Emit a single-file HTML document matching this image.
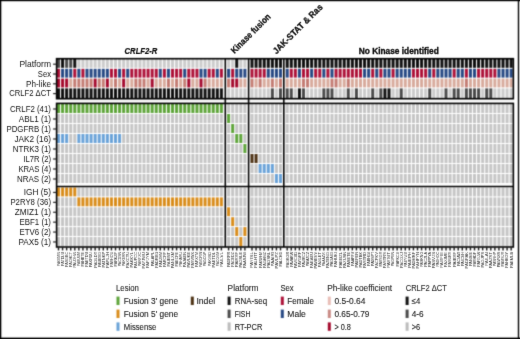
<!DOCTYPE html>
<html><head><meta charset="utf-8"><title>Oncoprint</title>
<style>html,body{margin:0;padding:0;background:#fff;} body{width:520px;height:339px;overflow:hidden;font-family:"Liberation Sans",sans-serif;} svg{display:block;}</style>
</head><body>
<svg width="520" height="339" viewBox="0 0 520 339"><defs><filter id="bl" x="0" y="0" width="1" height="1" color-interpolation-filters="sRGB"><feConvolveMatrix order="3" kernelMatrix="0.02768 0.11101 0.02768 0.11101 0.44521 0.11101 0.02768 0.11101 0.02768" edgeMode="duplicate"/></filter><filter id="bt" x="-0.02" y="-0.02" width="1.04" height="1.04" color-interpolation-filters="sRGB"><feConvolveMatrix order="3" kernelMatrix="0.00524 0.06192 0.00524 0.06192 0.73137 0.06192 0.00524 0.06192 0.00524" edgeMode="none"/></filter></defs><rect width="520" height="339" fill="#fff"/><g filter="url(#bl)"><rect width="520" height="339" fill="#fff"/><rect x="57.00" y="59.00" width="3.00" height="8.80" fill="#4a4a4a"/>
<rect x="57.00" y="68.80" width="3.00" height="8.80" fill="#ad1239"/>
<rect x="57.00" y="78.60" width="3.00" height="8.80" fill="#a50b2e"/>
<rect x="57.00" y="88.40" width="3.00" height="9.60" fill="#111111"/>
<rect x="61.07" y="59.00" width="3.00" height="8.80" fill="#111111"/>
<rect x="61.07" y="68.80" width="3.00" height="8.80" fill="#274984"/>
<rect x="61.07" y="78.60" width="3.00" height="8.80" fill="#a50b2e"/>
<rect x="61.07" y="88.40" width="3.00" height="9.60" fill="#111111"/>
<rect x="65.14" y="59.00" width="3.00" height="8.80" fill="#4a4a4a"/>
<rect x="65.14" y="68.80" width="3.00" height="8.80" fill="#274984"/>
<rect x="65.14" y="78.60" width="3.00" height="8.80" fill="#a50b2e"/>
<rect x="65.14" y="88.40" width="3.00" height="9.60" fill="#111111"/>
<rect x="69.22" y="59.00" width="3.00" height="8.80" fill="#4a4a4a"/>
<rect x="69.22" y="68.80" width="3.00" height="8.80" fill="#274984"/>
<rect x="69.22" y="78.60" width="3.00" height="8.80" fill="#d8ab9d"/>
<rect x="69.22" y="88.40" width="3.00" height="9.60" fill="#111111"/>
<rect x="73.29" y="59.00" width="3.00" height="8.80" fill="#111111"/>
<rect x="73.29" y="68.80" width="3.00" height="8.80" fill="#ad1239"/>
<rect x="73.29" y="78.60" width="3.00" height="8.80" fill="#c47d74"/>
<rect x="73.29" y="88.40" width="3.00" height="9.60" fill="#111111"/>
<rect x="77.36" y="59.00" width="3.00" height="8.80" fill="#cccccc"/>
<rect x="77.36" y="68.80" width="3.00" height="8.80" fill="#274984"/>
<rect x="77.36" y="78.60" width="3.00" height="8.80" fill="#c47d74"/>
<rect x="77.36" y="88.40" width="3.00" height="9.60" fill="#111111"/>
<rect x="81.43" y="59.00" width="3.00" height="8.80" fill="#cccccc"/>
<rect x="81.43" y="68.80" width="3.00" height="8.80" fill="#ad1239"/>
<rect x="81.43" y="78.60" width="3.00" height="8.80" fill="#c47d74"/>
<rect x="81.43" y="88.40" width="3.00" height="9.60" fill="#111111"/>
<rect x="85.50" y="59.00" width="3.00" height="8.80" fill="#cccccc"/>
<rect x="85.50" y="68.80" width="3.00" height="8.80" fill="#274984"/>
<rect x="85.50" y="78.60" width="3.00" height="8.80" fill="#c47d74"/>
<rect x="85.50" y="88.40" width="3.00" height="9.60" fill="#111111"/>
<rect x="89.58" y="59.00" width="3.00" height="8.80" fill="#cccccc"/>
<rect x="89.58" y="68.80" width="3.00" height="8.80" fill="#274984"/>
<rect x="89.58" y="78.60" width="3.00" height="8.80" fill="#c47d74"/>
<rect x="89.58" y="88.40" width="3.00" height="9.60" fill="#111111"/>
<rect x="93.65" y="59.00" width="3.00" height="8.80" fill="#cccccc"/>
<rect x="93.65" y="68.80" width="3.00" height="8.80" fill="#274984"/>
<rect x="93.65" y="78.60" width="3.00" height="8.80" fill="#a50b2e"/>
<rect x="93.65" y="88.40" width="3.00" height="9.60" fill="#111111"/>
<rect x="97.72" y="59.00" width="3.00" height="8.80" fill="#cccccc"/>
<rect x="97.72" y="68.80" width="3.00" height="8.80" fill="#274984"/>
<rect x="97.72" y="78.60" width="3.00" height="8.80" fill="#c47d74"/>
<rect x="97.72" y="88.40" width="3.00" height="9.60" fill="#111111"/>
<rect x="101.79" y="59.00" width="3.00" height="8.80" fill="#cccccc"/>
<rect x="101.79" y="68.80" width="3.00" height="8.80" fill="#274984"/>
<rect x="101.79" y="78.60" width="3.00" height="8.80" fill="#c47d74"/>
<rect x="101.79" y="88.40" width="3.00" height="9.60" fill="#111111"/>
<rect x="105.86" y="59.00" width="3.00" height="8.80" fill="#cccccc"/>
<rect x="105.86" y="68.80" width="3.00" height="8.80" fill="#274984"/>
<rect x="105.86" y="78.60" width="3.00" height="8.80" fill="#a50b2e"/>
<rect x="105.86" y="88.40" width="3.00" height="9.60" fill="#111111"/>
<rect x="109.94" y="59.00" width="3.00" height="8.80" fill="#cccccc"/>
<rect x="109.94" y="68.80" width="3.00" height="8.80" fill="#ad1239"/>
<rect x="109.94" y="78.60" width="3.00" height="8.80" fill="#d8ab9d"/>
<rect x="109.94" y="88.40" width="3.00" height="9.60" fill="#111111"/>
<rect x="114.01" y="59.00" width="3.00" height="8.80" fill="#cccccc"/>
<rect x="114.01" y="68.80" width="3.00" height="8.80" fill="#ad1239"/>
<rect x="114.01" y="78.60" width="3.00" height="8.80" fill="#c47d74"/>
<rect x="114.01" y="88.40" width="3.00" height="9.60" fill="#111111"/>
<rect x="118.08" y="59.00" width="3.00" height="8.80" fill="#cccccc"/>
<rect x="118.08" y="68.80" width="3.00" height="8.80" fill="#274984"/>
<rect x="118.08" y="78.60" width="3.00" height="8.80" fill="#d8ab9d"/>
<rect x="118.08" y="88.40" width="3.00" height="9.60" fill="#111111"/>
<rect x="122.15" y="59.00" width="3.00" height="8.80" fill="#cccccc"/>
<rect x="122.15" y="68.80" width="3.00" height="8.80" fill="#ad1239"/>
<rect x="122.15" y="78.60" width="3.00" height="8.80" fill="#a50b2e"/>
<rect x="122.15" y="88.40" width="3.00" height="9.60" fill="#111111"/>
<rect x="126.22" y="59.00" width="3.00" height="8.80" fill="#cccccc"/>
<rect x="126.22" y="68.80" width="3.00" height="8.80" fill="#274984"/>
<rect x="126.22" y="78.60" width="3.00" height="8.80" fill="#d8ab9d"/>
<rect x="126.22" y="88.40" width="3.00" height="9.60" fill="#111111"/>
<rect x="130.30" y="59.00" width="3.00" height="8.80" fill="#cccccc"/>
<rect x="130.30" y="68.80" width="3.00" height="8.80" fill="#ad1239"/>
<rect x="130.30" y="78.60" width="3.00" height="8.80" fill="#d8ab9d"/>
<rect x="130.30" y="88.40" width="3.00" height="9.60" fill="#111111"/>
<rect x="134.37" y="59.00" width="3.00" height="8.80" fill="#cccccc"/>
<rect x="134.37" y="68.80" width="3.00" height="8.80" fill="#ad1239"/>
<rect x="134.37" y="78.60" width="3.00" height="8.80" fill="#c47d74"/>
<rect x="134.37" y="88.40" width="3.00" height="9.60" fill="#111111"/>
<rect x="138.44" y="59.00" width="3.00" height="8.80" fill="#cccccc"/>
<rect x="138.44" y="68.80" width="3.00" height="8.80" fill="#ad1239"/>
<rect x="138.44" y="78.60" width="3.00" height="8.80" fill="#c47d74"/>
<rect x="138.44" y="88.40" width="3.00" height="9.60" fill="#111111"/>
<rect x="142.51" y="59.00" width="3.00" height="8.80" fill="#cccccc"/>
<rect x="142.51" y="68.80" width="3.00" height="8.80" fill="#ad1239"/>
<rect x="142.51" y="78.60" width="3.00" height="8.80" fill="#c47d74"/>
<rect x="142.51" y="88.40" width="3.00" height="9.60" fill="#111111"/>
<rect x="146.58" y="59.00" width="3.00" height="8.80" fill="#cccccc"/>
<rect x="146.58" y="68.80" width="3.00" height="8.80" fill="#ad1239"/>
<rect x="146.58" y="78.60" width="3.00" height="8.80" fill="#d8ab9d"/>
<rect x="146.58" y="88.40" width="3.00" height="9.60" fill="#111111"/>
<rect x="150.66" y="59.00" width="3.00" height="8.80" fill="#cccccc"/>
<rect x="150.66" y="68.80" width="3.00" height="8.80" fill="#ad1239"/>
<rect x="150.66" y="78.60" width="3.00" height="8.80" fill="#a50b2e"/>
<rect x="150.66" y="88.40" width="3.00" height="9.60" fill="#111111"/>
<rect x="154.73" y="59.00" width="3.00" height="8.80" fill="#cccccc"/>
<rect x="154.73" y="68.80" width="3.00" height="8.80" fill="#ad1239"/>
<rect x="154.73" y="78.60" width="3.00" height="8.80" fill="#d8ab9d"/>
<rect x="154.73" y="88.40" width="3.00" height="9.60" fill="#111111"/>
<rect x="158.80" y="59.00" width="3.00" height="8.80" fill="#cccccc"/>
<rect x="158.80" y="68.80" width="3.00" height="8.80" fill="#274984"/>
<rect x="158.80" y="78.60" width="3.00" height="8.80" fill="#d8ab9d"/>
<rect x="158.80" y="88.40" width="3.00" height="9.60" fill="#111111"/>
<rect x="162.87" y="59.00" width="3.00" height="8.80" fill="#cccccc"/>
<rect x="162.87" y="68.80" width="3.00" height="8.80" fill="#ad1239"/>
<rect x="162.87" y="78.60" width="3.00" height="8.80" fill="#d8ab9d"/>
<rect x="162.87" y="88.40" width="3.00" height="9.60" fill="#111111"/>
<rect x="166.94" y="59.00" width="3.00" height="8.80" fill="#cccccc"/>
<rect x="166.94" y="68.80" width="3.00" height="8.80" fill="#274984"/>
<rect x="166.94" y="78.60" width="3.00" height="8.80" fill="#c47d74"/>
<rect x="166.94" y="88.40" width="3.00" height="9.60" fill="#111111"/>
<rect x="171.02" y="59.00" width="3.00" height="8.80" fill="#cccccc"/>
<rect x="171.02" y="68.80" width="3.00" height="8.80" fill="#ad1239"/>
<rect x="171.02" y="78.60" width="3.00" height="8.80" fill="#d8ab9d"/>
<rect x="171.02" y="88.40" width="3.00" height="9.60" fill="#111111"/>
<rect x="175.09" y="59.00" width="3.00" height="8.80" fill="#cccccc"/>
<rect x="175.09" y="68.80" width="3.00" height="8.80" fill="#ad1239"/>
<rect x="175.09" y="78.60" width="3.00" height="8.80" fill="#c47d74"/>
<rect x="175.09" y="88.40" width="3.00" height="9.60" fill="#111111"/>
<rect x="179.16" y="59.00" width="3.00" height="8.80" fill="#cccccc"/>
<rect x="179.16" y="68.80" width="3.00" height="8.80" fill="#ad1239"/>
<rect x="179.16" y="78.60" width="3.00" height="8.80" fill="#d8ab9d"/>
<rect x="179.16" y="88.40" width="3.00" height="9.60" fill="#111111"/>
<rect x="183.23" y="59.00" width="3.00" height="8.80" fill="#cccccc"/>
<rect x="183.23" y="68.80" width="3.00" height="8.80" fill="#274984"/>
<rect x="183.23" y="78.60" width="3.00" height="8.80" fill="#c47d74"/>
<rect x="183.23" y="88.40" width="3.00" height="9.60" fill="#111111"/>
<rect x="187.30" y="59.00" width="3.00" height="8.80" fill="#cccccc"/>
<rect x="187.30" y="68.80" width="3.00" height="8.80" fill="#ad1239"/>
<rect x="187.30" y="78.60" width="3.00" height="8.80" fill="#a50b2e"/>
<rect x="187.30" y="88.40" width="3.00" height="9.60" fill="#111111"/>
<rect x="191.38" y="59.00" width="3.00" height="8.80" fill="#cccccc"/>
<rect x="191.38" y="68.80" width="3.00" height="8.80" fill="#ad1239"/>
<rect x="191.38" y="78.60" width="3.00" height="8.80" fill="#d8ab9d"/>
<rect x="191.38" y="88.40" width="3.00" height="9.60" fill="#111111"/>
<rect x="195.45" y="59.00" width="3.00" height="8.80" fill="#cccccc"/>
<rect x="195.45" y="68.80" width="3.00" height="8.80" fill="#ad1239"/>
<rect x="195.45" y="78.60" width="3.00" height="8.80" fill="#d8ab9d"/>
<rect x="195.45" y="88.40" width="3.00" height="9.60" fill="#111111"/>
<rect x="199.52" y="59.00" width="3.00" height="8.80" fill="#cccccc"/>
<rect x="199.52" y="68.80" width="3.00" height="8.80" fill="#274984"/>
<rect x="199.52" y="78.60" width="3.00" height="8.80" fill="#a50b2e"/>
<rect x="199.52" y="88.40" width="3.00" height="9.60" fill="#111111"/>
<rect x="203.59" y="59.00" width="3.00" height="8.80" fill="#cccccc"/>
<rect x="203.59" y="68.80" width="3.00" height="8.80" fill="#274984"/>
<rect x="203.59" y="78.60" width="3.00" height="8.80" fill="#c47d74"/>
<rect x="203.59" y="88.40" width="3.00" height="9.60" fill="#111111"/>
<rect x="207.66" y="59.00" width="3.00" height="8.80" fill="#cccccc"/>
<rect x="207.66" y="68.80" width="3.00" height="8.80" fill="#ad1239"/>
<rect x="207.66" y="78.60" width="3.00" height="8.80" fill="#d8ab9d"/>
<rect x="207.66" y="88.40" width="3.00" height="9.60" fill="#111111"/>
<rect x="211.74" y="59.00" width="3.00" height="8.80" fill="#cccccc"/>
<rect x="211.74" y="68.80" width="3.00" height="8.80" fill="#ad1239"/>
<rect x="211.74" y="78.60" width="3.00" height="8.80" fill="#d8ab9d"/>
<rect x="211.74" y="88.40" width="3.00" height="9.60" fill="#111111"/>
<rect x="215.81" y="59.00" width="3.00" height="8.80" fill="#cccccc"/>
<rect x="215.81" y="68.80" width="3.00" height="8.80" fill="#274984"/>
<rect x="215.81" y="78.60" width="3.00" height="8.80" fill="#d8ab9d"/>
<rect x="215.81" y="88.40" width="3.00" height="9.60" fill="#111111"/>
<rect x="219.88" y="59.00" width="3.00" height="8.80" fill="#cccccc"/>
<rect x="219.88" y="68.80" width="3.00" height="8.80" fill="#ad1239"/>
<rect x="219.88" y="78.60" width="3.00" height="8.80" fill="#d8ab9d"/>
<rect x="219.88" y="88.40" width="3.00" height="9.60" fill="#111111"/>
<rect x="227.10" y="59.00" width="3.00" height="8.80" fill="#cccccc"/>
<rect x="227.10" y="68.80" width="3.00" height="8.80" fill="#274984"/>
<rect x="227.10" y="78.60" width="3.00" height="8.80" fill="#c47d74"/>
<rect x="227.10" y="88.40" width="3.00" height="9.60" fill="#cccccc"/>
<rect x="231.17" y="59.00" width="3.00" height="8.80" fill="#cccccc"/>
<rect x="231.17" y="68.80" width="3.00" height="8.80" fill="#ad1239"/>
<rect x="231.17" y="78.60" width="3.00" height="8.80" fill="#a50b2e"/>
<rect x="231.17" y="88.40" width="3.00" height="9.60" fill="#cccccc"/>
<rect x="235.24" y="59.00" width="3.00" height="8.80" fill="#111111"/>
<rect x="235.24" y="68.80" width="3.00" height="8.80" fill="#274984"/>
<rect x="235.24" y="78.60" width="3.00" height="8.80" fill="#a50b2e"/>
<rect x="235.24" y="88.40" width="3.00" height="9.60" fill="#cccccc"/>
<rect x="239.32" y="59.00" width="3.00" height="8.80" fill="#cccccc"/>
<rect x="239.32" y="68.80" width="3.00" height="8.80" fill="#274984"/>
<rect x="239.32" y="78.60" width="3.00" height="8.80" fill="#d8ab9d"/>
<rect x="239.32" y="88.40" width="3.00" height="9.60" fill="#cccccc"/>
<rect x="243.39" y="59.00" width="3.00" height="8.80" fill="#cccccc"/>
<rect x="243.39" y="68.80" width="3.00" height="8.80" fill="#274984"/>
<rect x="243.39" y="78.60" width="3.00" height="8.80" fill="#d8ab9d"/>
<rect x="243.39" y="88.40" width="3.00" height="9.60" fill="#cccccc"/>
<rect x="250.50" y="59.00" width="3.00" height="8.80" fill="#111111"/>
<rect x="250.50" y="68.80" width="3.00" height="8.80" fill="#ad1239"/>
<rect x="250.50" y="78.60" width="3.00" height="8.80" fill="#c47d74"/>
<rect x="250.50" y="88.40" width="3.00" height="9.60" fill="#cccccc"/>
<rect x="254.57" y="59.00" width="3.00" height="8.80" fill="#111111"/>
<rect x="254.57" y="68.80" width="3.00" height="8.80" fill="#ad1239"/>
<rect x="254.57" y="78.60" width="3.00" height="8.80" fill="#d8ab9d"/>
<rect x="254.57" y="88.40" width="3.00" height="9.60" fill="#cccccc"/>
<rect x="258.64" y="59.00" width="3.00" height="8.80" fill="#111111"/>
<rect x="258.64" y="68.80" width="3.00" height="8.80" fill="#ad1239"/>
<rect x="258.64" y="78.60" width="3.00" height="8.80" fill="#c47d74"/>
<rect x="258.64" y="88.40" width="3.00" height="9.60" fill="#cccccc"/>
<rect x="262.72" y="59.00" width="3.00" height="8.80" fill="#111111"/>
<rect x="262.72" y="68.80" width="3.00" height="8.80" fill="#ad1239"/>
<rect x="262.72" y="78.60" width="3.00" height="8.80" fill="#d8ab9d"/>
<rect x="262.72" y="88.40" width="3.00" height="9.60" fill="#cccccc"/>
<rect x="266.79" y="59.00" width="3.00" height="8.80" fill="#111111"/>
<rect x="266.79" y="68.80" width="3.00" height="8.80" fill="#274984"/>
<rect x="266.79" y="78.60" width="3.00" height="8.80" fill="#d8ab9d"/>
<rect x="266.79" y="88.40" width="3.00" height="9.60" fill="#cccccc"/>
<rect x="270.86" y="59.00" width="3.00" height="8.80" fill="#111111"/>
<rect x="270.86" y="68.80" width="3.00" height="8.80" fill="#274984"/>
<rect x="270.86" y="78.60" width="3.00" height="8.80" fill="#c47d74"/>
<rect x="270.86" y="88.40" width="3.00" height="9.60" fill="#4a4a4a"/>
<rect x="274.93" y="59.00" width="3.00" height="8.80" fill="#111111"/>
<rect x="274.93" y="68.80" width="3.00" height="8.80" fill="#274984"/>
<rect x="274.93" y="78.60" width="3.00" height="8.80" fill="#d8ab9d"/>
<rect x="274.93" y="88.40" width="3.00" height="9.60" fill="#cccccc"/>
<rect x="279.00" y="59.00" width="3.00" height="8.80" fill="#111111"/>
<rect x="279.00" y="68.80" width="3.00" height="8.80" fill="#274984"/>
<rect x="279.00" y="78.60" width="3.00" height="8.80" fill="#c47d74"/>
<rect x="279.00" y="88.40" width="3.00" height="9.60" fill="#4a4a4a"/>
<rect x="285.70" y="59.00" width="3.00" height="8.80" fill="#111111"/>
<rect x="285.70" y="68.80" width="3.00" height="8.80" fill="#274984"/>
<rect x="285.70" y="78.60" width="3.00" height="8.80" fill="#d8ab9d"/>
<rect x="285.70" y="88.40" width="3.00" height="9.60" fill="#4a4a4a"/>
<rect x="289.77" y="59.00" width="3.00" height="8.80" fill="#111111"/>
<rect x="289.77" y="68.80" width="3.00" height="8.80" fill="#ad1239"/>
<rect x="289.77" y="78.60" width="3.00" height="8.80" fill="#d8ab9d"/>
<rect x="289.77" y="88.40" width="3.00" height="9.60" fill="#4a4a4a"/>
<rect x="293.84" y="59.00" width="3.00" height="8.80" fill="#111111"/>
<rect x="293.84" y="68.80" width="3.00" height="8.80" fill="#ad1239"/>
<rect x="293.84" y="78.60" width="3.00" height="8.80" fill="#d8ab9d"/>
<rect x="293.84" y="88.40" width="3.00" height="9.60" fill="#cccccc"/>
<rect x="297.92" y="59.00" width="3.00" height="8.80" fill="#111111"/>
<rect x="297.92" y="68.80" width="3.00" height="8.80" fill="#274984"/>
<rect x="297.92" y="78.60" width="3.00" height="8.80" fill="#d8ab9d"/>
<rect x="297.92" y="88.40" width="3.00" height="9.60" fill="#111111"/>
<rect x="301.99" y="59.00" width="3.00" height="8.80" fill="#111111"/>
<rect x="301.99" y="68.80" width="3.00" height="8.80" fill="#ad1239"/>
<rect x="301.99" y="78.60" width="3.00" height="8.80" fill="#c47d74"/>
<rect x="301.99" y="88.40" width="3.00" height="9.60" fill="#4a4a4a"/>
<rect x="306.06" y="59.00" width="3.00" height="8.80" fill="#111111"/>
<rect x="306.06" y="68.80" width="3.00" height="8.80" fill="#ad1239"/>
<rect x="306.06" y="78.60" width="3.00" height="8.80" fill="#c47d74"/>
<rect x="306.06" y="88.40" width="3.00" height="9.60" fill="#cccccc"/>
<rect x="310.13" y="59.00" width="3.00" height="8.80" fill="#111111"/>
<rect x="310.13" y="68.80" width="3.00" height="8.80" fill="#274984"/>
<rect x="310.13" y="78.60" width="3.00" height="8.80" fill="#d8ab9d"/>
<rect x="310.13" y="88.40" width="3.00" height="9.60" fill="#cccccc"/>
<rect x="314.20" y="59.00" width="3.00" height="8.80" fill="#111111"/>
<rect x="314.20" y="68.80" width="3.00" height="8.80" fill="#ad1239"/>
<rect x="314.20" y="78.60" width="3.00" height="8.80" fill="#d8ab9d"/>
<rect x="314.20" y="88.40" width="3.00" height="9.60" fill="#cccccc"/>
<rect x="318.28" y="59.00" width="3.00" height="8.80" fill="#111111"/>
<rect x="318.28" y="68.80" width="3.00" height="8.80" fill="#ad1239"/>
<rect x="318.28" y="78.60" width="3.00" height="8.80" fill="#d8ab9d"/>
<rect x="318.28" y="88.40" width="3.00" height="9.60" fill="#cccccc"/>
<rect x="322.35" y="59.00" width="3.00" height="8.80" fill="#111111"/>
<rect x="322.35" y="68.80" width="3.00" height="8.80" fill="#274984"/>
<rect x="322.35" y="78.60" width="3.00" height="8.80" fill="#d8ab9d"/>
<rect x="322.35" y="88.40" width="3.00" height="9.60" fill="#4a4a4a"/>
<rect x="326.42" y="59.00" width="3.00" height="8.80" fill="#111111"/>
<rect x="326.42" y="68.80" width="3.00" height="8.80" fill="#ad1239"/>
<rect x="326.42" y="78.60" width="3.00" height="8.80" fill="#d8ab9d"/>
<rect x="326.42" y="88.40" width="3.00" height="9.60" fill="#4a4a4a"/>
<rect x="330.49" y="59.00" width="3.00" height="8.80" fill="#111111"/>
<rect x="330.49" y="68.80" width="3.00" height="8.80" fill="#274984"/>
<rect x="330.49" y="78.60" width="3.00" height="8.80" fill="#c47d74"/>
<rect x="330.49" y="88.40" width="3.00" height="9.60" fill="#4a4a4a"/>
<rect x="334.56" y="59.00" width="3.00" height="8.80" fill="#111111"/>
<rect x="334.56" y="68.80" width="3.00" height="8.80" fill="#ad1239"/>
<rect x="334.56" y="78.60" width="3.00" height="8.80" fill="#c47d74"/>
<rect x="334.56" y="88.40" width="3.00" height="9.60" fill="#cccccc"/>
<rect x="338.64" y="59.00" width="3.00" height="8.80" fill="#111111"/>
<rect x="338.64" y="68.80" width="3.00" height="8.80" fill="#ad1239"/>
<rect x="338.64" y="78.60" width="3.00" height="8.80" fill="#d8ab9d"/>
<rect x="338.64" y="88.40" width="3.00" height="9.60" fill="#cccccc"/>
<rect x="342.71" y="59.00" width="3.00" height="8.80" fill="#111111"/>
<rect x="342.71" y="68.80" width="3.00" height="8.80" fill="#ad1239"/>
<rect x="342.71" y="78.60" width="3.00" height="8.80" fill="#d8ab9d"/>
<rect x="342.71" y="88.40" width="3.00" height="9.60" fill="#cccccc"/>
<rect x="346.78" y="59.00" width="3.00" height="8.80" fill="#111111"/>
<rect x="346.78" y="68.80" width="3.00" height="8.80" fill="#ad1239"/>
<rect x="346.78" y="78.60" width="3.00" height="8.80" fill="#c47d74"/>
<rect x="346.78" y="88.40" width="3.00" height="9.60" fill="#4a4a4a"/>
<rect x="350.85" y="59.00" width="3.00" height="8.80" fill="#111111"/>
<rect x="350.85" y="68.80" width="3.00" height="8.80" fill="#ad1239"/>
<rect x="350.85" y="78.60" width="3.00" height="8.80" fill="#d8ab9d"/>
<rect x="350.85" y="88.40" width="3.00" height="9.60" fill="#cccccc"/>
<rect x="354.92" y="59.00" width="3.00" height="8.80" fill="#111111"/>
<rect x="354.92" y="68.80" width="3.00" height="8.80" fill="#ad1239"/>
<rect x="354.92" y="78.60" width="3.00" height="8.80" fill="#d8ab9d"/>
<rect x="354.92" y="88.40" width="3.00" height="9.60" fill="#4a4a4a"/>
<rect x="359.00" y="59.00" width="3.00" height="8.80" fill="#111111"/>
<rect x="359.00" y="68.80" width="3.00" height="8.80" fill="#ad1239"/>
<rect x="359.00" y="78.60" width="3.00" height="8.80" fill="#d8ab9d"/>
<rect x="359.00" y="88.40" width="3.00" height="9.60" fill="#cccccc"/>
<rect x="363.07" y="59.00" width="3.00" height="8.80" fill="#111111"/>
<rect x="363.07" y="68.80" width="3.00" height="8.80" fill="#274984"/>
<rect x="363.07" y="78.60" width="3.00" height="8.80" fill="#d8ab9d"/>
<rect x="363.07" y="88.40" width="3.00" height="9.60" fill="#cccccc"/>
<rect x="367.14" y="59.00" width="3.00" height="8.80" fill="#111111"/>
<rect x="367.14" y="68.80" width="3.00" height="8.80" fill="#274984"/>
<rect x="367.14" y="78.60" width="3.00" height="8.80" fill="#d8ab9d"/>
<rect x="367.14" y="88.40" width="3.00" height="9.60" fill="#cccccc"/>
<rect x="371.21" y="59.00" width="3.00" height="8.80" fill="#111111"/>
<rect x="371.21" y="68.80" width="3.00" height="8.80" fill="#ad1239"/>
<rect x="371.21" y="78.60" width="3.00" height="8.80" fill="#d8ab9d"/>
<rect x="371.21" y="88.40" width="3.00" height="9.60" fill="#4a4a4a"/>
<rect x="375.28" y="59.00" width="3.00" height="8.80" fill="#111111"/>
<rect x="375.28" y="68.80" width="3.00" height="8.80" fill="#274984"/>
<rect x="375.28" y="78.60" width="3.00" height="8.80" fill="#d8ab9d"/>
<rect x="375.28" y="88.40" width="3.00" height="9.60" fill="#cccccc"/>
<rect x="379.36" y="59.00" width="3.00" height="8.80" fill="#111111"/>
<rect x="379.36" y="68.80" width="3.00" height="8.80" fill="#ad1239"/>
<rect x="379.36" y="78.60" width="3.00" height="8.80" fill="#d8ab9d"/>
<rect x="379.36" y="88.40" width="3.00" height="9.60" fill="#4a4a4a"/>
<rect x="383.43" y="59.00" width="3.00" height="8.80" fill="#111111"/>
<rect x="383.43" y="68.80" width="3.00" height="8.80" fill="#274984"/>
<rect x="383.43" y="78.60" width="3.00" height="8.80" fill="#d8ab9d"/>
<rect x="383.43" y="88.40" width="3.00" height="9.60" fill="#111111"/>
<rect x="387.50" y="59.00" width="3.00" height="8.80" fill="#111111"/>
<rect x="387.50" y="68.80" width="3.00" height="8.80" fill="#274984"/>
<rect x="387.50" y="78.60" width="3.00" height="8.80" fill="#d8ab9d"/>
<rect x="387.50" y="88.40" width="3.00" height="9.60" fill="#111111"/>
<rect x="391.57" y="59.00" width="3.00" height="8.80" fill="#111111"/>
<rect x="391.57" y="68.80" width="3.00" height="8.80" fill="#ad1239"/>
<rect x="391.57" y="78.60" width="3.00" height="8.80" fill="#d8ab9d"/>
<rect x="391.57" y="88.40" width="3.00" height="9.60" fill="#cccccc"/>
<rect x="395.64" y="59.00" width="3.00" height="8.80" fill="#111111"/>
<rect x="395.64" y="68.80" width="3.00" height="8.80" fill="#274984"/>
<rect x="395.64" y="78.60" width="3.00" height="8.80" fill="#d8ab9d"/>
<rect x="395.64" y="88.40" width="3.00" height="9.60" fill="#cccccc"/>
<rect x="399.72" y="59.00" width="3.00" height="8.80" fill="#111111"/>
<rect x="399.72" y="68.80" width="3.00" height="8.80" fill="#274984"/>
<rect x="399.72" y="78.60" width="3.00" height="8.80" fill="#d8ab9d"/>
<rect x="399.72" y="88.40" width="3.00" height="9.60" fill="#4a4a4a"/>
<rect x="403.79" y="59.00" width="3.00" height="8.80" fill="#111111"/>
<rect x="403.79" y="68.80" width="3.00" height="8.80" fill="#274984"/>
<rect x="403.79" y="78.60" width="3.00" height="8.80" fill="#d8ab9d"/>
<rect x="403.79" y="88.40" width="3.00" height="9.60" fill="#cccccc"/>
<rect x="407.86" y="59.00" width="3.00" height="8.80" fill="#111111"/>
<rect x="407.86" y="68.80" width="3.00" height="8.80" fill="#274984"/>
<rect x="407.86" y="78.60" width="3.00" height="8.80" fill="#d8ab9d"/>
<rect x="407.86" y="88.40" width="3.00" height="9.60" fill="#cccccc"/>
<rect x="411.93" y="59.00" width="3.00" height="8.80" fill="#111111"/>
<rect x="411.93" y="68.80" width="3.00" height="8.80" fill="#ad1239"/>
<rect x="411.93" y="78.60" width="3.00" height="8.80" fill="#d8ab9d"/>
<rect x="411.93" y="88.40" width="3.00" height="9.60" fill="#cccccc"/>
<rect x="416.00" y="59.00" width="3.00" height="8.80" fill="#111111"/>
<rect x="416.00" y="68.80" width="3.00" height="8.80" fill="#ad1239"/>
<rect x="416.00" y="78.60" width="3.00" height="8.80" fill="#d8ab9d"/>
<rect x="416.00" y="88.40" width="3.00" height="9.60" fill="#cccccc"/>
<rect x="420.08" y="59.00" width="3.00" height="8.80" fill="#111111"/>
<rect x="420.08" y="68.80" width="3.00" height="8.80" fill="#ad1239"/>
<rect x="420.08" y="78.60" width="3.00" height="8.80" fill="#d8ab9d"/>
<rect x="420.08" y="88.40" width="3.00" height="9.60" fill="#cccccc"/>
<rect x="424.15" y="59.00" width="3.00" height="8.80" fill="#111111"/>
<rect x="424.15" y="68.80" width="3.00" height="8.80" fill="#ad1239"/>
<rect x="424.15" y="78.60" width="3.00" height="8.80" fill="#d8ab9d"/>
<rect x="424.15" y="88.40" width="3.00" height="9.60" fill="#cccccc"/>
<rect x="428.22" y="59.00" width="3.00" height="8.80" fill="#111111"/>
<rect x="428.22" y="68.80" width="3.00" height="8.80" fill="#274984"/>
<rect x="428.22" y="78.60" width="3.00" height="8.80" fill="#d8ab9d"/>
<rect x="428.22" y="88.40" width="3.00" height="9.60" fill="#4a4a4a"/>
<rect x="432.29" y="59.00" width="3.00" height="8.80" fill="#111111"/>
<rect x="432.29" y="68.80" width="3.00" height="8.80" fill="#ad1239"/>
<rect x="432.29" y="78.60" width="3.00" height="8.80" fill="#d8ab9d"/>
<rect x="432.29" y="88.40" width="3.00" height="9.60" fill="#cccccc"/>
<rect x="436.36" y="59.00" width="3.00" height="8.80" fill="#111111"/>
<rect x="436.36" y="68.80" width="3.00" height="8.80" fill="#274984"/>
<rect x="436.36" y="78.60" width="3.00" height="8.80" fill="#d8ab9d"/>
<rect x="436.36" y="88.40" width="3.00" height="9.60" fill="#cccccc"/>
<rect x="440.44" y="59.00" width="3.00" height="8.80" fill="#111111"/>
<rect x="440.44" y="68.80" width="3.00" height="8.80" fill="#274984"/>
<rect x="440.44" y="78.60" width="3.00" height="8.80" fill="#d8ab9d"/>
<rect x="440.44" y="88.40" width="3.00" height="9.60" fill="#cccccc"/>
<rect x="444.51" y="59.00" width="3.00" height="8.80" fill="#111111"/>
<rect x="444.51" y="68.80" width="3.00" height="8.80" fill="#274984"/>
<rect x="444.51" y="78.60" width="3.00" height="8.80" fill="#d8ab9d"/>
<rect x="444.51" y="88.40" width="3.00" height="9.60" fill="#4a4a4a"/>
<rect x="448.58" y="59.00" width="3.00" height="8.80" fill="#111111"/>
<rect x="448.58" y="68.80" width="3.00" height="8.80" fill="#274984"/>
<rect x="448.58" y="78.60" width="3.00" height="8.80" fill="#d8ab9d"/>
<rect x="448.58" y="88.40" width="3.00" height="9.60" fill="#cccccc"/>
<rect x="452.65" y="59.00" width="3.00" height="8.80" fill="#111111"/>
<rect x="452.65" y="68.80" width="3.00" height="8.80" fill="#ad1239"/>
<rect x="452.65" y="78.60" width="3.00" height="8.80" fill="#d8ab9d"/>
<rect x="452.65" y="88.40" width="3.00" height="9.60" fill="#4a4a4a"/>
<rect x="456.72" y="59.00" width="3.00" height="8.80" fill="#111111"/>
<rect x="456.72" y="68.80" width="3.00" height="8.80" fill="#274984"/>
<rect x="456.72" y="78.60" width="3.00" height="8.80" fill="#d8ab9d"/>
<rect x="456.72" y="88.40" width="3.00" height="9.60" fill="#4a4a4a"/>
<rect x="460.80" y="59.00" width="3.00" height="8.80" fill="#111111"/>
<rect x="460.80" y="68.80" width="3.00" height="8.80" fill="#274984"/>
<rect x="460.80" y="78.60" width="3.00" height="8.80" fill="#d8ab9d"/>
<rect x="460.80" y="88.40" width="3.00" height="9.60" fill="#cccccc"/>
<rect x="464.87" y="59.00" width="3.00" height="8.80" fill="#111111"/>
<rect x="464.87" y="68.80" width="3.00" height="8.80" fill="#ad1239"/>
<rect x="464.87" y="78.60" width="3.00" height="8.80" fill="#c47d74"/>
<rect x="464.87" y="88.40" width="3.00" height="9.60" fill="#4a4a4a"/>
<rect x="468.94" y="59.00" width="3.00" height="8.80" fill="#111111"/>
<rect x="468.94" y="68.80" width="3.00" height="8.80" fill="#274984"/>
<rect x="468.94" y="78.60" width="3.00" height="8.80" fill="#d8ab9d"/>
<rect x="468.94" y="88.40" width="3.00" height="9.60" fill="#4a4a4a"/>
<rect x="473.01" y="59.00" width="3.00" height="8.80" fill="#111111"/>
<rect x="473.01" y="68.80" width="3.00" height="8.80" fill="#274984"/>
<rect x="473.01" y="78.60" width="3.00" height="8.80" fill="#d8ab9d"/>
<rect x="473.01" y="88.40" width="3.00" height="9.60" fill="#4a4a4a"/>
<rect x="477.08" y="59.00" width="3.00" height="8.80" fill="#111111"/>
<rect x="477.08" y="68.80" width="3.00" height="8.80" fill="#ad1239"/>
<rect x="477.08" y="78.60" width="3.00" height="8.80" fill="#d8ab9d"/>
<rect x="477.08" y="88.40" width="3.00" height="9.60" fill="#4a4a4a"/>
<rect x="481.16" y="59.00" width="3.00" height="8.80" fill="#111111"/>
<rect x="481.16" y="68.80" width="3.00" height="8.80" fill="#ad1239"/>
<rect x="481.16" y="78.60" width="3.00" height="8.80" fill="#d8ab9d"/>
<rect x="481.16" y="88.40" width="3.00" height="9.60" fill="#cccccc"/>
<rect x="485.23" y="59.00" width="3.00" height="8.80" fill="#111111"/>
<rect x="485.23" y="68.80" width="3.00" height="8.80" fill="#ad1239"/>
<rect x="485.23" y="78.60" width="3.00" height="8.80" fill="#d8ab9d"/>
<rect x="485.23" y="88.40" width="3.00" height="9.60" fill="#4a4a4a"/>
<rect x="489.30" y="59.00" width="3.00" height="8.80" fill="#111111"/>
<rect x="489.30" y="68.80" width="3.00" height="8.80" fill="#ad1239"/>
<rect x="489.30" y="78.60" width="3.00" height="8.80" fill="#d8ab9d"/>
<rect x="489.30" y="88.40" width="3.00" height="9.60" fill="#4a4a4a"/>
<rect x="493.37" y="59.00" width="3.00" height="8.80" fill="#111111"/>
<rect x="493.37" y="68.80" width="3.00" height="8.80" fill="#ad1239"/>
<rect x="493.37" y="78.60" width="3.00" height="8.80" fill="#d8ab9d"/>
<rect x="493.37" y="88.40" width="3.00" height="9.60" fill="#cccccc"/>
<rect x="497.44" y="59.00" width="3.00" height="8.80" fill="#111111"/>
<rect x="497.44" y="68.80" width="3.00" height="8.80" fill="#274984"/>
<rect x="497.44" y="78.60" width="3.00" height="8.80" fill="#d8ab9d"/>
<rect x="497.44" y="88.40" width="3.00" height="9.60" fill="#cccccc"/>
<rect x="501.52" y="59.00" width="3.00" height="8.80" fill="#111111"/>
<rect x="501.52" y="68.80" width="3.00" height="8.80" fill="#274984"/>
<rect x="501.52" y="78.60" width="3.00" height="8.80" fill="#d8ab9d"/>
<rect x="501.52" y="88.40" width="3.00" height="9.60" fill="#cccccc"/>
<rect x="505.59" y="59.00" width="3.00" height="8.80" fill="#111111"/>
<rect x="505.59" y="68.80" width="3.00" height="8.80" fill="#274984"/>
<rect x="505.59" y="78.60" width="3.00" height="8.80" fill="#d8ab9d"/>
<rect x="505.59" y="88.40" width="3.00" height="9.60" fill="#cccccc"/>
<rect x="509.66" y="59.00" width="3.00" height="8.80" fill="#111111"/>
<rect x="509.66" y="68.80" width="3.00" height="8.80" fill="#274984"/>
<rect x="509.66" y="78.60" width="3.00" height="8.80" fill="#d8ab9d"/>
<rect x="509.66" y="88.40" width="3.00" height="9.60" fill="#cccccc"/>
<rect x="57.00" y="104.00" width="3.00" height="9.00" fill="#5fa53b"/>
<rect x="61.07" y="104.00" width="3.00" height="9.00" fill="#5fa53b"/>
<rect x="65.14" y="104.00" width="3.00" height="9.00" fill="#5fa53b"/>
<rect x="69.22" y="104.00" width="3.00" height="9.00" fill="#5fa53b"/>
<rect x="73.29" y="104.00" width="3.00" height="9.00" fill="#5fa53b"/>
<rect x="77.36" y="104.00" width="3.00" height="9.00" fill="#5fa53b"/>
<rect x="81.43" y="104.00" width="3.00" height="9.00" fill="#5fa53b"/>
<rect x="85.50" y="104.00" width="3.00" height="9.00" fill="#5fa53b"/>
<rect x="89.58" y="104.00" width="3.00" height="9.00" fill="#5fa53b"/>
<rect x="93.65" y="104.00" width="3.00" height="9.00" fill="#5fa53b"/>
<rect x="97.72" y="104.00" width="3.00" height="9.00" fill="#5fa53b"/>
<rect x="101.79" y="104.00" width="3.00" height="9.00" fill="#5fa53b"/>
<rect x="105.86" y="104.00" width="3.00" height="9.00" fill="#5fa53b"/>
<rect x="109.94" y="104.00" width="3.00" height="9.00" fill="#5fa53b"/>
<rect x="114.01" y="104.00" width="3.00" height="9.00" fill="#5fa53b"/>
<rect x="118.08" y="104.00" width="3.00" height="9.00" fill="#5fa53b"/>
<rect x="122.15" y="104.00" width="3.00" height="9.00" fill="#5fa53b"/>
<rect x="126.22" y="104.00" width="3.00" height="9.00" fill="#5fa53b"/>
<rect x="130.30" y="104.00" width="3.00" height="9.00" fill="#5fa53b"/>
<rect x="134.37" y="104.00" width="3.00" height="9.00" fill="#5fa53b"/>
<rect x="138.44" y="104.00" width="3.00" height="9.00" fill="#5fa53b"/>
<rect x="142.51" y="104.00" width="3.00" height="9.00" fill="#5fa53b"/>
<rect x="146.58" y="104.00" width="3.00" height="9.00" fill="#5fa53b"/>
<rect x="150.66" y="104.00" width="3.00" height="9.00" fill="#5fa53b"/>
<rect x="154.73" y="104.00" width="3.00" height="9.00" fill="#5fa53b"/>
<rect x="158.80" y="104.00" width="3.00" height="9.00" fill="#5fa53b"/>
<rect x="162.87" y="104.00" width="3.00" height="9.00" fill="#5fa53b"/>
<rect x="166.94" y="104.00" width="3.00" height="9.00" fill="#5fa53b"/>
<rect x="171.02" y="104.00" width="3.00" height="9.00" fill="#5fa53b"/>
<rect x="175.09" y="104.00" width="3.00" height="9.00" fill="#5fa53b"/>
<rect x="179.16" y="104.00" width="3.00" height="9.00" fill="#5fa53b"/>
<rect x="183.23" y="104.00" width="3.00" height="9.00" fill="#5fa53b"/>
<rect x="187.30" y="104.00" width="3.00" height="9.00" fill="#5fa53b"/>
<rect x="191.38" y="104.00" width="3.00" height="9.00" fill="#5fa53b"/>
<rect x="195.45" y="104.00" width="3.00" height="9.00" fill="#5fa53b"/>
<rect x="199.52" y="104.00" width="3.00" height="9.00" fill="#5fa53b"/>
<rect x="203.59" y="104.00" width="3.00" height="9.00" fill="#5fa53b"/>
<rect x="207.66" y="104.00" width="3.00" height="9.00" fill="#5fa53b"/>
<rect x="211.74" y="104.00" width="3.00" height="9.00" fill="#5fa53b"/>
<rect x="215.81" y="104.00" width="3.00" height="9.00" fill="#5fa53b"/>
<rect x="219.88" y="104.00" width="3.00" height="9.00" fill="#5fa53b"/>
<rect x="227.10" y="104.00" width="3.00" height="9.00" fill="#c6c6c6"/>
<rect x="231.17" y="104.00" width="3.00" height="9.00" fill="#c6c6c6"/>
<rect x="235.24" y="104.00" width="3.00" height="9.00" fill="#c6c6c6"/>
<rect x="239.32" y="104.00" width="3.00" height="9.00" fill="#c6c6c6"/>
<rect x="243.39" y="104.00" width="3.00" height="9.00" fill="#c6c6c6"/>
<rect x="250.50" y="104.00" width="3.00" height="9.00" fill="#c6c6c6"/>
<rect x="254.57" y="104.00" width="3.00" height="9.00" fill="#c6c6c6"/>
<rect x="258.64" y="104.00" width="3.00" height="9.00" fill="#c6c6c6"/>
<rect x="262.72" y="104.00" width="3.00" height="9.00" fill="#c6c6c6"/>
<rect x="266.79" y="104.00" width="3.00" height="9.00" fill="#c6c6c6"/>
<rect x="270.86" y="104.00" width="3.00" height="9.00" fill="#c6c6c6"/>
<rect x="274.93" y="104.00" width="3.00" height="9.00" fill="#c6c6c6"/>
<rect x="279.00" y="104.00" width="3.00" height="9.00" fill="#c6c6c6"/>
<rect x="285.70" y="104.00" width="3.00" height="9.00" fill="#c6c6c6"/>
<rect x="289.77" y="104.00" width="3.00" height="9.00" fill="#c6c6c6"/>
<rect x="293.84" y="104.00" width="3.00" height="9.00" fill="#c6c6c6"/>
<rect x="297.92" y="104.00" width="3.00" height="9.00" fill="#c6c6c6"/>
<rect x="301.99" y="104.00" width="3.00" height="9.00" fill="#c6c6c6"/>
<rect x="306.06" y="104.00" width="3.00" height="9.00" fill="#c6c6c6"/>
<rect x="310.13" y="104.00" width="3.00" height="9.00" fill="#c6c6c6"/>
<rect x="314.20" y="104.00" width="3.00" height="9.00" fill="#c6c6c6"/>
<rect x="318.28" y="104.00" width="3.00" height="9.00" fill="#c6c6c6"/>
<rect x="322.35" y="104.00" width="3.00" height="9.00" fill="#c6c6c6"/>
<rect x="326.42" y="104.00" width="3.00" height="9.00" fill="#c6c6c6"/>
<rect x="330.49" y="104.00" width="3.00" height="9.00" fill="#c6c6c6"/>
<rect x="334.56" y="104.00" width="3.00" height="9.00" fill="#c6c6c6"/>
<rect x="338.64" y="104.00" width="3.00" height="9.00" fill="#c6c6c6"/>
<rect x="342.71" y="104.00" width="3.00" height="9.00" fill="#c6c6c6"/>
<rect x="346.78" y="104.00" width="3.00" height="9.00" fill="#c6c6c6"/>
<rect x="350.85" y="104.00" width="3.00" height="9.00" fill="#c6c6c6"/>
<rect x="354.92" y="104.00" width="3.00" height="9.00" fill="#c6c6c6"/>
<rect x="359.00" y="104.00" width="3.00" height="9.00" fill="#c6c6c6"/>
<rect x="363.07" y="104.00" width="3.00" height="9.00" fill="#c6c6c6"/>
<rect x="367.14" y="104.00" width="3.00" height="9.00" fill="#c6c6c6"/>
<rect x="371.21" y="104.00" width="3.00" height="9.00" fill="#c6c6c6"/>
<rect x="375.28" y="104.00" width="3.00" height="9.00" fill="#c6c6c6"/>
<rect x="379.36" y="104.00" width="3.00" height="9.00" fill="#c6c6c6"/>
<rect x="383.43" y="104.00" width="3.00" height="9.00" fill="#c6c6c6"/>
<rect x="387.50" y="104.00" width="3.00" height="9.00" fill="#c6c6c6"/>
<rect x="391.57" y="104.00" width="3.00" height="9.00" fill="#c6c6c6"/>
<rect x="395.64" y="104.00" width="3.00" height="9.00" fill="#c6c6c6"/>
<rect x="399.72" y="104.00" width="3.00" height="9.00" fill="#c6c6c6"/>
<rect x="403.79" y="104.00" width="3.00" height="9.00" fill="#c6c6c6"/>
<rect x="407.86" y="104.00" width="3.00" height="9.00" fill="#c6c6c6"/>
<rect x="411.93" y="104.00" width="3.00" height="9.00" fill="#c6c6c6"/>
<rect x="416.00" y="104.00" width="3.00" height="9.00" fill="#c6c6c6"/>
<rect x="420.08" y="104.00" width="3.00" height="9.00" fill="#c6c6c6"/>
<rect x="424.15" y="104.00" width="3.00" height="9.00" fill="#c6c6c6"/>
<rect x="428.22" y="104.00" width="3.00" height="9.00" fill="#c6c6c6"/>
<rect x="432.29" y="104.00" width="3.00" height="9.00" fill="#c6c6c6"/>
<rect x="436.36" y="104.00" width="3.00" height="9.00" fill="#c6c6c6"/>
<rect x="440.44" y="104.00" width="3.00" height="9.00" fill="#c6c6c6"/>
<rect x="444.51" y="104.00" width="3.00" height="9.00" fill="#c6c6c6"/>
<rect x="448.58" y="104.00" width="3.00" height="9.00" fill="#c6c6c6"/>
<rect x="452.65" y="104.00" width="3.00" height="9.00" fill="#c6c6c6"/>
<rect x="456.72" y="104.00" width="3.00" height="9.00" fill="#c6c6c6"/>
<rect x="460.80" y="104.00" width="3.00" height="9.00" fill="#c6c6c6"/>
<rect x="464.87" y="104.00" width="3.00" height="9.00" fill="#c6c6c6"/>
<rect x="468.94" y="104.00" width="3.00" height="9.00" fill="#c6c6c6"/>
<rect x="473.01" y="104.00" width="3.00" height="9.00" fill="#c6c6c6"/>
<rect x="477.08" y="104.00" width="3.00" height="9.00" fill="#c6c6c6"/>
<rect x="481.16" y="104.00" width="3.00" height="9.00" fill="#c6c6c6"/>
<rect x="485.23" y="104.00" width="3.00" height="9.00" fill="#c6c6c6"/>
<rect x="489.30" y="104.00" width="3.00" height="9.00" fill="#c6c6c6"/>
<rect x="493.37" y="104.00" width="3.00" height="9.00" fill="#c6c6c6"/>
<rect x="497.44" y="104.00" width="3.00" height="9.00" fill="#c6c6c6"/>
<rect x="501.52" y="104.00" width="3.00" height="9.00" fill="#c6c6c6"/>
<rect x="505.59" y="104.00" width="3.00" height="9.00" fill="#c6c6c6"/>
<rect x="509.66" y="104.00" width="3.00" height="9.00" fill="#c6c6c6"/>
<rect x="57.00" y="114.00" width="3.00" height="9.00" fill="#c6c6c6"/>
<rect x="61.07" y="114.00" width="3.00" height="9.00" fill="#c6c6c6"/>
<rect x="65.14" y="114.00" width="3.00" height="9.00" fill="#c6c6c6"/>
<rect x="69.22" y="114.00" width="3.00" height="9.00" fill="#c6c6c6"/>
<rect x="73.29" y="114.00" width="3.00" height="9.00" fill="#c6c6c6"/>
<rect x="77.36" y="114.00" width="3.00" height="9.00" fill="#c6c6c6"/>
<rect x="81.43" y="114.00" width="3.00" height="9.00" fill="#c6c6c6"/>
<rect x="85.50" y="114.00" width="3.00" height="9.00" fill="#c6c6c6"/>
<rect x="89.58" y="114.00" width="3.00" height="9.00" fill="#c6c6c6"/>
<rect x="93.65" y="114.00" width="3.00" height="9.00" fill="#c6c6c6"/>
<rect x="97.72" y="114.00" width="3.00" height="9.00" fill="#c6c6c6"/>
<rect x="101.79" y="114.00" width="3.00" height="9.00" fill="#c6c6c6"/>
<rect x="105.86" y="114.00" width="3.00" height="9.00" fill="#c6c6c6"/>
<rect x="109.94" y="114.00" width="3.00" height="9.00" fill="#c6c6c6"/>
<rect x="114.01" y="114.00" width="3.00" height="9.00" fill="#c6c6c6"/>
<rect x="118.08" y="114.00" width="3.00" height="9.00" fill="#c6c6c6"/>
<rect x="122.15" y="114.00" width="3.00" height="9.00" fill="#c6c6c6"/>
<rect x="126.22" y="114.00" width="3.00" height="9.00" fill="#c6c6c6"/>
<rect x="130.30" y="114.00" width="3.00" height="9.00" fill="#c6c6c6"/>
<rect x="134.37" y="114.00" width="3.00" height="9.00" fill="#c6c6c6"/>
<rect x="138.44" y="114.00" width="3.00" height="9.00" fill="#c6c6c6"/>
<rect x="142.51" y="114.00" width="3.00" height="9.00" fill="#c6c6c6"/>
<rect x="146.58" y="114.00" width="3.00" height="9.00" fill="#c6c6c6"/>
<rect x="150.66" y="114.00" width="3.00" height="9.00" fill="#c6c6c6"/>
<rect x="154.73" y="114.00" width="3.00" height="9.00" fill="#c6c6c6"/>
<rect x="158.80" y="114.00" width="3.00" height="9.00" fill="#c6c6c6"/>
<rect x="162.87" y="114.00" width="3.00" height="9.00" fill="#c6c6c6"/>
<rect x="166.94" y="114.00" width="3.00" height="9.00" fill="#c6c6c6"/>
<rect x="171.02" y="114.00" width="3.00" height="9.00" fill="#c6c6c6"/>
<rect x="175.09" y="114.00" width="3.00" height="9.00" fill="#c6c6c6"/>
<rect x="179.16" y="114.00" width="3.00" height="9.00" fill="#c6c6c6"/>
<rect x="183.23" y="114.00" width="3.00" height="9.00" fill="#c6c6c6"/>
<rect x="187.30" y="114.00" width="3.00" height="9.00" fill="#c6c6c6"/>
<rect x="191.38" y="114.00" width="3.00" height="9.00" fill="#c6c6c6"/>
<rect x="195.45" y="114.00" width="3.00" height="9.00" fill="#c6c6c6"/>
<rect x="199.52" y="114.00" width="3.00" height="9.00" fill="#c6c6c6"/>
<rect x="203.59" y="114.00" width="3.00" height="9.00" fill="#c6c6c6"/>
<rect x="207.66" y="114.00" width="3.00" height="9.00" fill="#c6c6c6"/>
<rect x="211.74" y="114.00" width="3.00" height="9.00" fill="#c6c6c6"/>
<rect x="215.81" y="114.00" width="3.00" height="9.00" fill="#c6c6c6"/>
<rect x="219.88" y="114.00" width="3.00" height="9.00" fill="#c6c6c6"/>
<rect x="227.10" y="114.00" width="3.00" height="9.00" fill="#5fa53b"/>
<rect x="231.17" y="114.00" width="3.00" height="9.00" fill="#c6c6c6"/>
<rect x="235.24" y="114.00" width="3.00" height="9.00" fill="#c6c6c6"/>
<rect x="239.32" y="114.00" width="3.00" height="9.00" fill="#c6c6c6"/>
<rect x="243.39" y="114.00" width="3.00" height="9.00" fill="#c6c6c6"/>
<rect x="250.50" y="114.00" width="3.00" height="9.00" fill="#c6c6c6"/>
<rect x="254.57" y="114.00" width="3.00" height="9.00" fill="#c6c6c6"/>
<rect x="258.64" y="114.00" width="3.00" height="9.00" fill="#c6c6c6"/>
<rect x="262.72" y="114.00" width="3.00" height="9.00" fill="#c6c6c6"/>
<rect x="266.79" y="114.00" width="3.00" height="9.00" fill="#c6c6c6"/>
<rect x="270.86" y="114.00" width="3.00" height="9.00" fill="#c6c6c6"/>
<rect x="274.93" y="114.00" width="3.00" height="9.00" fill="#c6c6c6"/>
<rect x="279.00" y="114.00" width="3.00" height="9.00" fill="#c6c6c6"/>
<rect x="285.70" y="114.00" width="3.00" height="9.00" fill="#c6c6c6"/>
<rect x="289.77" y="114.00" width="3.00" height="9.00" fill="#c6c6c6"/>
<rect x="293.84" y="114.00" width="3.00" height="9.00" fill="#c6c6c6"/>
<rect x="297.92" y="114.00" width="3.00" height="9.00" fill="#c6c6c6"/>
<rect x="301.99" y="114.00" width="3.00" height="9.00" fill="#c6c6c6"/>
<rect x="306.06" y="114.00" width="3.00" height="9.00" fill="#c6c6c6"/>
<rect x="310.13" y="114.00" width="3.00" height="9.00" fill="#c6c6c6"/>
<rect x="314.20" y="114.00" width="3.00" height="9.00" fill="#c6c6c6"/>
<rect x="318.28" y="114.00" width="3.00" height="9.00" fill="#c6c6c6"/>
<rect x="322.35" y="114.00" width="3.00" height="9.00" fill="#c6c6c6"/>
<rect x="326.42" y="114.00" width="3.00" height="9.00" fill="#c6c6c6"/>
<rect x="330.49" y="114.00" width="3.00" height="9.00" fill="#c6c6c6"/>
<rect x="334.56" y="114.00" width="3.00" height="9.00" fill="#c6c6c6"/>
<rect x="338.64" y="114.00" width="3.00" height="9.00" fill="#c6c6c6"/>
<rect x="342.71" y="114.00" width="3.00" height="9.00" fill="#c6c6c6"/>
<rect x="346.78" y="114.00" width="3.00" height="9.00" fill="#c6c6c6"/>
<rect x="350.85" y="114.00" width="3.00" height="9.00" fill="#c6c6c6"/>
<rect x="354.92" y="114.00" width="3.00" height="9.00" fill="#c6c6c6"/>
<rect x="359.00" y="114.00" width="3.00" height="9.00" fill="#c6c6c6"/>
<rect x="363.07" y="114.00" width="3.00" height="9.00" fill="#c6c6c6"/>
<rect x="367.14" y="114.00" width="3.00" height="9.00" fill="#c6c6c6"/>
<rect x="371.21" y="114.00" width="3.00" height="9.00" fill="#c6c6c6"/>
<rect x="375.28" y="114.00" width="3.00" height="9.00" fill="#c6c6c6"/>
<rect x="379.36" y="114.00" width="3.00" height="9.00" fill="#c6c6c6"/>
<rect x="383.43" y="114.00" width="3.00" height="9.00" fill="#c6c6c6"/>
<rect x="387.50" y="114.00" width="3.00" height="9.00" fill="#c6c6c6"/>
<rect x="391.57" y="114.00" width="3.00" height="9.00" fill="#c6c6c6"/>
<rect x="395.64" y="114.00" width="3.00" height="9.00" fill="#c6c6c6"/>
<rect x="399.72" y="114.00" width="3.00" height="9.00" fill="#c6c6c6"/>
<rect x="403.79" y="114.00" width="3.00" height="9.00" fill="#c6c6c6"/>
<rect x="407.86" y="114.00" width="3.00" height="9.00" fill="#c6c6c6"/>
<rect x="411.93" y="114.00" width="3.00" height="9.00" fill="#c6c6c6"/>
<rect x="416.00" y="114.00" width="3.00" height="9.00" fill="#c6c6c6"/>
<rect x="420.08" y="114.00" width="3.00" height="9.00" fill="#c6c6c6"/>
<rect x="424.15" y="114.00" width="3.00" height="9.00" fill="#c6c6c6"/>
<rect x="428.22" y="114.00" width="3.00" height="9.00" fill="#c6c6c6"/>
<rect x="432.29" y="114.00" width="3.00" height="9.00" fill="#c6c6c6"/>
<rect x="436.36" y="114.00" width="3.00" height="9.00" fill="#c6c6c6"/>
<rect x="440.44" y="114.00" width="3.00" height="9.00" fill="#c6c6c6"/>
<rect x="444.51" y="114.00" width="3.00" height="9.00" fill="#c6c6c6"/>
<rect x="448.58" y="114.00" width="3.00" height="9.00" fill="#c6c6c6"/>
<rect x="452.65" y="114.00" width="3.00" height="9.00" fill="#c6c6c6"/>
<rect x="456.72" y="114.00" width="3.00" height="9.00" fill="#c6c6c6"/>
<rect x="460.80" y="114.00" width="3.00" height="9.00" fill="#c6c6c6"/>
<rect x="464.87" y="114.00" width="3.00" height="9.00" fill="#c6c6c6"/>
<rect x="468.94" y="114.00" width="3.00" height="9.00" fill="#c6c6c6"/>
<rect x="473.01" y="114.00" width="3.00" height="9.00" fill="#c6c6c6"/>
<rect x="477.08" y="114.00" width="3.00" height="9.00" fill="#c6c6c6"/>
<rect x="481.16" y="114.00" width="3.00" height="9.00" fill="#c6c6c6"/>
<rect x="485.23" y="114.00" width="3.00" height="9.00" fill="#c6c6c6"/>
<rect x="489.30" y="114.00" width="3.00" height="9.00" fill="#c6c6c6"/>
<rect x="493.37" y="114.00" width="3.00" height="9.00" fill="#c6c6c6"/>
<rect x="497.44" y="114.00" width="3.00" height="9.00" fill="#c6c6c6"/>
<rect x="501.52" y="114.00" width="3.00" height="9.00" fill="#c6c6c6"/>
<rect x="505.59" y="114.00" width="3.00" height="9.00" fill="#c6c6c6"/>
<rect x="509.66" y="114.00" width="3.00" height="9.00" fill="#c6c6c6"/>
<rect x="57.00" y="124.00" width="3.00" height="9.00" fill="#c6c6c6"/>
<rect x="61.07" y="124.00" width="3.00" height="9.00" fill="#c6c6c6"/>
<rect x="65.14" y="124.00" width="3.00" height="9.00" fill="#c6c6c6"/>
<rect x="69.22" y="124.00" width="3.00" height="9.00" fill="#c6c6c6"/>
<rect x="73.29" y="124.00" width="3.00" height="9.00" fill="#c6c6c6"/>
<rect x="77.36" y="124.00" width="3.00" height="9.00" fill="#c6c6c6"/>
<rect x="81.43" y="124.00" width="3.00" height="9.00" fill="#c6c6c6"/>
<rect x="85.50" y="124.00" width="3.00" height="9.00" fill="#c6c6c6"/>
<rect x="89.58" y="124.00" width="3.00" height="9.00" fill="#c6c6c6"/>
<rect x="93.65" y="124.00" width="3.00" height="9.00" fill="#c6c6c6"/>
<rect x="97.72" y="124.00" width="3.00" height="9.00" fill="#c6c6c6"/>
<rect x="101.79" y="124.00" width="3.00" height="9.00" fill="#c6c6c6"/>
<rect x="105.86" y="124.00" width="3.00" height="9.00" fill="#c6c6c6"/>
<rect x="109.94" y="124.00" width="3.00" height="9.00" fill="#c6c6c6"/>
<rect x="114.01" y="124.00" width="3.00" height="9.00" fill="#c6c6c6"/>
<rect x="118.08" y="124.00" width="3.00" height="9.00" fill="#c6c6c6"/>
<rect x="122.15" y="124.00" width="3.00" height="9.00" fill="#c6c6c6"/>
<rect x="126.22" y="124.00" width="3.00" height="9.00" fill="#c6c6c6"/>
<rect x="130.30" y="124.00" width="3.00" height="9.00" fill="#c6c6c6"/>
<rect x="134.37" y="124.00" width="3.00" height="9.00" fill="#c6c6c6"/>
<rect x="138.44" y="124.00" width="3.00" height="9.00" fill="#c6c6c6"/>
<rect x="142.51" y="124.00" width="3.00" height="9.00" fill="#c6c6c6"/>
<rect x="146.58" y="124.00" width="3.00" height="9.00" fill="#c6c6c6"/>
<rect x="150.66" y="124.00" width="3.00" height="9.00" fill="#c6c6c6"/>
<rect x="154.73" y="124.00" width="3.00" height="9.00" fill="#c6c6c6"/>
<rect x="158.80" y="124.00" width="3.00" height="9.00" fill="#c6c6c6"/>
<rect x="162.87" y="124.00" width="3.00" height="9.00" fill="#c6c6c6"/>
<rect x="166.94" y="124.00" width="3.00" height="9.00" fill="#c6c6c6"/>
<rect x="171.02" y="124.00" width="3.00" height="9.00" fill="#c6c6c6"/>
<rect x="175.09" y="124.00" width="3.00" height="9.00" fill="#c6c6c6"/>
<rect x="179.16" y="124.00" width="3.00" height="9.00" fill="#c6c6c6"/>
<rect x="183.23" y="124.00" width="3.00" height="9.00" fill="#c6c6c6"/>
<rect x="187.30" y="124.00" width="3.00" height="9.00" fill="#c6c6c6"/>
<rect x="191.38" y="124.00" width="3.00" height="9.00" fill="#c6c6c6"/>
<rect x="195.45" y="124.00" width="3.00" height="9.00" fill="#c6c6c6"/>
<rect x="199.52" y="124.00" width="3.00" height="9.00" fill="#c6c6c6"/>
<rect x="203.59" y="124.00" width="3.00" height="9.00" fill="#c6c6c6"/>
<rect x="207.66" y="124.00" width="3.00" height="9.00" fill="#c6c6c6"/>
<rect x="211.74" y="124.00" width="3.00" height="9.00" fill="#c6c6c6"/>
<rect x="215.81" y="124.00" width="3.00" height="9.00" fill="#c6c6c6"/>
<rect x="219.88" y="124.00" width="3.00" height="9.00" fill="#c6c6c6"/>
<rect x="227.10" y="124.00" width="3.00" height="9.00" fill="#c6c6c6"/>
<rect x="231.17" y="124.00" width="3.00" height="9.00" fill="#5fa53b"/>
<rect x="235.24" y="124.00" width="3.00" height="9.00" fill="#c6c6c6"/>
<rect x="239.32" y="124.00" width="3.00" height="9.00" fill="#c6c6c6"/>
<rect x="243.39" y="124.00" width="3.00" height="9.00" fill="#c6c6c6"/>
<rect x="250.50" y="124.00" width="3.00" height="9.00" fill="#c6c6c6"/>
<rect x="254.57" y="124.00" width="3.00" height="9.00" fill="#c6c6c6"/>
<rect x="258.64" y="124.00" width="3.00" height="9.00" fill="#c6c6c6"/>
<rect x="262.72" y="124.00" width="3.00" height="9.00" fill="#c6c6c6"/>
<rect x="266.79" y="124.00" width="3.00" height="9.00" fill="#c6c6c6"/>
<rect x="270.86" y="124.00" width="3.00" height="9.00" fill="#c6c6c6"/>
<rect x="274.93" y="124.00" width="3.00" height="9.00" fill="#c6c6c6"/>
<rect x="279.00" y="124.00" width="3.00" height="9.00" fill="#c6c6c6"/>
<rect x="285.70" y="124.00" width="3.00" height="9.00" fill="#c6c6c6"/>
<rect x="289.77" y="124.00" width="3.00" height="9.00" fill="#c6c6c6"/>
<rect x="293.84" y="124.00" width="3.00" height="9.00" fill="#c6c6c6"/>
<rect x="297.92" y="124.00" width="3.00" height="9.00" fill="#c6c6c6"/>
<rect x="301.99" y="124.00" width="3.00" height="9.00" fill="#c6c6c6"/>
<rect x="306.06" y="124.00" width="3.00" height="9.00" fill="#c6c6c6"/>
<rect x="310.13" y="124.00" width="3.00" height="9.00" fill="#c6c6c6"/>
<rect x="314.20" y="124.00" width="3.00" height="9.00" fill="#c6c6c6"/>
<rect x="318.28" y="124.00" width="3.00" height="9.00" fill="#c6c6c6"/>
<rect x="322.35" y="124.00" width="3.00" height="9.00" fill="#c6c6c6"/>
<rect x="326.42" y="124.00" width="3.00" height="9.00" fill="#c6c6c6"/>
<rect x="330.49" y="124.00" width="3.00" height="9.00" fill="#c6c6c6"/>
<rect x="334.56" y="124.00" width="3.00" height="9.00" fill="#c6c6c6"/>
<rect x="338.64" y="124.00" width="3.00" height="9.00" fill="#c6c6c6"/>
<rect x="342.71" y="124.00" width="3.00" height="9.00" fill="#c6c6c6"/>
<rect x="346.78" y="124.00" width="3.00" height="9.00" fill="#c6c6c6"/>
<rect x="350.85" y="124.00" width="3.00" height="9.00" fill="#c6c6c6"/>
<rect x="354.92" y="124.00" width="3.00" height="9.00" fill="#c6c6c6"/>
<rect x="359.00" y="124.00" width="3.00" height="9.00" fill="#c6c6c6"/>
<rect x="363.07" y="124.00" width="3.00" height="9.00" fill="#c6c6c6"/>
<rect x="367.14" y="124.00" width="3.00" height="9.00" fill="#c6c6c6"/>
<rect x="371.21" y="124.00" width="3.00" height="9.00" fill="#c6c6c6"/>
<rect x="375.28" y="124.00" width="3.00" height="9.00" fill="#c6c6c6"/>
<rect x="379.36" y="124.00" width="3.00" height="9.00" fill="#c6c6c6"/>
<rect x="383.43" y="124.00" width="3.00" height="9.00" fill="#c6c6c6"/>
<rect x="387.50" y="124.00" width="3.00" height="9.00" fill="#c6c6c6"/>
<rect x="391.57" y="124.00" width="3.00" height="9.00" fill="#c6c6c6"/>
<rect x="395.64" y="124.00" width="3.00" height="9.00" fill="#c6c6c6"/>
<rect x="399.72" y="124.00" width="3.00" height="9.00" fill="#c6c6c6"/>
<rect x="403.79" y="124.00" width="3.00" height="9.00" fill="#c6c6c6"/>
<rect x="407.86" y="124.00" width="3.00" height="9.00" fill="#c6c6c6"/>
<rect x="411.93" y="124.00" width="3.00" height="9.00" fill="#c6c6c6"/>
<rect x="416.00" y="124.00" width="3.00" height="9.00" fill="#c6c6c6"/>
<rect x="420.08" y="124.00" width="3.00" height="9.00" fill="#c6c6c6"/>
<rect x="424.15" y="124.00" width="3.00" height="9.00" fill="#c6c6c6"/>
<rect x="428.22" y="124.00" width="3.00" height="9.00" fill="#c6c6c6"/>
<rect x="432.29" y="124.00" width="3.00" height="9.00" fill="#c6c6c6"/>
<rect x="436.36" y="124.00" width="3.00" height="9.00" fill="#c6c6c6"/>
<rect x="440.44" y="124.00" width="3.00" height="9.00" fill="#c6c6c6"/>
<rect x="444.51" y="124.00" width="3.00" height="9.00" fill="#c6c6c6"/>
<rect x="448.58" y="124.00" width="3.00" height="9.00" fill="#c6c6c6"/>
<rect x="452.65" y="124.00" width="3.00" height="9.00" fill="#c6c6c6"/>
<rect x="456.72" y="124.00" width="3.00" height="9.00" fill="#c6c6c6"/>
<rect x="460.80" y="124.00" width="3.00" height="9.00" fill="#c6c6c6"/>
<rect x="464.87" y="124.00" width="3.00" height="9.00" fill="#c6c6c6"/>
<rect x="468.94" y="124.00" width="3.00" height="9.00" fill="#c6c6c6"/>
<rect x="473.01" y="124.00" width="3.00" height="9.00" fill="#c6c6c6"/>
<rect x="477.08" y="124.00" width="3.00" height="9.00" fill="#c6c6c6"/>
<rect x="481.16" y="124.00" width="3.00" height="9.00" fill="#c6c6c6"/>
<rect x="485.23" y="124.00" width="3.00" height="9.00" fill="#c6c6c6"/>
<rect x="489.30" y="124.00" width="3.00" height="9.00" fill="#c6c6c6"/>
<rect x="493.37" y="124.00" width="3.00" height="9.00" fill="#c6c6c6"/>
<rect x="497.44" y="124.00" width="3.00" height="9.00" fill="#c6c6c6"/>
<rect x="501.52" y="124.00" width="3.00" height="9.00" fill="#c6c6c6"/>
<rect x="505.59" y="124.00" width="3.00" height="9.00" fill="#c6c6c6"/>
<rect x="509.66" y="124.00" width="3.00" height="9.00" fill="#c6c6c6"/>
<rect x="57.00" y="134.00" width="3.00" height="9.00" fill="#6ba3d8"/>
<rect x="61.07" y="134.00" width="3.00" height="9.00" fill="#6ba3d8"/>
<rect x="65.14" y="134.00" width="3.00" height="9.00" fill="#6ba3d8"/>
<rect x="69.22" y="134.00" width="3.00" height="9.00" fill="#c6c6c6"/>
<rect x="73.29" y="134.00" width="3.00" height="9.00" fill="#c6c6c6"/>
<rect x="77.36" y="134.00" width="3.00" height="9.00" fill="#6ba3d8"/>
<rect x="81.43" y="134.00" width="3.00" height="9.00" fill="#6ba3d8"/>
<rect x="85.50" y="134.00" width="3.00" height="9.00" fill="#6ba3d8"/>
<rect x="89.58" y="134.00" width="3.00" height="9.00" fill="#6ba3d8"/>
<rect x="93.65" y="134.00" width="3.00" height="9.00" fill="#6ba3d8"/>
<rect x="97.72" y="134.00" width="3.00" height="9.00" fill="#6ba3d8"/>
<rect x="101.79" y="134.00" width="3.00" height="9.00" fill="#6ba3d8"/>
<rect x="105.86" y="134.00" width="3.00" height="9.00" fill="#6ba3d8"/>
<rect x="109.94" y="134.00" width="3.00" height="9.00" fill="#6ba3d8"/>
<rect x="114.01" y="134.00" width="3.00" height="9.00" fill="#6ba3d8"/>
<rect x="118.08" y="134.00" width="3.00" height="9.00" fill="#6ba3d8"/>
<rect x="122.15" y="134.00" width="3.00" height="9.00" fill="#c6c6c6"/>
<rect x="126.22" y="134.00" width="3.00" height="9.00" fill="#c6c6c6"/>
<rect x="130.30" y="134.00" width="3.00" height="9.00" fill="#c6c6c6"/>
<rect x="134.37" y="134.00" width="3.00" height="9.00" fill="#c6c6c6"/>
<rect x="138.44" y="134.00" width="3.00" height="9.00" fill="#c6c6c6"/>
<rect x="142.51" y="134.00" width="3.00" height="9.00" fill="#c6c6c6"/>
<rect x="146.58" y="134.00" width="3.00" height="9.00" fill="#c6c6c6"/>
<rect x="150.66" y="134.00" width="3.00" height="9.00" fill="#c6c6c6"/>
<rect x="154.73" y="134.00" width="3.00" height="9.00" fill="#c6c6c6"/>
<rect x="158.80" y="134.00" width="3.00" height="9.00" fill="#c6c6c6"/>
<rect x="162.87" y="134.00" width="3.00" height="9.00" fill="#c6c6c6"/>
<rect x="166.94" y="134.00" width="3.00" height="9.00" fill="#c6c6c6"/>
<rect x="171.02" y="134.00" width="3.00" height="9.00" fill="#c6c6c6"/>
<rect x="175.09" y="134.00" width="3.00" height="9.00" fill="#c6c6c6"/>
<rect x="179.16" y="134.00" width="3.00" height="9.00" fill="#c6c6c6"/>
<rect x="183.23" y="134.00" width="3.00" height="9.00" fill="#c6c6c6"/>
<rect x="187.30" y="134.00" width="3.00" height="9.00" fill="#c6c6c6"/>
<rect x="191.38" y="134.00" width="3.00" height="9.00" fill="#c6c6c6"/>
<rect x="195.45" y="134.00" width="3.00" height="9.00" fill="#c6c6c6"/>
<rect x="199.52" y="134.00" width="3.00" height="9.00" fill="#c6c6c6"/>
<rect x="203.59" y="134.00" width="3.00" height="9.00" fill="#c6c6c6"/>
<rect x="207.66" y="134.00" width="3.00" height="9.00" fill="#c6c6c6"/>
<rect x="211.74" y="134.00" width="3.00" height="9.00" fill="#c6c6c6"/>
<rect x="215.81" y="134.00" width="3.00" height="9.00" fill="#c6c6c6"/>
<rect x="219.88" y="134.00" width="3.00" height="9.00" fill="#c6c6c6"/>
<rect x="227.10" y="134.00" width="3.00" height="9.00" fill="#c6c6c6"/>
<rect x="231.17" y="134.00" width="3.00" height="9.00" fill="#c6c6c6"/>
<rect x="235.24" y="134.00" width="3.00" height="9.00" fill="#5fa53b"/>
<rect x="239.32" y="134.00" width="3.00" height="9.00" fill="#5fa53b"/>
<rect x="243.39" y="134.00" width="3.00" height="9.00" fill="#c6c6c6"/>
<rect x="250.50" y="134.00" width="3.00" height="9.00" fill="#c6c6c6"/>
<rect x="254.57" y="134.00" width="3.00" height="9.00" fill="#c6c6c6"/>
<rect x="258.64" y="134.00" width="3.00" height="9.00" fill="#c6c6c6"/>
<rect x="262.72" y="134.00" width="3.00" height="9.00" fill="#c6c6c6"/>
<rect x="266.79" y="134.00" width="3.00" height="9.00" fill="#c6c6c6"/>
<rect x="270.86" y="134.00" width="3.00" height="9.00" fill="#c6c6c6"/>
<rect x="274.93" y="134.00" width="3.00" height="9.00" fill="#c6c6c6"/>
<rect x="279.00" y="134.00" width="3.00" height="9.00" fill="#c6c6c6"/>
<rect x="285.70" y="134.00" width="3.00" height="9.00" fill="#c6c6c6"/>
<rect x="289.77" y="134.00" width="3.00" height="9.00" fill="#c6c6c6"/>
<rect x="293.84" y="134.00" width="3.00" height="9.00" fill="#c6c6c6"/>
<rect x="297.92" y="134.00" width="3.00" height="9.00" fill="#c6c6c6"/>
<rect x="301.99" y="134.00" width="3.00" height="9.00" fill="#c6c6c6"/>
<rect x="306.06" y="134.00" width="3.00" height="9.00" fill="#c6c6c6"/>
<rect x="310.13" y="134.00" width="3.00" height="9.00" fill="#c6c6c6"/>
<rect x="314.20" y="134.00" width="3.00" height="9.00" fill="#c6c6c6"/>
<rect x="318.28" y="134.00" width="3.00" height="9.00" fill="#c6c6c6"/>
<rect x="322.35" y="134.00" width="3.00" height="9.00" fill="#c6c6c6"/>
<rect x="326.42" y="134.00" width="3.00" height="9.00" fill="#c6c6c6"/>
<rect x="330.49" y="134.00" width="3.00" height="9.00" fill="#c6c6c6"/>
<rect x="334.56" y="134.00" width="3.00" height="9.00" fill="#c6c6c6"/>
<rect x="338.64" y="134.00" width="3.00" height="9.00" fill="#c6c6c6"/>
<rect x="342.71" y="134.00" width="3.00" height="9.00" fill="#c6c6c6"/>
<rect x="346.78" y="134.00" width="3.00" height="9.00" fill="#c6c6c6"/>
<rect x="350.85" y="134.00" width="3.00" height="9.00" fill="#c6c6c6"/>
<rect x="354.92" y="134.00" width="3.00" height="9.00" fill="#c6c6c6"/>
<rect x="359.00" y="134.00" width="3.00" height="9.00" fill="#c6c6c6"/>
<rect x="363.07" y="134.00" width="3.00" height="9.00" fill="#c6c6c6"/>
<rect x="367.14" y="134.00" width="3.00" height="9.00" fill="#c6c6c6"/>
<rect x="371.21" y="134.00" width="3.00" height="9.00" fill="#c6c6c6"/>
<rect x="375.28" y="134.00" width="3.00" height="9.00" fill="#c6c6c6"/>
<rect x="379.36" y="134.00" width="3.00" height="9.00" fill="#c6c6c6"/>
<rect x="383.43" y="134.00" width="3.00" height="9.00" fill="#c6c6c6"/>
<rect x="387.50" y="134.00" width="3.00" height="9.00" fill="#c6c6c6"/>
<rect x="391.57" y="134.00" width="3.00" height="9.00" fill="#c6c6c6"/>
<rect x="395.64" y="134.00" width="3.00" height="9.00" fill="#c6c6c6"/>
<rect x="399.72" y="134.00" width="3.00" height="9.00" fill="#c6c6c6"/>
<rect x="403.79" y="134.00" width="3.00" height="9.00" fill="#c6c6c6"/>
<rect x="407.86" y="134.00" width="3.00" height="9.00" fill="#c6c6c6"/>
<rect x="411.93" y="134.00" width="3.00" height="9.00" fill="#c6c6c6"/>
<rect x="416.00" y="134.00" width="3.00" height="9.00" fill="#c6c6c6"/>
<rect x="420.08" y="134.00" width="3.00" height="9.00" fill="#c6c6c6"/>
<rect x="424.15" y="134.00" width="3.00" height="9.00" fill="#c6c6c6"/>
<rect x="428.22" y="134.00" width="3.00" height="9.00" fill="#c6c6c6"/>
<rect x="432.29" y="134.00" width="3.00" height="9.00" fill="#c6c6c6"/>
<rect x="436.36" y="134.00" width="3.00" height="9.00" fill="#c6c6c6"/>
<rect x="440.44" y="134.00" width="3.00" height="9.00" fill="#c6c6c6"/>
<rect x="444.51" y="134.00" width="3.00" height="9.00" fill="#c6c6c6"/>
<rect x="448.58" y="134.00" width="3.00" height="9.00" fill="#c6c6c6"/>
<rect x="452.65" y="134.00" width="3.00" height="9.00" fill="#c6c6c6"/>
<rect x="456.72" y="134.00" width="3.00" height="9.00" fill="#c6c6c6"/>
<rect x="460.80" y="134.00" width="3.00" height="9.00" fill="#c6c6c6"/>
<rect x="464.87" y="134.00" width="3.00" height="9.00" fill="#c6c6c6"/>
<rect x="468.94" y="134.00" width="3.00" height="9.00" fill="#c6c6c6"/>
<rect x="473.01" y="134.00" width="3.00" height="9.00" fill="#c6c6c6"/>
<rect x="477.08" y="134.00" width="3.00" height="9.00" fill="#c6c6c6"/>
<rect x="481.16" y="134.00" width="3.00" height="9.00" fill="#c6c6c6"/>
<rect x="485.23" y="134.00" width="3.00" height="9.00" fill="#c6c6c6"/>
<rect x="489.30" y="134.00" width="3.00" height="9.00" fill="#c6c6c6"/>
<rect x="493.37" y="134.00" width="3.00" height="9.00" fill="#c6c6c6"/>
<rect x="497.44" y="134.00" width="3.00" height="9.00" fill="#c6c6c6"/>
<rect x="501.52" y="134.00" width="3.00" height="9.00" fill="#c6c6c6"/>
<rect x="505.59" y="134.00" width="3.00" height="9.00" fill="#c6c6c6"/>
<rect x="509.66" y="134.00" width="3.00" height="9.00" fill="#c6c6c6"/>
<rect x="57.00" y="144.00" width="3.00" height="9.00" fill="#c6c6c6"/>
<rect x="61.07" y="144.00" width="3.00" height="9.00" fill="#c6c6c6"/>
<rect x="65.14" y="144.00" width="3.00" height="9.00" fill="#c6c6c6"/>
<rect x="69.22" y="144.00" width="3.00" height="9.00" fill="#c6c6c6"/>
<rect x="73.29" y="144.00" width="3.00" height="9.00" fill="#c6c6c6"/>
<rect x="77.36" y="144.00" width="3.00" height="9.00" fill="#c6c6c6"/>
<rect x="81.43" y="144.00" width="3.00" height="9.00" fill="#c6c6c6"/>
<rect x="85.50" y="144.00" width="3.00" height="9.00" fill="#c6c6c6"/>
<rect x="89.58" y="144.00" width="3.00" height="9.00" fill="#c6c6c6"/>
<rect x="93.65" y="144.00" width="3.00" height="9.00" fill="#c6c6c6"/>
<rect x="97.72" y="144.00" width="3.00" height="9.00" fill="#c6c6c6"/>
<rect x="101.79" y="144.00" width="3.00" height="9.00" fill="#c6c6c6"/>
<rect x="105.86" y="144.00" width="3.00" height="9.00" fill="#c6c6c6"/>
<rect x="109.94" y="144.00" width="3.00" height="9.00" fill="#c6c6c6"/>
<rect x="114.01" y="144.00" width="3.00" height="9.00" fill="#c6c6c6"/>
<rect x="118.08" y="144.00" width="3.00" height="9.00" fill="#c6c6c6"/>
<rect x="122.15" y="144.00" width="3.00" height="9.00" fill="#c6c6c6"/>
<rect x="126.22" y="144.00" width="3.00" height="9.00" fill="#c6c6c6"/>
<rect x="130.30" y="144.00" width="3.00" height="9.00" fill="#c6c6c6"/>
<rect x="134.37" y="144.00" width="3.00" height="9.00" fill="#c6c6c6"/>
<rect x="138.44" y="144.00" width="3.00" height="9.00" fill="#c6c6c6"/>
<rect x="142.51" y="144.00" width="3.00" height="9.00" fill="#c6c6c6"/>
<rect x="146.58" y="144.00" width="3.00" height="9.00" fill="#c6c6c6"/>
<rect x="150.66" y="144.00" width="3.00" height="9.00" fill="#c6c6c6"/>
<rect x="154.73" y="144.00" width="3.00" height="9.00" fill="#c6c6c6"/>
<rect x="158.80" y="144.00" width="3.00" height="9.00" fill="#c6c6c6"/>
<rect x="162.87" y="144.00" width="3.00" height="9.00" fill="#c6c6c6"/>
<rect x="166.94" y="144.00" width="3.00" height="9.00" fill="#c6c6c6"/>
<rect x="171.02" y="144.00" width="3.00" height="9.00" fill="#c6c6c6"/>
<rect x="175.09" y="144.00" width="3.00" height="9.00" fill="#c6c6c6"/>
<rect x="179.16" y="144.00" width="3.00" height="9.00" fill="#c6c6c6"/>
<rect x="183.23" y="144.00" width="3.00" height="9.00" fill="#c6c6c6"/>
<rect x="187.30" y="144.00" width="3.00" height="9.00" fill="#c6c6c6"/>
<rect x="191.38" y="144.00" width="3.00" height="9.00" fill="#c6c6c6"/>
<rect x="195.45" y="144.00" width="3.00" height="9.00" fill="#c6c6c6"/>
<rect x="199.52" y="144.00" width="3.00" height="9.00" fill="#c6c6c6"/>
<rect x="203.59" y="144.00" width="3.00" height="9.00" fill="#c6c6c6"/>
<rect x="207.66" y="144.00" width="3.00" height="9.00" fill="#c6c6c6"/>
<rect x="211.74" y="144.00" width="3.00" height="9.00" fill="#c6c6c6"/>
<rect x="215.81" y="144.00" width="3.00" height="9.00" fill="#c6c6c6"/>
<rect x="219.88" y="144.00" width="3.00" height="9.00" fill="#c6c6c6"/>
<rect x="227.10" y="144.00" width="3.00" height="9.00" fill="#c6c6c6"/>
<rect x="231.17" y="144.00" width="3.00" height="9.00" fill="#c6c6c6"/>
<rect x="235.24" y="144.00" width="3.00" height="9.00" fill="#c6c6c6"/>
<rect x="239.32" y="144.00" width="3.00" height="9.00" fill="#c6c6c6"/>
<rect x="243.39" y="144.00" width="3.00" height="9.00" fill="#5fa53b"/>
<rect x="250.50" y="144.00" width="3.00" height="9.00" fill="#c6c6c6"/>
<rect x="254.57" y="144.00" width="3.00" height="9.00" fill="#c6c6c6"/>
<rect x="258.64" y="144.00" width="3.00" height="9.00" fill="#c6c6c6"/>
<rect x="262.72" y="144.00" width="3.00" height="9.00" fill="#c6c6c6"/>
<rect x="266.79" y="144.00" width="3.00" height="9.00" fill="#c6c6c6"/>
<rect x="270.86" y="144.00" width="3.00" height="9.00" fill="#c6c6c6"/>
<rect x="274.93" y="144.00" width="3.00" height="9.00" fill="#c6c6c6"/>
<rect x="279.00" y="144.00" width="3.00" height="9.00" fill="#c6c6c6"/>
<rect x="285.70" y="144.00" width="3.00" height="9.00" fill="#c6c6c6"/>
<rect x="289.77" y="144.00" width="3.00" height="9.00" fill="#c6c6c6"/>
<rect x="293.84" y="144.00" width="3.00" height="9.00" fill="#c6c6c6"/>
<rect x="297.92" y="144.00" width="3.00" height="9.00" fill="#c6c6c6"/>
<rect x="301.99" y="144.00" width="3.00" height="9.00" fill="#c6c6c6"/>
<rect x="306.06" y="144.00" width="3.00" height="9.00" fill="#c6c6c6"/>
<rect x="310.13" y="144.00" width="3.00" height="9.00" fill="#c6c6c6"/>
<rect x="314.20" y="144.00" width="3.00" height="9.00" fill="#c6c6c6"/>
<rect x="318.28" y="144.00" width="3.00" height="9.00" fill="#c6c6c6"/>
<rect x="322.35" y="144.00" width="3.00" height="9.00" fill="#c6c6c6"/>
<rect x="326.42" y="144.00" width="3.00" height="9.00" fill="#c6c6c6"/>
<rect x="330.49" y="144.00" width="3.00" height="9.00" fill="#c6c6c6"/>
<rect x="334.56" y="144.00" width="3.00" height="9.00" fill="#c6c6c6"/>
<rect x="338.64" y="144.00" width="3.00" height="9.00" fill="#c6c6c6"/>
<rect x="342.71" y="144.00" width="3.00" height="9.00" fill="#c6c6c6"/>
<rect x="346.78" y="144.00" width="3.00" height="9.00" fill="#c6c6c6"/>
<rect x="350.85" y="144.00" width="3.00" height="9.00" fill="#c6c6c6"/>
<rect x="354.92" y="144.00" width="3.00" height="9.00" fill="#c6c6c6"/>
<rect x="359.00" y="144.00" width="3.00" height="9.00" fill="#c6c6c6"/>
<rect x="363.07" y="144.00" width="3.00" height="9.00" fill="#c6c6c6"/>
<rect x="367.14" y="144.00" width="3.00" height="9.00" fill="#c6c6c6"/>
<rect x="371.21" y="144.00" width="3.00" height="9.00" fill="#c6c6c6"/>
<rect x="375.28" y="144.00" width="3.00" height="9.00" fill="#c6c6c6"/>
<rect x="379.36" y="144.00" width="3.00" height="9.00" fill="#c6c6c6"/>
<rect x="383.43" y="144.00" width="3.00" height="9.00" fill="#c6c6c6"/>
<rect x="387.50" y="144.00" width="3.00" height="9.00" fill="#c6c6c6"/>
<rect x="391.57" y="144.00" width="3.00" height="9.00" fill="#c6c6c6"/>
<rect x="395.64" y="144.00" width="3.00" height="9.00" fill="#c6c6c6"/>
<rect x="399.72" y="144.00" width="3.00" height="9.00" fill="#c6c6c6"/>
<rect x="403.79" y="144.00" width="3.00" height="9.00" fill="#c6c6c6"/>
<rect x="407.86" y="144.00" width="3.00" height="9.00" fill="#c6c6c6"/>
<rect x="411.93" y="144.00" width="3.00" height="9.00" fill="#c6c6c6"/>
<rect x="416.00" y="144.00" width="3.00" height="9.00" fill="#c6c6c6"/>
<rect x="420.08" y="144.00" width="3.00" height="9.00" fill="#c6c6c6"/>
<rect x="424.15" y="144.00" width="3.00" height="9.00" fill="#c6c6c6"/>
<rect x="428.22" y="144.00" width="3.00" height="9.00" fill="#c6c6c6"/>
<rect x="432.29" y="144.00" width="3.00" height="9.00" fill="#c6c6c6"/>
<rect x="436.36" y="144.00" width="3.00" height="9.00" fill="#c6c6c6"/>
<rect x="440.44" y="144.00" width="3.00" height="9.00" fill="#c6c6c6"/>
<rect x="444.51" y="144.00" width="3.00" height="9.00" fill="#c6c6c6"/>
<rect x="448.58" y="144.00" width="3.00" height="9.00" fill="#c6c6c6"/>
<rect x="452.65" y="144.00" width="3.00" height="9.00" fill="#c6c6c6"/>
<rect x="456.72" y="144.00" width="3.00" height="9.00" fill="#c6c6c6"/>
<rect x="460.80" y="144.00" width="3.00" height="9.00" fill="#c6c6c6"/>
<rect x="464.87" y="144.00" width="3.00" height="9.00" fill="#c6c6c6"/>
<rect x="468.94" y="144.00" width="3.00" height="9.00" fill="#c6c6c6"/>
<rect x="473.01" y="144.00" width="3.00" height="9.00" fill="#c6c6c6"/>
<rect x="477.08" y="144.00" width="3.00" height="9.00" fill="#c6c6c6"/>
<rect x="481.16" y="144.00" width="3.00" height="9.00" fill="#c6c6c6"/>
<rect x="485.23" y="144.00" width="3.00" height="9.00" fill="#c6c6c6"/>
<rect x="489.30" y="144.00" width="3.00" height="9.00" fill="#c6c6c6"/>
<rect x="493.37" y="144.00" width="3.00" height="9.00" fill="#c6c6c6"/>
<rect x="497.44" y="144.00" width="3.00" height="9.00" fill="#c6c6c6"/>
<rect x="501.52" y="144.00" width="3.00" height="9.00" fill="#c6c6c6"/>
<rect x="505.59" y="144.00" width="3.00" height="9.00" fill="#c6c6c6"/>
<rect x="509.66" y="144.00" width="3.00" height="9.00" fill="#c6c6c6"/>
<rect x="57.00" y="154.00" width="3.00" height="9.00" fill="#c6c6c6"/>
<rect x="61.07" y="154.00" width="3.00" height="9.00" fill="#c6c6c6"/>
<rect x="65.14" y="154.00" width="3.00" height="9.00" fill="#c6c6c6"/>
<rect x="69.22" y="154.00" width="3.00" height="9.00" fill="#c6c6c6"/>
<rect x="73.29" y="154.00" width="3.00" height="9.00" fill="#c6c6c6"/>
<rect x="77.36" y="154.00" width="3.00" height="9.00" fill="#c6c6c6"/>
<rect x="81.43" y="154.00" width="3.00" height="9.00" fill="#c6c6c6"/>
<rect x="85.50" y="154.00" width="3.00" height="9.00" fill="#c6c6c6"/>
<rect x="89.58" y="154.00" width="3.00" height="9.00" fill="#c6c6c6"/>
<rect x="93.65" y="154.00" width="3.00" height="9.00" fill="#c6c6c6"/>
<rect x="97.72" y="154.00" width="3.00" height="9.00" fill="#c6c6c6"/>
<rect x="101.79" y="154.00" width="3.00" height="9.00" fill="#c6c6c6"/>
<rect x="105.86" y="154.00" width="3.00" height="9.00" fill="#c6c6c6"/>
<rect x="109.94" y="154.00" width="3.00" height="9.00" fill="#c6c6c6"/>
<rect x="114.01" y="154.00" width="3.00" height="9.00" fill="#c6c6c6"/>
<rect x="118.08" y="154.00" width="3.00" height="9.00" fill="#c6c6c6"/>
<rect x="122.15" y="154.00" width="3.00" height="9.00" fill="#c6c6c6"/>
<rect x="126.22" y="154.00" width="3.00" height="9.00" fill="#c6c6c6"/>
<rect x="130.30" y="154.00" width="3.00" height="9.00" fill="#c6c6c6"/>
<rect x="134.37" y="154.00" width="3.00" height="9.00" fill="#c6c6c6"/>
<rect x="138.44" y="154.00" width="3.00" height="9.00" fill="#c6c6c6"/>
<rect x="142.51" y="154.00" width="3.00" height="9.00" fill="#c6c6c6"/>
<rect x="146.58" y="154.00" width="3.00" height="9.00" fill="#c6c6c6"/>
<rect x="150.66" y="154.00" width="3.00" height="9.00" fill="#c6c6c6"/>
<rect x="154.73" y="154.00" width="3.00" height="9.00" fill="#c6c6c6"/>
<rect x="158.80" y="154.00" width="3.00" height="9.00" fill="#c6c6c6"/>
<rect x="162.87" y="154.00" width="3.00" height="9.00" fill="#c6c6c6"/>
<rect x="166.94" y="154.00" width="3.00" height="9.00" fill="#c6c6c6"/>
<rect x="171.02" y="154.00" width="3.00" height="9.00" fill="#c6c6c6"/>
<rect x="175.09" y="154.00" width="3.00" height="9.00" fill="#c6c6c6"/>
<rect x="179.16" y="154.00" width="3.00" height="9.00" fill="#c6c6c6"/>
<rect x="183.23" y="154.00" width="3.00" height="9.00" fill="#c6c6c6"/>
<rect x="187.30" y="154.00" width="3.00" height="9.00" fill="#c6c6c6"/>
<rect x="191.38" y="154.00" width="3.00" height="9.00" fill="#c6c6c6"/>
<rect x="195.45" y="154.00" width="3.00" height="9.00" fill="#c6c6c6"/>
<rect x="199.52" y="154.00" width="3.00" height="9.00" fill="#c6c6c6"/>
<rect x="203.59" y="154.00" width="3.00" height="9.00" fill="#c6c6c6"/>
<rect x="207.66" y="154.00" width="3.00" height="9.00" fill="#c6c6c6"/>
<rect x="211.74" y="154.00" width="3.00" height="9.00" fill="#c6c6c6"/>
<rect x="215.81" y="154.00" width="3.00" height="9.00" fill="#c6c6c6"/>
<rect x="219.88" y="154.00" width="3.00" height="9.00" fill="#c6c6c6"/>
<rect x="227.10" y="154.00" width="3.00" height="9.00" fill="#c6c6c6"/>
<rect x="231.17" y="154.00" width="3.00" height="9.00" fill="#c6c6c6"/>
<rect x="235.24" y="154.00" width="3.00" height="9.00" fill="#c6c6c6"/>
<rect x="239.32" y="154.00" width="3.00" height="9.00" fill="#c6c6c6"/>
<rect x="243.39" y="154.00" width="3.00" height="9.00" fill="#c6c6c6"/>
<rect x="250.50" y="154.00" width="3.00" height="9.00" fill="#4d3214"/>
<rect x="254.57" y="154.00" width="3.00" height="9.00" fill="#4d3214"/>
<rect x="258.64" y="154.00" width="3.00" height="9.00" fill="#c6c6c6"/>
<rect x="262.72" y="154.00" width="3.00" height="9.00" fill="#c6c6c6"/>
<rect x="266.79" y="154.00" width="3.00" height="9.00" fill="#c6c6c6"/>
<rect x="270.86" y="154.00" width="3.00" height="9.00" fill="#c6c6c6"/>
<rect x="274.93" y="154.00" width="3.00" height="9.00" fill="#c6c6c6"/>
<rect x="279.00" y="154.00" width="3.00" height="9.00" fill="#c6c6c6"/>
<rect x="285.70" y="154.00" width="3.00" height="9.00" fill="#c6c6c6"/>
<rect x="289.77" y="154.00" width="3.00" height="9.00" fill="#c6c6c6"/>
<rect x="293.84" y="154.00" width="3.00" height="9.00" fill="#c6c6c6"/>
<rect x="297.92" y="154.00" width="3.00" height="9.00" fill="#c6c6c6"/>
<rect x="301.99" y="154.00" width="3.00" height="9.00" fill="#c6c6c6"/>
<rect x="306.06" y="154.00" width="3.00" height="9.00" fill="#c6c6c6"/>
<rect x="310.13" y="154.00" width="3.00" height="9.00" fill="#c6c6c6"/>
<rect x="314.20" y="154.00" width="3.00" height="9.00" fill="#c6c6c6"/>
<rect x="318.28" y="154.00" width="3.00" height="9.00" fill="#c6c6c6"/>
<rect x="322.35" y="154.00" width="3.00" height="9.00" fill="#c6c6c6"/>
<rect x="326.42" y="154.00" width="3.00" height="9.00" fill="#c6c6c6"/>
<rect x="330.49" y="154.00" width="3.00" height="9.00" fill="#c6c6c6"/>
<rect x="334.56" y="154.00" width="3.00" height="9.00" fill="#c6c6c6"/>
<rect x="338.64" y="154.00" width="3.00" height="9.00" fill="#c6c6c6"/>
<rect x="342.71" y="154.00" width="3.00" height="9.00" fill="#c6c6c6"/>
<rect x="346.78" y="154.00" width="3.00" height="9.00" fill="#c6c6c6"/>
<rect x="350.85" y="154.00" width="3.00" height="9.00" fill="#c6c6c6"/>
<rect x="354.92" y="154.00" width="3.00" height="9.00" fill="#c6c6c6"/>
<rect x="359.00" y="154.00" width="3.00" height="9.00" fill="#c6c6c6"/>
<rect x="363.07" y="154.00" width="3.00" height="9.00" fill="#c6c6c6"/>
<rect x="367.14" y="154.00" width="3.00" height="9.00" fill="#c6c6c6"/>
<rect x="371.21" y="154.00" width="3.00" height="9.00" fill="#c6c6c6"/>
<rect x="375.28" y="154.00" width="3.00" height="9.00" fill="#c6c6c6"/>
<rect x="379.36" y="154.00" width="3.00" height="9.00" fill="#c6c6c6"/>
<rect x="383.43" y="154.00" width="3.00" height="9.00" fill="#c6c6c6"/>
<rect x="387.50" y="154.00" width="3.00" height="9.00" fill="#c6c6c6"/>
<rect x="391.57" y="154.00" width="3.00" height="9.00" fill="#c6c6c6"/>
<rect x="395.64" y="154.00" width="3.00" height="9.00" fill="#c6c6c6"/>
<rect x="399.72" y="154.00" width="3.00" height="9.00" fill="#c6c6c6"/>
<rect x="403.79" y="154.00" width="3.00" height="9.00" fill="#c6c6c6"/>
<rect x="407.86" y="154.00" width="3.00" height="9.00" fill="#c6c6c6"/>
<rect x="411.93" y="154.00" width="3.00" height="9.00" fill="#c6c6c6"/>
<rect x="416.00" y="154.00" width="3.00" height="9.00" fill="#c6c6c6"/>
<rect x="420.08" y="154.00" width="3.00" height="9.00" fill="#c6c6c6"/>
<rect x="424.15" y="154.00" width="3.00" height="9.00" fill="#c6c6c6"/>
<rect x="428.22" y="154.00" width="3.00" height="9.00" fill="#c6c6c6"/>
<rect x="432.29" y="154.00" width="3.00" height="9.00" fill="#c6c6c6"/>
<rect x="436.36" y="154.00" width="3.00" height="9.00" fill="#c6c6c6"/>
<rect x="440.44" y="154.00" width="3.00" height="9.00" fill="#c6c6c6"/>
<rect x="444.51" y="154.00" width="3.00" height="9.00" fill="#c6c6c6"/>
<rect x="448.58" y="154.00" width="3.00" height="9.00" fill="#c6c6c6"/>
<rect x="452.65" y="154.00" width="3.00" height="9.00" fill="#c6c6c6"/>
<rect x="456.72" y="154.00" width="3.00" height="9.00" fill="#c6c6c6"/>
<rect x="460.80" y="154.00" width="3.00" height="9.00" fill="#c6c6c6"/>
<rect x="464.87" y="154.00" width="3.00" height="9.00" fill="#c6c6c6"/>
<rect x="468.94" y="154.00" width="3.00" height="9.00" fill="#c6c6c6"/>
<rect x="473.01" y="154.00" width="3.00" height="9.00" fill="#c6c6c6"/>
<rect x="477.08" y="154.00" width="3.00" height="9.00" fill="#c6c6c6"/>
<rect x="481.16" y="154.00" width="3.00" height="9.00" fill="#c6c6c6"/>
<rect x="485.23" y="154.00" width="3.00" height="9.00" fill="#c6c6c6"/>
<rect x="489.30" y="154.00" width="3.00" height="9.00" fill="#c6c6c6"/>
<rect x="493.37" y="154.00" width="3.00" height="9.00" fill="#c6c6c6"/>
<rect x="497.44" y="154.00" width="3.00" height="9.00" fill="#c6c6c6"/>
<rect x="501.52" y="154.00" width="3.00" height="9.00" fill="#c6c6c6"/>
<rect x="505.59" y="154.00" width="3.00" height="9.00" fill="#c6c6c6"/>
<rect x="509.66" y="154.00" width="3.00" height="9.00" fill="#c6c6c6"/>
<rect x="57.00" y="164.00" width="3.00" height="9.00" fill="#c6c6c6"/>
<rect x="61.07" y="164.00" width="3.00" height="9.00" fill="#c6c6c6"/>
<rect x="65.14" y="164.00" width="3.00" height="9.00" fill="#c6c6c6"/>
<rect x="69.22" y="164.00" width="3.00" height="9.00" fill="#c6c6c6"/>
<rect x="73.29" y="164.00" width="3.00" height="9.00" fill="#c6c6c6"/>
<rect x="77.36" y="164.00" width="3.00" height="9.00" fill="#c6c6c6"/>
<rect x="81.43" y="164.00" width="3.00" height="9.00" fill="#c6c6c6"/>
<rect x="85.50" y="164.00" width="3.00" height="9.00" fill="#c6c6c6"/>
<rect x="89.58" y="164.00" width="3.00" height="9.00" fill="#c6c6c6"/>
<rect x="93.65" y="164.00" width="3.00" height="9.00" fill="#c6c6c6"/>
<rect x="97.72" y="164.00" width="3.00" height="9.00" fill="#c6c6c6"/>
<rect x="101.79" y="164.00" width="3.00" height="9.00" fill="#c6c6c6"/>
<rect x="105.86" y="164.00" width="3.00" height="9.00" fill="#c6c6c6"/>
<rect x="109.94" y="164.00" width="3.00" height="9.00" fill="#c6c6c6"/>
<rect x="114.01" y="164.00" width="3.00" height="9.00" fill="#c6c6c6"/>
<rect x="118.08" y="164.00" width="3.00" height="9.00" fill="#c6c6c6"/>
<rect x="122.15" y="164.00" width="3.00" height="9.00" fill="#c6c6c6"/>
<rect x="126.22" y="164.00" width="3.00" height="9.00" fill="#c6c6c6"/>
<rect x="130.30" y="164.00" width="3.00" height="9.00" fill="#c6c6c6"/>
<rect x="134.37" y="164.00" width="3.00" height="9.00" fill="#c6c6c6"/>
<rect x="138.44" y="164.00" width="3.00" height="9.00" fill="#c6c6c6"/>
<rect x="142.51" y="164.00" width="3.00" height="9.00" fill="#c6c6c6"/>
<rect x="146.58" y="164.00" width="3.00" height="9.00" fill="#c6c6c6"/>
<rect x="150.66" y="164.00" width="3.00" height="9.00" fill="#c6c6c6"/>
<rect x="154.73" y="164.00" width="3.00" height="9.00" fill="#c6c6c6"/>
<rect x="158.80" y="164.00" width="3.00" height="9.00" fill="#c6c6c6"/>
<rect x="162.87" y="164.00" width="3.00" height="9.00" fill="#c6c6c6"/>
<rect x="166.94" y="164.00" width="3.00" height="9.00" fill="#c6c6c6"/>
<rect x="171.02" y="164.00" width="3.00" height="9.00" fill="#c6c6c6"/>
<rect x="175.09" y="164.00" width="3.00" height="9.00" fill="#c6c6c6"/>
<rect x="179.16" y="164.00" width="3.00" height="9.00" fill="#c6c6c6"/>
<rect x="183.23" y="164.00" width="3.00" height="9.00" fill="#c6c6c6"/>
<rect x="187.30" y="164.00" width="3.00" height="9.00" fill="#c6c6c6"/>
<rect x="191.38" y="164.00" width="3.00" height="9.00" fill="#c6c6c6"/>
<rect x="195.45" y="164.00" width="3.00" height="9.00" fill="#c6c6c6"/>
<rect x="199.52" y="164.00" width="3.00" height="9.00" fill="#c6c6c6"/>
<rect x="203.59" y="164.00" width="3.00" height="9.00" fill="#c6c6c6"/>
<rect x="207.66" y="164.00" width="3.00" height="9.00" fill="#c6c6c6"/>
<rect x="211.74" y="164.00" width="3.00" height="9.00" fill="#c6c6c6"/>
<rect x="215.81" y="164.00" width="3.00" height="9.00" fill="#c6c6c6"/>
<rect x="219.88" y="164.00" width="3.00" height="9.00" fill="#c6c6c6"/>
<rect x="227.10" y="164.00" width="3.00" height="9.00" fill="#c6c6c6"/>
<rect x="231.17" y="164.00" width="3.00" height="9.00" fill="#c6c6c6"/>
<rect x="235.24" y="164.00" width="3.00" height="9.00" fill="#c6c6c6"/>
<rect x="239.32" y="164.00" width="3.00" height="9.00" fill="#c6c6c6"/>
<rect x="243.39" y="164.00" width="3.00" height="9.00" fill="#c6c6c6"/>
<rect x="250.50" y="164.00" width="3.00" height="9.00" fill="#c6c6c6"/>
<rect x="254.57" y="164.00" width="3.00" height="9.00" fill="#c6c6c6"/>
<rect x="258.64" y="164.00" width="3.00" height="9.00" fill="#6ba3d8"/>
<rect x="262.72" y="164.00" width="3.00" height="9.00" fill="#6ba3d8"/>
<rect x="266.79" y="164.00" width="3.00" height="9.00" fill="#6ba3d8"/>
<rect x="270.86" y="164.00" width="3.00" height="9.00" fill="#6ba3d8"/>
<rect x="274.93" y="164.00" width="3.00" height="9.00" fill="#c6c6c6"/>
<rect x="279.00" y="164.00" width="3.00" height="9.00" fill="#c6c6c6"/>
<rect x="285.70" y="164.00" width="3.00" height="9.00" fill="#c6c6c6"/>
<rect x="289.77" y="164.00" width="3.00" height="9.00" fill="#c6c6c6"/>
<rect x="293.84" y="164.00" width="3.00" height="9.00" fill="#c6c6c6"/>
<rect x="297.92" y="164.00" width="3.00" height="9.00" fill="#c6c6c6"/>
<rect x="301.99" y="164.00" width="3.00" height="9.00" fill="#c6c6c6"/>
<rect x="306.06" y="164.00" width="3.00" height="9.00" fill="#c6c6c6"/>
<rect x="310.13" y="164.00" width="3.00" height="9.00" fill="#c6c6c6"/>
<rect x="314.20" y="164.00" width="3.00" height="9.00" fill="#c6c6c6"/>
<rect x="318.28" y="164.00" width="3.00" height="9.00" fill="#c6c6c6"/>
<rect x="322.35" y="164.00" width="3.00" height="9.00" fill="#c6c6c6"/>
<rect x="326.42" y="164.00" width="3.00" height="9.00" fill="#c6c6c6"/>
<rect x="330.49" y="164.00" width="3.00" height="9.00" fill="#c6c6c6"/>
<rect x="334.56" y="164.00" width="3.00" height="9.00" fill="#c6c6c6"/>
<rect x="338.64" y="164.00" width="3.00" height="9.00" fill="#c6c6c6"/>
<rect x="342.71" y="164.00" width="3.00" height="9.00" fill="#c6c6c6"/>
<rect x="346.78" y="164.00" width="3.00" height="9.00" fill="#c6c6c6"/>
<rect x="350.85" y="164.00" width="3.00" height="9.00" fill="#c6c6c6"/>
<rect x="354.92" y="164.00" width="3.00" height="9.00" fill="#c6c6c6"/>
<rect x="359.00" y="164.00" width="3.00" height="9.00" fill="#c6c6c6"/>
<rect x="363.07" y="164.00" width="3.00" height="9.00" fill="#c6c6c6"/>
<rect x="367.14" y="164.00" width="3.00" height="9.00" fill="#c6c6c6"/>
<rect x="371.21" y="164.00" width="3.00" height="9.00" fill="#c6c6c6"/>
<rect x="375.28" y="164.00" width="3.00" height="9.00" fill="#c6c6c6"/>
<rect x="379.36" y="164.00" width="3.00" height="9.00" fill="#c6c6c6"/>
<rect x="383.43" y="164.00" width="3.00" height="9.00" fill="#c6c6c6"/>
<rect x="387.50" y="164.00" width="3.00" height="9.00" fill="#c6c6c6"/>
<rect x="391.57" y="164.00" width="3.00" height="9.00" fill="#c6c6c6"/>
<rect x="395.64" y="164.00" width="3.00" height="9.00" fill="#c6c6c6"/>
<rect x="399.72" y="164.00" width="3.00" height="9.00" fill="#c6c6c6"/>
<rect x="403.79" y="164.00" width="3.00" height="9.00" fill="#c6c6c6"/>
<rect x="407.86" y="164.00" width="3.00" height="9.00" fill="#c6c6c6"/>
<rect x="411.93" y="164.00" width="3.00" height="9.00" fill="#c6c6c6"/>
<rect x="416.00" y="164.00" width="3.00" height="9.00" fill="#c6c6c6"/>
<rect x="420.08" y="164.00" width="3.00" height="9.00" fill="#c6c6c6"/>
<rect x="424.15" y="164.00" width="3.00" height="9.00" fill="#c6c6c6"/>
<rect x="428.22" y="164.00" width="3.00" height="9.00" fill="#c6c6c6"/>
<rect x="432.29" y="164.00" width="3.00" height="9.00" fill="#c6c6c6"/>
<rect x="436.36" y="164.00" width="3.00" height="9.00" fill="#c6c6c6"/>
<rect x="440.44" y="164.00" width="3.00" height="9.00" fill="#c6c6c6"/>
<rect x="444.51" y="164.00" width="3.00" height="9.00" fill="#c6c6c6"/>
<rect x="448.58" y="164.00" width="3.00" height="9.00" fill="#c6c6c6"/>
<rect x="452.65" y="164.00" width="3.00" height="9.00" fill="#c6c6c6"/>
<rect x="456.72" y="164.00" width="3.00" height="9.00" fill="#c6c6c6"/>
<rect x="460.80" y="164.00" width="3.00" height="9.00" fill="#c6c6c6"/>
<rect x="464.87" y="164.00" width="3.00" height="9.00" fill="#c6c6c6"/>
<rect x="468.94" y="164.00" width="3.00" height="9.00" fill="#c6c6c6"/>
<rect x="473.01" y="164.00" width="3.00" height="9.00" fill="#c6c6c6"/>
<rect x="477.08" y="164.00" width="3.00" height="9.00" fill="#c6c6c6"/>
<rect x="481.16" y="164.00" width="3.00" height="9.00" fill="#c6c6c6"/>
<rect x="485.23" y="164.00" width="3.00" height="9.00" fill="#c6c6c6"/>
<rect x="489.30" y="164.00" width="3.00" height="9.00" fill="#c6c6c6"/>
<rect x="493.37" y="164.00" width="3.00" height="9.00" fill="#c6c6c6"/>
<rect x="497.44" y="164.00" width="3.00" height="9.00" fill="#c6c6c6"/>
<rect x="501.52" y="164.00" width="3.00" height="9.00" fill="#c6c6c6"/>
<rect x="505.59" y="164.00" width="3.00" height="9.00" fill="#c6c6c6"/>
<rect x="509.66" y="164.00" width="3.00" height="9.00" fill="#c6c6c6"/>
<rect x="57.00" y="174.00" width="3.00" height="9.00" fill="#c6c6c6"/>
<rect x="61.07" y="174.00" width="3.00" height="9.00" fill="#c6c6c6"/>
<rect x="65.14" y="174.00" width="3.00" height="9.00" fill="#c6c6c6"/>
<rect x="69.22" y="174.00" width="3.00" height="9.00" fill="#c6c6c6"/>
<rect x="73.29" y="174.00" width="3.00" height="9.00" fill="#c6c6c6"/>
<rect x="77.36" y="174.00" width="3.00" height="9.00" fill="#c6c6c6"/>
<rect x="81.43" y="174.00" width="3.00" height="9.00" fill="#c6c6c6"/>
<rect x="85.50" y="174.00" width="3.00" height="9.00" fill="#c6c6c6"/>
<rect x="89.58" y="174.00" width="3.00" height="9.00" fill="#c6c6c6"/>
<rect x="93.65" y="174.00" width="3.00" height="9.00" fill="#c6c6c6"/>
<rect x="97.72" y="174.00" width="3.00" height="9.00" fill="#c6c6c6"/>
<rect x="101.79" y="174.00" width="3.00" height="9.00" fill="#c6c6c6"/>
<rect x="105.86" y="174.00" width="3.00" height="9.00" fill="#c6c6c6"/>
<rect x="109.94" y="174.00" width="3.00" height="9.00" fill="#c6c6c6"/>
<rect x="114.01" y="174.00" width="3.00" height="9.00" fill="#c6c6c6"/>
<rect x="118.08" y="174.00" width="3.00" height="9.00" fill="#c6c6c6"/>
<rect x="122.15" y="174.00" width="3.00" height="9.00" fill="#c6c6c6"/>
<rect x="126.22" y="174.00" width="3.00" height="9.00" fill="#c6c6c6"/>
<rect x="130.30" y="174.00" width="3.00" height="9.00" fill="#c6c6c6"/>
<rect x="134.37" y="174.00" width="3.00" height="9.00" fill="#c6c6c6"/>
<rect x="138.44" y="174.00" width="3.00" height="9.00" fill="#c6c6c6"/>
<rect x="142.51" y="174.00" width="3.00" height="9.00" fill="#c6c6c6"/>
<rect x="146.58" y="174.00" width="3.00" height="9.00" fill="#c6c6c6"/>
<rect x="150.66" y="174.00" width="3.00" height="9.00" fill="#c6c6c6"/>
<rect x="154.73" y="174.00" width="3.00" height="9.00" fill="#c6c6c6"/>
<rect x="158.80" y="174.00" width="3.00" height="9.00" fill="#c6c6c6"/>
<rect x="162.87" y="174.00" width="3.00" height="9.00" fill="#c6c6c6"/>
<rect x="166.94" y="174.00" width="3.00" height="9.00" fill="#c6c6c6"/>
<rect x="171.02" y="174.00" width="3.00" height="9.00" fill="#c6c6c6"/>
<rect x="175.09" y="174.00" width="3.00" height="9.00" fill="#c6c6c6"/>
<rect x="179.16" y="174.00" width="3.00" height="9.00" fill="#c6c6c6"/>
<rect x="183.23" y="174.00" width="3.00" height="9.00" fill="#c6c6c6"/>
<rect x="187.30" y="174.00" width="3.00" height="9.00" fill="#c6c6c6"/>
<rect x="191.38" y="174.00" width="3.00" height="9.00" fill="#c6c6c6"/>
<rect x="195.45" y="174.00" width="3.00" height="9.00" fill="#c6c6c6"/>
<rect x="199.52" y="174.00" width="3.00" height="9.00" fill="#c6c6c6"/>
<rect x="203.59" y="174.00" width="3.00" height="9.00" fill="#c6c6c6"/>
<rect x="207.66" y="174.00" width="3.00" height="9.00" fill="#c6c6c6"/>
<rect x="211.74" y="174.00" width="3.00" height="9.00" fill="#c6c6c6"/>
<rect x="215.81" y="174.00" width="3.00" height="9.00" fill="#c6c6c6"/>
<rect x="219.88" y="174.00" width="3.00" height="9.00" fill="#c6c6c6"/>
<rect x="227.10" y="174.00" width="3.00" height="9.00" fill="#c6c6c6"/>
<rect x="231.17" y="174.00" width="3.00" height="9.00" fill="#c6c6c6"/>
<rect x="235.24" y="174.00" width="3.00" height="9.00" fill="#c6c6c6"/>
<rect x="239.32" y="174.00" width="3.00" height="9.00" fill="#c6c6c6"/>
<rect x="243.39" y="174.00" width="3.00" height="9.00" fill="#c6c6c6"/>
<rect x="250.50" y="174.00" width="3.00" height="9.00" fill="#c6c6c6"/>
<rect x="254.57" y="174.00" width="3.00" height="9.00" fill="#c6c6c6"/>
<rect x="258.64" y="174.00" width="3.00" height="9.00" fill="#c6c6c6"/>
<rect x="262.72" y="174.00" width="3.00" height="9.00" fill="#c6c6c6"/>
<rect x="266.79" y="174.00" width="3.00" height="9.00" fill="#c6c6c6"/>
<rect x="270.86" y="174.00" width="3.00" height="9.00" fill="#c6c6c6"/>
<rect x="274.93" y="174.00" width="3.00" height="9.00" fill="#6ba3d8"/>
<rect x="279.00" y="174.00" width="3.00" height="9.00" fill="#6ba3d8"/>
<rect x="285.70" y="174.00" width="3.00" height="9.00" fill="#c6c6c6"/>
<rect x="289.77" y="174.00" width="3.00" height="9.00" fill="#c6c6c6"/>
<rect x="293.84" y="174.00" width="3.00" height="9.00" fill="#c6c6c6"/>
<rect x="297.92" y="174.00" width="3.00" height="9.00" fill="#c6c6c6"/>
<rect x="301.99" y="174.00" width="3.00" height="9.00" fill="#c6c6c6"/>
<rect x="306.06" y="174.00" width="3.00" height="9.00" fill="#c6c6c6"/>
<rect x="310.13" y="174.00" width="3.00" height="9.00" fill="#c6c6c6"/>
<rect x="314.20" y="174.00" width="3.00" height="9.00" fill="#c6c6c6"/>
<rect x="318.28" y="174.00" width="3.00" height="9.00" fill="#c6c6c6"/>
<rect x="322.35" y="174.00" width="3.00" height="9.00" fill="#c6c6c6"/>
<rect x="326.42" y="174.00" width="3.00" height="9.00" fill="#c6c6c6"/>
<rect x="330.49" y="174.00" width="3.00" height="9.00" fill="#c6c6c6"/>
<rect x="334.56" y="174.00" width="3.00" height="9.00" fill="#c6c6c6"/>
<rect x="338.64" y="174.00" width="3.00" height="9.00" fill="#c6c6c6"/>
<rect x="342.71" y="174.00" width="3.00" height="9.00" fill="#c6c6c6"/>
<rect x="346.78" y="174.00" width="3.00" height="9.00" fill="#c6c6c6"/>
<rect x="350.85" y="174.00" width="3.00" height="9.00" fill="#c6c6c6"/>
<rect x="354.92" y="174.00" width="3.00" height="9.00" fill="#c6c6c6"/>
<rect x="359.00" y="174.00" width="3.00" height="9.00" fill="#c6c6c6"/>
<rect x="363.07" y="174.00" width="3.00" height="9.00" fill="#c6c6c6"/>
<rect x="367.14" y="174.00" width="3.00" height="9.00" fill="#c6c6c6"/>
<rect x="371.21" y="174.00" width="3.00" height="9.00" fill="#c6c6c6"/>
<rect x="375.28" y="174.00" width="3.00" height="9.00" fill="#c6c6c6"/>
<rect x="379.36" y="174.00" width="3.00" height="9.00" fill="#c6c6c6"/>
<rect x="383.43" y="174.00" width="3.00" height="9.00" fill="#c6c6c6"/>
<rect x="387.50" y="174.00" width="3.00" height="9.00" fill="#c6c6c6"/>
<rect x="391.57" y="174.00" width="3.00" height="9.00" fill="#c6c6c6"/>
<rect x="395.64" y="174.00" width="3.00" height="9.00" fill="#c6c6c6"/>
<rect x="399.72" y="174.00" width="3.00" height="9.00" fill="#c6c6c6"/>
<rect x="403.79" y="174.00" width="3.00" height="9.00" fill="#c6c6c6"/>
<rect x="407.86" y="174.00" width="3.00" height="9.00" fill="#c6c6c6"/>
<rect x="411.93" y="174.00" width="3.00" height="9.00" fill="#c6c6c6"/>
<rect x="416.00" y="174.00" width="3.00" height="9.00" fill="#c6c6c6"/>
<rect x="420.08" y="174.00" width="3.00" height="9.00" fill="#c6c6c6"/>
<rect x="424.15" y="174.00" width="3.00" height="9.00" fill="#c6c6c6"/>
<rect x="428.22" y="174.00" width="3.00" height="9.00" fill="#c6c6c6"/>
<rect x="432.29" y="174.00" width="3.00" height="9.00" fill="#c6c6c6"/>
<rect x="436.36" y="174.00" width="3.00" height="9.00" fill="#c6c6c6"/>
<rect x="440.44" y="174.00" width="3.00" height="9.00" fill="#c6c6c6"/>
<rect x="444.51" y="174.00" width="3.00" height="9.00" fill="#c6c6c6"/>
<rect x="448.58" y="174.00" width="3.00" height="9.00" fill="#c6c6c6"/>
<rect x="452.65" y="174.00" width="3.00" height="9.00" fill="#c6c6c6"/>
<rect x="456.72" y="174.00" width="3.00" height="9.00" fill="#c6c6c6"/>
<rect x="460.80" y="174.00" width="3.00" height="9.00" fill="#c6c6c6"/>
<rect x="464.87" y="174.00" width="3.00" height="9.00" fill="#c6c6c6"/>
<rect x="468.94" y="174.00" width="3.00" height="9.00" fill="#c6c6c6"/>
<rect x="473.01" y="174.00" width="3.00" height="9.00" fill="#c6c6c6"/>
<rect x="477.08" y="174.00" width="3.00" height="9.00" fill="#c6c6c6"/>
<rect x="481.16" y="174.00" width="3.00" height="9.00" fill="#c6c6c6"/>
<rect x="485.23" y="174.00" width="3.00" height="9.00" fill="#c6c6c6"/>
<rect x="489.30" y="174.00" width="3.00" height="9.00" fill="#c6c6c6"/>
<rect x="493.37" y="174.00" width="3.00" height="9.00" fill="#c6c6c6"/>
<rect x="497.44" y="174.00" width="3.00" height="9.00" fill="#c6c6c6"/>
<rect x="501.52" y="174.00" width="3.00" height="9.00" fill="#c6c6c6"/>
<rect x="505.59" y="174.00" width="3.00" height="9.00" fill="#c6c6c6"/>
<rect x="509.66" y="174.00" width="3.00" height="9.00" fill="#c6c6c6"/>
<rect x="57.00" y="187.50" width="3.00" height="8.90" fill="#d98d1c"/>
<rect x="61.07" y="187.50" width="3.00" height="8.90" fill="#d98d1c"/>
<rect x="65.14" y="187.50" width="3.00" height="8.90" fill="#d98d1c"/>
<rect x="69.22" y="187.50" width="3.00" height="8.90" fill="#d98d1c"/>
<rect x="73.29" y="187.50" width="3.00" height="8.90" fill="#d98d1c"/>
<rect x="77.36" y="187.50" width="3.00" height="8.90" fill="#c6c6c6"/>
<rect x="81.43" y="187.50" width="3.00" height="8.90" fill="#c6c6c6"/>
<rect x="85.50" y="187.50" width="3.00" height="8.90" fill="#c6c6c6"/>
<rect x="89.58" y="187.50" width="3.00" height="8.90" fill="#c6c6c6"/>
<rect x="93.65" y="187.50" width="3.00" height="8.90" fill="#c6c6c6"/>
<rect x="97.72" y="187.50" width="3.00" height="8.90" fill="#c6c6c6"/>
<rect x="101.79" y="187.50" width="3.00" height="8.90" fill="#c6c6c6"/>
<rect x="105.86" y="187.50" width="3.00" height="8.90" fill="#c6c6c6"/>
<rect x="109.94" y="187.50" width="3.00" height="8.90" fill="#c6c6c6"/>
<rect x="114.01" y="187.50" width="3.00" height="8.90" fill="#c6c6c6"/>
<rect x="118.08" y="187.50" width="3.00" height="8.90" fill="#c6c6c6"/>
<rect x="122.15" y="187.50" width="3.00" height="8.90" fill="#c6c6c6"/>
<rect x="126.22" y="187.50" width="3.00" height="8.90" fill="#c6c6c6"/>
<rect x="130.30" y="187.50" width="3.00" height="8.90" fill="#c6c6c6"/>
<rect x="134.37" y="187.50" width="3.00" height="8.90" fill="#c6c6c6"/>
<rect x="138.44" y="187.50" width="3.00" height="8.90" fill="#c6c6c6"/>
<rect x="142.51" y="187.50" width="3.00" height="8.90" fill="#c6c6c6"/>
<rect x="146.58" y="187.50" width="3.00" height="8.90" fill="#c6c6c6"/>
<rect x="150.66" y="187.50" width="3.00" height="8.90" fill="#c6c6c6"/>
<rect x="154.73" y="187.50" width="3.00" height="8.90" fill="#c6c6c6"/>
<rect x="158.80" y="187.50" width="3.00" height="8.90" fill="#c6c6c6"/>
<rect x="162.87" y="187.50" width="3.00" height="8.90" fill="#c6c6c6"/>
<rect x="166.94" y="187.50" width="3.00" height="8.90" fill="#c6c6c6"/>
<rect x="171.02" y="187.50" width="3.00" height="8.90" fill="#c6c6c6"/>
<rect x="175.09" y="187.50" width="3.00" height="8.90" fill="#c6c6c6"/>
<rect x="179.16" y="187.50" width="3.00" height="8.90" fill="#c6c6c6"/>
<rect x="183.23" y="187.50" width="3.00" height="8.90" fill="#c6c6c6"/>
<rect x="187.30" y="187.50" width="3.00" height="8.90" fill="#c6c6c6"/>
<rect x="191.38" y="187.50" width="3.00" height="8.90" fill="#c6c6c6"/>
<rect x="195.45" y="187.50" width="3.00" height="8.90" fill="#c6c6c6"/>
<rect x="199.52" y="187.50" width="3.00" height="8.90" fill="#c6c6c6"/>
<rect x="203.59" y="187.50" width="3.00" height="8.90" fill="#c6c6c6"/>
<rect x="207.66" y="187.50" width="3.00" height="8.90" fill="#c6c6c6"/>
<rect x="211.74" y="187.50" width="3.00" height="8.90" fill="#c6c6c6"/>
<rect x="215.81" y="187.50" width="3.00" height="8.90" fill="#c6c6c6"/>
<rect x="219.88" y="187.50" width="3.00" height="8.90" fill="#c6c6c6"/>
<rect x="227.10" y="187.50" width="3.00" height="8.90" fill="#c6c6c6"/>
<rect x="231.17" y="187.50" width="3.00" height="8.90" fill="#c6c6c6"/>
<rect x="235.24" y="187.50" width="3.00" height="8.90" fill="#c6c6c6"/>
<rect x="239.32" y="187.50" width="3.00" height="8.90" fill="#c6c6c6"/>
<rect x="243.39" y="187.50" width="3.00" height="8.90" fill="#c6c6c6"/>
<rect x="250.50" y="187.50" width="3.00" height="8.90" fill="#c6c6c6"/>
<rect x="254.57" y="187.50" width="3.00" height="8.90" fill="#c6c6c6"/>
<rect x="258.64" y="187.50" width="3.00" height="8.90" fill="#c6c6c6"/>
<rect x="262.72" y="187.50" width="3.00" height="8.90" fill="#c6c6c6"/>
<rect x="266.79" y="187.50" width="3.00" height="8.90" fill="#c6c6c6"/>
<rect x="270.86" y="187.50" width="3.00" height="8.90" fill="#c6c6c6"/>
<rect x="274.93" y="187.50" width="3.00" height="8.90" fill="#c6c6c6"/>
<rect x="279.00" y="187.50" width="3.00" height="8.90" fill="#c6c6c6"/>
<rect x="285.70" y="187.50" width="3.00" height="8.90" fill="#c6c6c6"/>
<rect x="289.77" y="187.50" width="3.00" height="8.90" fill="#c6c6c6"/>
<rect x="293.84" y="187.50" width="3.00" height="8.90" fill="#c6c6c6"/>
<rect x="297.92" y="187.50" width="3.00" height="8.90" fill="#c6c6c6"/>
<rect x="301.99" y="187.50" width="3.00" height="8.90" fill="#c6c6c6"/>
<rect x="306.06" y="187.50" width="3.00" height="8.90" fill="#c6c6c6"/>
<rect x="310.13" y="187.50" width="3.00" height="8.90" fill="#c6c6c6"/>
<rect x="314.20" y="187.50" width="3.00" height="8.90" fill="#c6c6c6"/>
<rect x="318.28" y="187.50" width="3.00" height="8.90" fill="#c6c6c6"/>
<rect x="322.35" y="187.50" width="3.00" height="8.90" fill="#c6c6c6"/>
<rect x="326.42" y="187.50" width="3.00" height="8.90" fill="#c6c6c6"/>
<rect x="330.49" y="187.50" width="3.00" height="8.90" fill="#c6c6c6"/>
<rect x="334.56" y="187.50" width="3.00" height="8.90" fill="#c6c6c6"/>
<rect x="338.64" y="187.50" width="3.00" height="8.90" fill="#c6c6c6"/>
<rect x="342.71" y="187.50" width="3.00" height="8.90" fill="#c6c6c6"/>
<rect x="346.78" y="187.50" width="3.00" height="8.90" fill="#c6c6c6"/>
<rect x="350.85" y="187.50" width="3.00" height="8.90" fill="#c6c6c6"/>
<rect x="354.92" y="187.50" width="3.00" height="8.90" fill="#c6c6c6"/>
<rect x="359.00" y="187.50" width="3.00" height="8.90" fill="#c6c6c6"/>
<rect x="363.07" y="187.50" width="3.00" height="8.90" fill="#c6c6c6"/>
<rect x="367.14" y="187.50" width="3.00" height="8.90" fill="#c6c6c6"/>
<rect x="371.21" y="187.50" width="3.00" height="8.90" fill="#c6c6c6"/>
<rect x="375.28" y="187.50" width="3.00" height="8.90" fill="#c6c6c6"/>
<rect x="379.36" y="187.50" width="3.00" height="8.90" fill="#c6c6c6"/>
<rect x="383.43" y="187.50" width="3.00" height="8.90" fill="#c6c6c6"/>
<rect x="387.50" y="187.50" width="3.00" height="8.90" fill="#c6c6c6"/>
<rect x="391.57" y="187.50" width="3.00" height="8.90" fill="#c6c6c6"/>
<rect x="395.64" y="187.50" width="3.00" height="8.90" fill="#c6c6c6"/>
<rect x="399.72" y="187.50" width="3.00" height="8.90" fill="#c6c6c6"/>
<rect x="403.79" y="187.50" width="3.00" height="8.90" fill="#c6c6c6"/>
<rect x="407.86" y="187.50" width="3.00" height="8.90" fill="#c6c6c6"/>
<rect x="411.93" y="187.50" width="3.00" height="8.90" fill="#c6c6c6"/>
<rect x="416.00" y="187.50" width="3.00" height="8.90" fill="#c6c6c6"/>
<rect x="420.08" y="187.50" width="3.00" height="8.90" fill="#c6c6c6"/>
<rect x="424.15" y="187.50" width="3.00" height="8.90" fill="#c6c6c6"/>
<rect x="428.22" y="187.50" width="3.00" height="8.90" fill="#c6c6c6"/>
<rect x="432.29" y="187.50" width="3.00" height="8.90" fill="#c6c6c6"/>
<rect x="436.36" y="187.50" width="3.00" height="8.90" fill="#c6c6c6"/>
<rect x="440.44" y="187.50" width="3.00" height="8.90" fill="#c6c6c6"/>
<rect x="444.51" y="187.50" width="3.00" height="8.90" fill="#c6c6c6"/>
<rect x="448.58" y="187.50" width="3.00" height="8.90" fill="#c6c6c6"/>
<rect x="452.65" y="187.50" width="3.00" height="8.90" fill="#c6c6c6"/>
<rect x="456.72" y="187.50" width="3.00" height="8.90" fill="#c6c6c6"/>
<rect x="460.80" y="187.50" width="3.00" height="8.90" fill="#c6c6c6"/>
<rect x="464.87" y="187.50" width="3.00" height="8.90" fill="#c6c6c6"/>
<rect x="468.94" y="187.50" width="3.00" height="8.90" fill="#c6c6c6"/>
<rect x="473.01" y="187.50" width="3.00" height="8.90" fill="#c6c6c6"/>
<rect x="477.08" y="187.50" width="3.00" height="8.90" fill="#c6c6c6"/>
<rect x="481.16" y="187.50" width="3.00" height="8.90" fill="#c6c6c6"/>
<rect x="485.23" y="187.50" width="3.00" height="8.90" fill="#c6c6c6"/>
<rect x="489.30" y="187.50" width="3.00" height="8.90" fill="#c6c6c6"/>
<rect x="493.37" y="187.50" width="3.00" height="8.90" fill="#c6c6c6"/>
<rect x="497.44" y="187.50" width="3.00" height="8.90" fill="#c6c6c6"/>
<rect x="501.52" y="187.50" width="3.00" height="8.90" fill="#c6c6c6"/>
<rect x="505.59" y="187.50" width="3.00" height="8.90" fill="#c6c6c6"/>
<rect x="509.66" y="187.50" width="3.00" height="8.90" fill="#c6c6c6"/>
<rect x="57.00" y="197.40" width="3.00" height="8.90" fill="#c6c6c6"/>
<rect x="61.07" y="197.40" width="3.00" height="8.90" fill="#c6c6c6"/>
<rect x="65.14" y="197.40" width="3.00" height="8.90" fill="#c6c6c6"/>
<rect x="69.22" y="197.40" width="3.00" height="8.90" fill="#c6c6c6"/>
<rect x="73.29" y="197.40" width="3.00" height="8.90" fill="#c6c6c6"/>
<rect x="77.36" y="197.40" width="3.00" height="8.90" fill="#d98d1c"/>
<rect x="81.43" y="197.40" width="3.00" height="8.90" fill="#d98d1c"/>
<rect x="85.50" y="197.40" width="3.00" height="8.90" fill="#d98d1c"/>
<rect x="89.58" y="197.40" width="3.00" height="8.90" fill="#d98d1c"/>
<rect x="93.65" y="197.40" width="3.00" height="8.90" fill="#d98d1c"/>
<rect x="97.72" y="197.40" width="3.00" height="8.90" fill="#d98d1c"/>
<rect x="101.79" y="197.40" width="3.00" height="8.90" fill="#d98d1c"/>
<rect x="105.86" y="197.40" width="3.00" height="8.90" fill="#d98d1c"/>
<rect x="109.94" y="197.40" width="3.00" height="8.90" fill="#d98d1c"/>
<rect x="114.01" y="197.40" width="3.00" height="8.90" fill="#d98d1c"/>
<rect x="118.08" y="197.40" width="3.00" height="8.90" fill="#d98d1c"/>
<rect x="122.15" y="197.40" width="3.00" height="8.90" fill="#d98d1c"/>
<rect x="126.22" y="197.40" width="3.00" height="8.90" fill="#d98d1c"/>
<rect x="130.30" y="197.40" width="3.00" height="8.90" fill="#d98d1c"/>
<rect x="134.37" y="197.40" width="3.00" height="8.90" fill="#d98d1c"/>
<rect x="138.44" y="197.40" width="3.00" height="8.90" fill="#d98d1c"/>
<rect x="142.51" y="197.40" width="3.00" height="8.90" fill="#d98d1c"/>
<rect x="146.58" y="197.40" width="3.00" height="8.90" fill="#d98d1c"/>
<rect x="150.66" y="197.40" width="3.00" height="8.90" fill="#d98d1c"/>
<rect x="154.73" y="197.40" width="3.00" height="8.90" fill="#d98d1c"/>
<rect x="158.80" y="197.40" width="3.00" height="8.90" fill="#d98d1c"/>
<rect x="162.87" y="197.40" width="3.00" height="8.90" fill="#d98d1c"/>
<rect x="166.94" y="197.40" width="3.00" height="8.90" fill="#d98d1c"/>
<rect x="171.02" y="197.40" width="3.00" height="8.90" fill="#d98d1c"/>
<rect x="175.09" y="197.40" width="3.00" height="8.90" fill="#d98d1c"/>
<rect x="179.16" y="197.40" width="3.00" height="8.90" fill="#d98d1c"/>
<rect x="183.23" y="197.40" width="3.00" height="8.90" fill="#d98d1c"/>
<rect x="187.30" y="197.40" width="3.00" height="8.90" fill="#d98d1c"/>
<rect x="191.38" y="197.40" width="3.00" height="8.90" fill="#d98d1c"/>
<rect x="195.45" y="197.40" width="3.00" height="8.90" fill="#d98d1c"/>
<rect x="199.52" y="197.40" width="3.00" height="8.90" fill="#d98d1c"/>
<rect x="203.59" y="197.40" width="3.00" height="8.90" fill="#d98d1c"/>
<rect x="207.66" y="197.40" width="3.00" height="8.90" fill="#d98d1c"/>
<rect x="211.74" y="197.40" width="3.00" height="8.90" fill="#d98d1c"/>
<rect x="215.81" y="197.40" width="3.00" height="8.90" fill="#d98d1c"/>
<rect x="219.88" y="197.40" width="3.00" height="8.90" fill="#d98d1c"/>
<rect x="227.10" y="197.40" width="3.00" height="8.90" fill="#c6c6c6"/>
<rect x="231.17" y="197.40" width="3.00" height="8.90" fill="#c6c6c6"/>
<rect x="235.24" y="197.40" width="3.00" height="8.90" fill="#c6c6c6"/>
<rect x="239.32" y="197.40" width="3.00" height="8.90" fill="#c6c6c6"/>
<rect x="243.39" y="197.40" width="3.00" height="8.90" fill="#c6c6c6"/>
<rect x="250.50" y="197.40" width="3.00" height="8.90" fill="#c6c6c6"/>
<rect x="254.57" y="197.40" width="3.00" height="8.90" fill="#c6c6c6"/>
<rect x="258.64" y="197.40" width="3.00" height="8.90" fill="#c6c6c6"/>
<rect x="262.72" y="197.40" width="3.00" height="8.90" fill="#c6c6c6"/>
<rect x="266.79" y="197.40" width="3.00" height="8.90" fill="#c6c6c6"/>
<rect x="270.86" y="197.40" width="3.00" height="8.90" fill="#c6c6c6"/>
<rect x="274.93" y="197.40" width="3.00" height="8.90" fill="#c6c6c6"/>
<rect x="279.00" y="197.40" width="3.00" height="8.90" fill="#c6c6c6"/>
<rect x="285.70" y="197.40" width="3.00" height="8.90" fill="#c6c6c6"/>
<rect x="289.77" y="197.40" width="3.00" height="8.90" fill="#c6c6c6"/>
<rect x="293.84" y="197.40" width="3.00" height="8.90" fill="#c6c6c6"/>
<rect x="297.92" y="197.40" width="3.00" height="8.90" fill="#c6c6c6"/>
<rect x="301.99" y="197.40" width="3.00" height="8.90" fill="#c6c6c6"/>
<rect x="306.06" y="197.40" width="3.00" height="8.90" fill="#c6c6c6"/>
<rect x="310.13" y="197.40" width="3.00" height="8.90" fill="#c6c6c6"/>
<rect x="314.20" y="197.40" width="3.00" height="8.90" fill="#c6c6c6"/>
<rect x="318.28" y="197.40" width="3.00" height="8.90" fill="#c6c6c6"/>
<rect x="322.35" y="197.40" width="3.00" height="8.90" fill="#c6c6c6"/>
<rect x="326.42" y="197.40" width="3.00" height="8.90" fill="#c6c6c6"/>
<rect x="330.49" y="197.40" width="3.00" height="8.90" fill="#c6c6c6"/>
<rect x="334.56" y="197.40" width="3.00" height="8.90" fill="#c6c6c6"/>
<rect x="338.64" y="197.40" width="3.00" height="8.90" fill="#c6c6c6"/>
<rect x="342.71" y="197.40" width="3.00" height="8.90" fill="#c6c6c6"/>
<rect x="346.78" y="197.40" width="3.00" height="8.90" fill="#c6c6c6"/>
<rect x="350.85" y="197.40" width="3.00" height="8.90" fill="#c6c6c6"/>
<rect x="354.92" y="197.40" width="3.00" height="8.90" fill="#c6c6c6"/>
<rect x="359.00" y="197.40" width="3.00" height="8.90" fill="#c6c6c6"/>
<rect x="363.07" y="197.40" width="3.00" height="8.90" fill="#c6c6c6"/>
<rect x="367.14" y="197.40" width="3.00" height="8.90" fill="#c6c6c6"/>
<rect x="371.21" y="197.40" width="3.00" height="8.90" fill="#c6c6c6"/>
<rect x="375.28" y="197.40" width="3.00" height="8.90" fill="#c6c6c6"/>
<rect x="379.36" y="197.40" width="3.00" height="8.90" fill="#c6c6c6"/>
<rect x="383.43" y="197.40" width="3.00" height="8.90" fill="#c6c6c6"/>
<rect x="387.50" y="197.40" width="3.00" height="8.90" fill="#c6c6c6"/>
<rect x="391.57" y="197.40" width="3.00" height="8.90" fill="#c6c6c6"/>
<rect x="395.64" y="197.40" width="3.00" height="8.90" fill="#c6c6c6"/>
<rect x="399.72" y="197.40" width="3.00" height="8.90" fill="#c6c6c6"/>
<rect x="403.79" y="197.40" width="3.00" height="8.90" fill="#c6c6c6"/>
<rect x="407.86" y="197.40" width="3.00" height="8.90" fill="#c6c6c6"/>
<rect x="411.93" y="197.40" width="3.00" height="8.90" fill="#c6c6c6"/>
<rect x="416.00" y="197.40" width="3.00" height="8.90" fill="#c6c6c6"/>
<rect x="420.08" y="197.40" width="3.00" height="8.90" fill="#c6c6c6"/>
<rect x="424.15" y="197.40" width="3.00" height="8.90" fill="#c6c6c6"/>
<rect x="428.22" y="197.40" width="3.00" height="8.90" fill="#c6c6c6"/>
<rect x="432.29" y="197.40" width="3.00" height="8.90" fill="#c6c6c6"/>
<rect x="436.36" y="197.40" width="3.00" height="8.90" fill="#c6c6c6"/>
<rect x="440.44" y="197.40" width="3.00" height="8.90" fill="#c6c6c6"/>
<rect x="444.51" y="197.40" width="3.00" height="8.90" fill="#c6c6c6"/>
<rect x="448.58" y="197.40" width="3.00" height="8.90" fill="#c6c6c6"/>
<rect x="452.65" y="197.40" width="3.00" height="8.90" fill="#c6c6c6"/>
<rect x="456.72" y="197.40" width="3.00" height="8.90" fill="#c6c6c6"/>
<rect x="460.80" y="197.40" width="3.00" height="8.90" fill="#c6c6c6"/>
<rect x="464.87" y="197.40" width="3.00" height="8.90" fill="#c6c6c6"/>
<rect x="468.94" y="197.40" width="3.00" height="8.90" fill="#c6c6c6"/>
<rect x="473.01" y="197.40" width="3.00" height="8.90" fill="#c6c6c6"/>
<rect x="477.08" y="197.40" width="3.00" height="8.90" fill="#c6c6c6"/>
<rect x="481.16" y="197.40" width="3.00" height="8.90" fill="#c6c6c6"/>
<rect x="485.23" y="197.40" width="3.00" height="8.90" fill="#c6c6c6"/>
<rect x="489.30" y="197.40" width="3.00" height="8.90" fill="#c6c6c6"/>
<rect x="493.37" y="197.40" width="3.00" height="8.90" fill="#c6c6c6"/>
<rect x="497.44" y="197.40" width="3.00" height="8.90" fill="#c6c6c6"/>
<rect x="501.52" y="197.40" width="3.00" height="8.90" fill="#c6c6c6"/>
<rect x="505.59" y="197.40" width="3.00" height="8.90" fill="#c6c6c6"/>
<rect x="509.66" y="197.40" width="3.00" height="8.90" fill="#c6c6c6"/>
<rect x="57.00" y="207.30" width="3.00" height="8.90" fill="#c6c6c6"/>
<rect x="61.07" y="207.30" width="3.00" height="8.90" fill="#c6c6c6"/>
<rect x="65.14" y="207.30" width="3.00" height="8.90" fill="#c6c6c6"/>
<rect x="69.22" y="207.30" width="3.00" height="8.90" fill="#c6c6c6"/>
<rect x="73.29" y="207.30" width="3.00" height="8.90" fill="#c6c6c6"/>
<rect x="77.36" y="207.30" width="3.00" height="8.90" fill="#c6c6c6"/>
<rect x="81.43" y="207.30" width="3.00" height="8.90" fill="#c6c6c6"/>
<rect x="85.50" y="207.30" width="3.00" height="8.90" fill="#c6c6c6"/>
<rect x="89.58" y="207.30" width="3.00" height="8.90" fill="#c6c6c6"/>
<rect x="93.65" y="207.30" width="3.00" height="8.90" fill="#c6c6c6"/>
<rect x="97.72" y="207.30" width="3.00" height="8.90" fill="#c6c6c6"/>
<rect x="101.79" y="207.30" width="3.00" height="8.90" fill="#c6c6c6"/>
<rect x="105.86" y="207.30" width="3.00" height="8.90" fill="#c6c6c6"/>
<rect x="109.94" y="207.30" width="3.00" height="8.90" fill="#c6c6c6"/>
<rect x="114.01" y="207.30" width="3.00" height="8.90" fill="#c6c6c6"/>
<rect x="118.08" y="207.30" width="3.00" height="8.90" fill="#c6c6c6"/>
<rect x="122.15" y="207.30" width="3.00" height="8.90" fill="#c6c6c6"/>
<rect x="126.22" y="207.30" width="3.00" height="8.90" fill="#c6c6c6"/>
<rect x="130.30" y="207.30" width="3.00" height="8.90" fill="#c6c6c6"/>
<rect x="134.37" y="207.30" width="3.00" height="8.90" fill="#c6c6c6"/>
<rect x="138.44" y="207.30" width="3.00" height="8.90" fill="#c6c6c6"/>
<rect x="142.51" y="207.30" width="3.00" height="8.90" fill="#c6c6c6"/>
<rect x="146.58" y="207.30" width="3.00" height="8.90" fill="#c6c6c6"/>
<rect x="150.66" y="207.30" width="3.00" height="8.90" fill="#c6c6c6"/>
<rect x="154.73" y="207.30" width="3.00" height="8.90" fill="#c6c6c6"/>
<rect x="158.80" y="207.30" width="3.00" height="8.90" fill="#c6c6c6"/>
<rect x="162.87" y="207.30" width="3.00" height="8.90" fill="#c6c6c6"/>
<rect x="166.94" y="207.30" width="3.00" height="8.90" fill="#c6c6c6"/>
<rect x="171.02" y="207.30" width="3.00" height="8.90" fill="#c6c6c6"/>
<rect x="175.09" y="207.30" width="3.00" height="8.90" fill="#c6c6c6"/>
<rect x="179.16" y="207.30" width="3.00" height="8.90" fill="#c6c6c6"/>
<rect x="183.23" y="207.30" width="3.00" height="8.90" fill="#c6c6c6"/>
<rect x="187.30" y="207.30" width="3.00" height="8.90" fill="#c6c6c6"/>
<rect x="191.38" y="207.30" width="3.00" height="8.90" fill="#c6c6c6"/>
<rect x="195.45" y="207.30" width="3.00" height="8.90" fill="#c6c6c6"/>
<rect x="199.52" y="207.30" width="3.00" height="8.90" fill="#c6c6c6"/>
<rect x="203.59" y="207.30" width="3.00" height="8.90" fill="#c6c6c6"/>
<rect x="207.66" y="207.30" width="3.00" height="8.90" fill="#c6c6c6"/>
<rect x="211.74" y="207.30" width="3.00" height="8.90" fill="#c6c6c6"/>
<rect x="215.81" y="207.30" width="3.00" height="8.90" fill="#c6c6c6"/>
<rect x="219.88" y="207.30" width="3.00" height="8.90" fill="#c6c6c6"/>
<rect x="227.10" y="207.30" width="3.00" height="8.90" fill="#d98d1c"/>
<rect x="231.17" y="207.30" width="3.00" height="8.90" fill="#c6c6c6"/>
<rect x="235.24" y="207.30" width="3.00" height="8.90" fill="#c6c6c6"/>
<rect x="239.32" y="207.30" width="3.00" height="8.90" fill="#c6c6c6"/>
<rect x="243.39" y="207.30" width="3.00" height="8.90" fill="#c6c6c6"/>
<rect x="250.50" y="207.30" width="3.00" height="8.90" fill="#c6c6c6"/>
<rect x="254.57" y="207.30" width="3.00" height="8.90" fill="#c6c6c6"/>
<rect x="258.64" y="207.30" width="3.00" height="8.90" fill="#c6c6c6"/>
<rect x="262.72" y="207.30" width="3.00" height="8.90" fill="#c6c6c6"/>
<rect x="266.79" y="207.30" width="3.00" height="8.90" fill="#c6c6c6"/>
<rect x="270.86" y="207.30" width="3.00" height="8.90" fill="#c6c6c6"/>
<rect x="274.93" y="207.30" width="3.00" height="8.90" fill="#c6c6c6"/>
<rect x="279.00" y="207.30" width="3.00" height="8.90" fill="#c6c6c6"/>
<rect x="285.70" y="207.30" width="3.00" height="8.90" fill="#c6c6c6"/>
<rect x="289.77" y="207.30" width="3.00" height="8.90" fill="#c6c6c6"/>
<rect x="293.84" y="207.30" width="3.00" height="8.90" fill="#c6c6c6"/>
<rect x="297.92" y="207.30" width="3.00" height="8.90" fill="#c6c6c6"/>
<rect x="301.99" y="207.30" width="3.00" height="8.90" fill="#c6c6c6"/>
<rect x="306.06" y="207.30" width="3.00" height="8.90" fill="#c6c6c6"/>
<rect x="310.13" y="207.30" width="3.00" height="8.90" fill="#c6c6c6"/>
<rect x="314.20" y="207.30" width="3.00" height="8.90" fill="#c6c6c6"/>
<rect x="318.28" y="207.30" width="3.00" height="8.90" fill="#c6c6c6"/>
<rect x="322.35" y="207.30" width="3.00" height="8.90" fill="#c6c6c6"/>
<rect x="326.42" y="207.30" width="3.00" height="8.90" fill="#c6c6c6"/>
<rect x="330.49" y="207.30" width="3.00" height="8.90" fill="#c6c6c6"/>
<rect x="334.56" y="207.30" width="3.00" height="8.90" fill="#c6c6c6"/>
<rect x="338.64" y="207.30" width="3.00" height="8.90" fill="#c6c6c6"/>
<rect x="342.71" y="207.30" width="3.00" height="8.90" fill="#c6c6c6"/>
<rect x="346.78" y="207.30" width="3.00" height="8.90" fill="#c6c6c6"/>
<rect x="350.85" y="207.30" width="3.00" height="8.90" fill="#c6c6c6"/>
<rect x="354.92" y="207.30" width="3.00" height="8.90" fill="#c6c6c6"/>
<rect x="359.00" y="207.30" width="3.00" height="8.90" fill="#c6c6c6"/>
<rect x="363.07" y="207.30" width="3.00" height="8.90" fill="#c6c6c6"/>
<rect x="367.14" y="207.30" width="3.00" height="8.90" fill="#c6c6c6"/>
<rect x="371.21" y="207.30" width="3.00" height="8.90" fill="#c6c6c6"/>
<rect x="375.28" y="207.30" width="3.00" height="8.90" fill="#c6c6c6"/>
<rect x="379.36" y="207.30" width="3.00" height="8.90" fill="#c6c6c6"/>
<rect x="383.43" y="207.30" width="3.00" height="8.90" fill="#c6c6c6"/>
<rect x="387.50" y="207.30" width="3.00" height="8.90" fill="#c6c6c6"/>
<rect x="391.57" y="207.30" width="3.00" height="8.90" fill="#c6c6c6"/>
<rect x="395.64" y="207.30" width="3.00" height="8.90" fill="#c6c6c6"/>
<rect x="399.72" y="207.30" width="3.00" height="8.90" fill="#c6c6c6"/>
<rect x="403.79" y="207.30" width="3.00" height="8.90" fill="#c6c6c6"/>
<rect x="407.86" y="207.30" width="3.00" height="8.90" fill="#c6c6c6"/>
<rect x="411.93" y="207.30" width="3.00" height="8.90" fill="#c6c6c6"/>
<rect x="416.00" y="207.30" width="3.00" height="8.90" fill="#c6c6c6"/>
<rect x="420.08" y="207.30" width="3.00" height="8.90" fill="#c6c6c6"/>
<rect x="424.15" y="207.30" width="3.00" height="8.90" fill="#c6c6c6"/>
<rect x="428.22" y="207.30" width="3.00" height="8.90" fill="#c6c6c6"/>
<rect x="432.29" y="207.30" width="3.00" height="8.90" fill="#c6c6c6"/>
<rect x="436.36" y="207.30" width="3.00" height="8.90" fill="#c6c6c6"/>
<rect x="440.44" y="207.30" width="3.00" height="8.90" fill="#c6c6c6"/>
<rect x="444.51" y="207.30" width="3.00" height="8.90" fill="#c6c6c6"/>
<rect x="448.58" y="207.30" width="3.00" height="8.90" fill="#c6c6c6"/>
<rect x="452.65" y="207.30" width="3.00" height="8.90" fill="#c6c6c6"/>
<rect x="456.72" y="207.30" width="3.00" height="8.90" fill="#c6c6c6"/>
<rect x="460.80" y="207.30" width="3.00" height="8.90" fill="#c6c6c6"/>
<rect x="464.87" y="207.30" width="3.00" height="8.90" fill="#c6c6c6"/>
<rect x="468.94" y="207.30" width="3.00" height="8.90" fill="#c6c6c6"/>
<rect x="473.01" y="207.30" width="3.00" height="8.90" fill="#c6c6c6"/>
<rect x="477.08" y="207.30" width="3.00" height="8.90" fill="#c6c6c6"/>
<rect x="481.16" y="207.30" width="3.00" height="8.90" fill="#c6c6c6"/>
<rect x="485.23" y="207.30" width="3.00" height="8.90" fill="#c6c6c6"/>
<rect x="489.30" y="207.30" width="3.00" height="8.90" fill="#c6c6c6"/>
<rect x="493.37" y="207.30" width="3.00" height="8.90" fill="#c6c6c6"/>
<rect x="497.44" y="207.30" width="3.00" height="8.90" fill="#c6c6c6"/>
<rect x="501.52" y="207.30" width="3.00" height="8.90" fill="#c6c6c6"/>
<rect x="505.59" y="207.30" width="3.00" height="8.90" fill="#c6c6c6"/>
<rect x="509.66" y="207.30" width="3.00" height="8.90" fill="#c6c6c6"/>
<rect x="57.00" y="217.20" width="3.00" height="8.90" fill="#c6c6c6"/>
<rect x="61.07" y="217.20" width="3.00" height="8.90" fill="#c6c6c6"/>
<rect x="65.14" y="217.20" width="3.00" height="8.90" fill="#c6c6c6"/>
<rect x="69.22" y="217.20" width="3.00" height="8.90" fill="#c6c6c6"/>
<rect x="73.29" y="217.20" width="3.00" height="8.90" fill="#c6c6c6"/>
<rect x="77.36" y="217.20" width="3.00" height="8.90" fill="#c6c6c6"/>
<rect x="81.43" y="217.20" width="3.00" height="8.90" fill="#c6c6c6"/>
<rect x="85.50" y="217.20" width="3.00" height="8.90" fill="#c6c6c6"/>
<rect x="89.58" y="217.20" width="3.00" height="8.90" fill="#c6c6c6"/>
<rect x="93.65" y="217.20" width="3.00" height="8.90" fill="#c6c6c6"/>
<rect x="97.72" y="217.20" width="3.00" height="8.90" fill="#c6c6c6"/>
<rect x="101.79" y="217.20" width="3.00" height="8.90" fill="#c6c6c6"/>
<rect x="105.86" y="217.20" width="3.00" height="8.90" fill="#c6c6c6"/>
<rect x="109.94" y="217.20" width="3.00" height="8.90" fill="#c6c6c6"/>
<rect x="114.01" y="217.20" width="3.00" height="8.90" fill="#c6c6c6"/>
<rect x="118.08" y="217.20" width="3.00" height="8.90" fill="#c6c6c6"/>
<rect x="122.15" y="217.20" width="3.00" height="8.90" fill="#c6c6c6"/>
<rect x="126.22" y="217.20" width="3.00" height="8.90" fill="#c6c6c6"/>
<rect x="130.30" y="217.20" width="3.00" height="8.90" fill="#c6c6c6"/>
<rect x="134.37" y="217.20" width="3.00" height="8.90" fill="#c6c6c6"/>
<rect x="138.44" y="217.20" width="3.00" height="8.90" fill="#c6c6c6"/>
<rect x="142.51" y="217.20" width="3.00" height="8.90" fill="#c6c6c6"/>
<rect x="146.58" y="217.20" width="3.00" height="8.90" fill="#c6c6c6"/>
<rect x="150.66" y="217.20" width="3.00" height="8.90" fill="#c6c6c6"/>
<rect x="154.73" y="217.20" width="3.00" height="8.90" fill="#c6c6c6"/>
<rect x="158.80" y="217.20" width="3.00" height="8.90" fill="#c6c6c6"/>
<rect x="162.87" y="217.20" width="3.00" height="8.90" fill="#c6c6c6"/>
<rect x="166.94" y="217.20" width="3.00" height="8.90" fill="#c6c6c6"/>
<rect x="171.02" y="217.20" width="3.00" height="8.90" fill="#c6c6c6"/>
<rect x="175.09" y="217.20" width="3.00" height="8.90" fill="#c6c6c6"/>
<rect x="179.16" y="217.20" width="3.00" height="8.90" fill="#c6c6c6"/>
<rect x="183.23" y="217.20" width="3.00" height="8.90" fill="#c6c6c6"/>
<rect x="187.30" y="217.20" width="3.00" height="8.90" fill="#c6c6c6"/>
<rect x="191.38" y="217.20" width="3.00" height="8.90" fill="#c6c6c6"/>
<rect x="195.45" y="217.20" width="3.00" height="8.90" fill="#c6c6c6"/>
<rect x="199.52" y="217.20" width="3.00" height="8.90" fill="#c6c6c6"/>
<rect x="203.59" y="217.20" width="3.00" height="8.90" fill="#c6c6c6"/>
<rect x="207.66" y="217.20" width="3.00" height="8.90" fill="#c6c6c6"/>
<rect x="211.74" y="217.20" width="3.00" height="8.90" fill="#c6c6c6"/>
<rect x="215.81" y="217.20" width="3.00" height="8.90" fill="#c6c6c6"/>
<rect x="219.88" y="217.20" width="3.00" height="8.90" fill="#c6c6c6"/>
<rect x="227.10" y="217.20" width="3.00" height="8.90" fill="#c6c6c6"/>
<rect x="231.17" y="217.20" width="3.00" height="8.90" fill="#d98d1c"/>
<rect x="235.24" y="217.20" width="3.00" height="8.90" fill="#c6c6c6"/>
<rect x="239.32" y="217.20" width="3.00" height="8.90" fill="#c6c6c6"/>
<rect x="243.39" y="217.20" width="3.00" height="8.90" fill="#c6c6c6"/>
<rect x="250.50" y="217.20" width="3.00" height="8.90" fill="#c6c6c6"/>
<rect x="254.57" y="217.20" width="3.00" height="8.90" fill="#c6c6c6"/>
<rect x="258.64" y="217.20" width="3.00" height="8.90" fill="#c6c6c6"/>
<rect x="262.72" y="217.20" width="3.00" height="8.90" fill="#c6c6c6"/>
<rect x="266.79" y="217.20" width="3.00" height="8.90" fill="#c6c6c6"/>
<rect x="270.86" y="217.20" width="3.00" height="8.90" fill="#c6c6c6"/>
<rect x="274.93" y="217.20" width="3.00" height="8.90" fill="#c6c6c6"/>
<rect x="279.00" y="217.20" width="3.00" height="8.90" fill="#c6c6c6"/>
<rect x="285.70" y="217.20" width="3.00" height="8.90" fill="#c6c6c6"/>
<rect x="289.77" y="217.20" width="3.00" height="8.90" fill="#c6c6c6"/>
<rect x="293.84" y="217.20" width="3.00" height="8.90" fill="#c6c6c6"/>
<rect x="297.92" y="217.20" width="3.00" height="8.90" fill="#c6c6c6"/>
<rect x="301.99" y="217.20" width="3.00" height="8.90" fill="#c6c6c6"/>
<rect x="306.06" y="217.20" width="3.00" height="8.90" fill="#c6c6c6"/>
<rect x="310.13" y="217.20" width="3.00" height="8.90" fill="#c6c6c6"/>
<rect x="314.20" y="217.20" width="3.00" height="8.90" fill="#c6c6c6"/>
<rect x="318.28" y="217.20" width="3.00" height="8.90" fill="#c6c6c6"/>
<rect x="322.35" y="217.20" width="3.00" height="8.90" fill="#c6c6c6"/>
<rect x="326.42" y="217.20" width="3.00" height="8.90" fill="#c6c6c6"/>
<rect x="330.49" y="217.20" width="3.00" height="8.90" fill="#c6c6c6"/>
<rect x="334.56" y="217.20" width="3.00" height="8.90" fill="#c6c6c6"/>
<rect x="338.64" y="217.20" width="3.00" height="8.90" fill="#c6c6c6"/>
<rect x="342.71" y="217.20" width="3.00" height="8.90" fill="#c6c6c6"/>
<rect x="346.78" y="217.20" width="3.00" height="8.90" fill="#c6c6c6"/>
<rect x="350.85" y="217.20" width="3.00" height="8.90" fill="#c6c6c6"/>
<rect x="354.92" y="217.20" width="3.00" height="8.90" fill="#c6c6c6"/>
<rect x="359.00" y="217.20" width="3.00" height="8.90" fill="#c6c6c6"/>
<rect x="363.07" y="217.20" width="3.00" height="8.90" fill="#c6c6c6"/>
<rect x="367.14" y="217.20" width="3.00" height="8.90" fill="#c6c6c6"/>
<rect x="371.21" y="217.20" width="3.00" height="8.90" fill="#c6c6c6"/>
<rect x="375.28" y="217.20" width="3.00" height="8.90" fill="#c6c6c6"/>
<rect x="379.36" y="217.20" width="3.00" height="8.90" fill="#c6c6c6"/>
<rect x="383.43" y="217.20" width="3.00" height="8.90" fill="#c6c6c6"/>
<rect x="387.50" y="217.20" width="3.00" height="8.90" fill="#c6c6c6"/>
<rect x="391.57" y="217.20" width="3.00" height="8.90" fill="#c6c6c6"/>
<rect x="395.64" y="217.20" width="3.00" height="8.90" fill="#c6c6c6"/>
<rect x="399.72" y="217.20" width="3.00" height="8.90" fill="#c6c6c6"/>
<rect x="403.79" y="217.20" width="3.00" height="8.90" fill="#c6c6c6"/>
<rect x="407.86" y="217.20" width="3.00" height="8.90" fill="#c6c6c6"/>
<rect x="411.93" y="217.20" width="3.00" height="8.90" fill="#c6c6c6"/>
<rect x="416.00" y="217.20" width="3.00" height="8.90" fill="#c6c6c6"/>
<rect x="420.08" y="217.20" width="3.00" height="8.90" fill="#c6c6c6"/>
<rect x="424.15" y="217.20" width="3.00" height="8.90" fill="#c6c6c6"/>
<rect x="428.22" y="217.20" width="3.00" height="8.90" fill="#c6c6c6"/>
<rect x="432.29" y="217.20" width="3.00" height="8.90" fill="#c6c6c6"/>
<rect x="436.36" y="217.20" width="3.00" height="8.90" fill="#c6c6c6"/>
<rect x="440.44" y="217.20" width="3.00" height="8.90" fill="#c6c6c6"/>
<rect x="444.51" y="217.20" width="3.00" height="8.90" fill="#c6c6c6"/>
<rect x="448.58" y="217.20" width="3.00" height="8.90" fill="#c6c6c6"/>
<rect x="452.65" y="217.20" width="3.00" height="8.90" fill="#c6c6c6"/>
<rect x="456.72" y="217.20" width="3.00" height="8.90" fill="#c6c6c6"/>
<rect x="460.80" y="217.20" width="3.00" height="8.90" fill="#c6c6c6"/>
<rect x="464.87" y="217.20" width="3.00" height="8.90" fill="#c6c6c6"/>
<rect x="468.94" y="217.20" width="3.00" height="8.90" fill="#c6c6c6"/>
<rect x="473.01" y="217.20" width="3.00" height="8.90" fill="#c6c6c6"/>
<rect x="477.08" y="217.20" width="3.00" height="8.90" fill="#c6c6c6"/>
<rect x="481.16" y="217.20" width="3.00" height="8.90" fill="#c6c6c6"/>
<rect x="485.23" y="217.20" width="3.00" height="8.90" fill="#c6c6c6"/>
<rect x="489.30" y="217.20" width="3.00" height="8.90" fill="#c6c6c6"/>
<rect x="493.37" y="217.20" width="3.00" height="8.90" fill="#c6c6c6"/>
<rect x="497.44" y="217.20" width="3.00" height="8.90" fill="#c6c6c6"/>
<rect x="501.52" y="217.20" width="3.00" height="8.90" fill="#c6c6c6"/>
<rect x="505.59" y="217.20" width="3.00" height="8.90" fill="#c6c6c6"/>
<rect x="509.66" y="217.20" width="3.00" height="8.90" fill="#c6c6c6"/>
<rect x="57.00" y="227.10" width="3.00" height="8.90" fill="#c6c6c6"/>
<rect x="61.07" y="227.10" width="3.00" height="8.90" fill="#c6c6c6"/>
<rect x="65.14" y="227.10" width="3.00" height="8.90" fill="#c6c6c6"/>
<rect x="69.22" y="227.10" width="3.00" height="8.90" fill="#c6c6c6"/>
<rect x="73.29" y="227.10" width="3.00" height="8.90" fill="#c6c6c6"/>
<rect x="77.36" y="227.10" width="3.00" height="8.90" fill="#c6c6c6"/>
<rect x="81.43" y="227.10" width="3.00" height="8.90" fill="#c6c6c6"/>
<rect x="85.50" y="227.10" width="3.00" height="8.90" fill="#c6c6c6"/>
<rect x="89.58" y="227.10" width="3.00" height="8.90" fill="#c6c6c6"/>
<rect x="93.65" y="227.10" width="3.00" height="8.90" fill="#c6c6c6"/>
<rect x="97.72" y="227.10" width="3.00" height="8.90" fill="#c6c6c6"/>
<rect x="101.79" y="227.10" width="3.00" height="8.90" fill="#c6c6c6"/>
<rect x="105.86" y="227.10" width="3.00" height="8.90" fill="#c6c6c6"/>
<rect x="109.94" y="227.10" width="3.00" height="8.90" fill="#c6c6c6"/>
<rect x="114.01" y="227.10" width="3.00" height="8.90" fill="#c6c6c6"/>
<rect x="118.08" y="227.10" width="3.00" height="8.90" fill="#c6c6c6"/>
<rect x="122.15" y="227.10" width="3.00" height="8.90" fill="#c6c6c6"/>
<rect x="126.22" y="227.10" width="3.00" height="8.90" fill="#c6c6c6"/>
<rect x="130.30" y="227.10" width="3.00" height="8.90" fill="#c6c6c6"/>
<rect x="134.37" y="227.10" width="3.00" height="8.90" fill="#c6c6c6"/>
<rect x="138.44" y="227.10" width="3.00" height="8.90" fill="#c6c6c6"/>
<rect x="142.51" y="227.10" width="3.00" height="8.90" fill="#c6c6c6"/>
<rect x="146.58" y="227.10" width="3.00" height="8.90" fill="#c6c6c6"/>
<rect x="150.66" y="227.10" width="3.00" height="8.90" fill="#c6c6c6"/>
<rect x="154.73" y="227.10" width="3.00" height="8.90" fill="#c6c6c6"/>
<rect x="158.80" y="227.10" width="3.00" height="8.90" fill="#c6c6c6"/>
<rect x="162.87" y="227.10" width="3.00" height="8.90" fill="#c6c6c6"/>
<rect x="166.94" y="227.10" width="3.00" height="8.90" fill="#c6c6c6"/>
<rect x="171.02" y="227.10" width="3.00" height="8.90" fill="#c6c6c6"/>
<rect x="175.09" y="227.10" width="3.00" height="8.90" fill="#c6c6c6"/>
<rect x="179.16" y="227.10" width="3.00" height="8.90" fill="#c6c6c6"/>
<rect x="183.23" y="227.10" width="3.00" height="8.90" fill="#c6c6c6"/>
<rect x="187.30" y="227.10" width="3.00" height="8.90" fill="#c6c6c6"/>
<rect x="191.38" y="227.10" width="3.00" height="8.90" fill="#c6c6c6"/>
<rect x="195.45" y="227.10" width="3.00" height="8.90" fill="#c6c6c6"/>
<rect x="199.52" y="227.10" width="3.00" height="8.90" fill="#c6c6c6"/>
<rect x="203.59" y="227.10" width="3.00" height="8.90" fill="#c6c6c6"/>
<rect x="207.66" y="227.10" width="3.00" height="8.90" fill="#c6c6c6"/>
<rect x="211.74" y="227.10" width="3.00" height="8.90" fill="#c6c6c6"/>
<rect x="215.81" y="227.10" width="3.00" height="8.90" fill="#c6c6c6"/>
<rect x="219.88" y="227.10" width="3.00" height="8.90" fill="#c6c6c6"/>
<rect x="227.10" y="227.10" width="3.00" height="8.90" fill="#c6c6c6"/>
<rect x="231.17" y="227.10" width="3.00" height="8.90" fill="#c6c6c6"/>
<rect x="235.24" y="227.10" width="3.00" height="8.90" fill="#d98d1c"/>
<rect x="239.32" y="227.10" width="3.00" height="8.90" fill="#c6c6c6"/>
<rect x="243.39" y="227.10" width="3.00" height="8.90" fill="#d98d1c"/>
<rect x="250.50" y="227.10" width="3.00" height="8.90" fill="#c6c6c6"/>
<rect x="254.57" y="227.10" width="3.00" height="8.90" fill="#c6c6c6"/>
<rect x="258.64" y="227.10" width="3.00" height="8.90" fill="#c6c6c6"/>
<rect x="262.72" y="227.10" width="3.00" height="8.90" fill="#c6c6c6"/>
<rect x="266.79" y="227.10" width="3.00" height="8.90" fill="#c6c6c6"/>
<rect x="270.86" y="227.10" width="3.00" height="8.90" fill="#c6c6c6"/>
<rect x="274.93" y="227.10" width="3.00" height="8.90" fill="#c6c6c6"/>
<rect x="279.00" y="227.10" width="3.00" height="8.90" fill="#c6c6c6"/>
<rect x="285.70" y="227.10" width="3.00" height="8.90" fill="#c6c6c6"/>
<rect x="289.77" y="227.10" width="3.00" height="8.90" fill="#c6c6c6"/>
<rect x="293.84" y="227.10" width="3.00" height="8.90" fill="#c6c6c6"/>
<rect x="297.92" y="227.10" width="3.00" height="8.90" fill="#c6c6c6"/>
<rect x="301.99" y="227.10" width="3.00" height="8.90" fill="#c6c6c6"/>
<rect x="306.06" y="227.10" width="3.00" height="8.90" fill="#c6c6c6"/>
<rect x="310.13" y="227.10" width="3.00" height="8.90" fill="#c6c6c6"/>
<rect x="314.20" y="227.10" width="3.00" height="8.90" fill="#c6c6c6"/>
<rect x="318.28" y="227.10" width="3.00" height="8.90" fill="#c6c6c6"/>
<rect x="322.35" y="227.10" width="3.00" height="8.90" fill="#c6c6c6"/>
<rect x="326.42" y="227.10" width="3.00" height="8.90" fill="#c6c6c6"/>
<rect x="330.49" y="227.10" width="3.00" height="8.90" fill="#c6c6c6"/>
<rect x="334.56" y="227.10" width="3.00" height="8.90" fill="#c6c6c6"/>
<rect x="338.64" y="227.10" width="3.00" height="8.90" fill="#c6c6c6"/>
<rect x="342.71" y="227.10" width="3.00" height="8.90" fill="#c6c6c6"/>
<rect x="346.78" y="227.10" width="3.00" height="8.90" fill="#c6c6c6"/>
<rect x="350.85" y="227.10" width="3.00" height="8.90" fill="#c6c6c6"/>
<rect x="354.92" y="227.10" width="3.00" height="8.90" fill="#c6c6c6"/>
<rect x="359.00" y="227.10" width="3.00" height="8.90" fill="#c6c6c6"/>
<rect x="363.07" y="227.10" width="3.00" height="8.90" fill="#c6c6c6"/>
<rect x="367.14" y="227.10" width="3.00" height="8.90" fill="#c6c6c6"/>
<rect x="371.21" y="227.10" width="3.00" height="8.90" fill="#c6c6c6"/>
<rect x="375.28" y="227.10" width="3.00" height="8.90" fill="#c6c6c6"/>
<rect x="379.36" y="227.10" width="3.00" height="8.90" fill="#c6c6c6"/>
<rect x="383.43" y="227.10" width="3.00" height="8.90" fill="#c6c6c6"/>
<rect x="387.50" y="227.10" width="3.00" height="8.90" fill="#c6c6c6"/>
<rect x="391.57" y="227.10" width="3.00" height="8.90" fill="#c6c6c6"/>
<rect x="395.64" y="227.10" width="3.00" height="8.90" fill="#c6c6c6"/>
<rect x="399.72" y="227.10" width="3.00" height="8.90" fill="#c6c6c6"/>
<rect x="403.79" y="227.10" width="3.00" height="8.90" fill="#c6c6c6"/>
<rect x="407.86" y="227.10" width="3.00" height="8.90" fill="#c6c6c6"/>
<rect x="411.93" y="227.10" width="3.00" height="8.90" fill="#c6c6c6"/>
<rect x="416.00" y="227.10" width="3.00" height="8.90" fill="#c6c6c6"/>
<rect x="420.08" y="227.10" width="3.00" height="8.90" fill="#c6c6c6"/>
<rect x="424.15" y="227.10" width="3.00" height="8.90" fill="#c6c6c6"/>
<rect x="428.22" y="227.10" width="3.00" height="8.90" fill="#c6c6c6"/>
<rect x="432.29" y="227.10" width="3.00" height="8.90" fill="#c6c6c6"/>
<rect x="436.36" y="227.10" width="3.00" height="8.90" fill="#c6c6c6"/>
<rect x="440.44" y="227.10" width="3.00" height="8.90" fill="#c6c6c6"/>
<rect x="444.51" y="227.10" width="3.00" height="8.90" fill="#c6c6c6"/>
<rect x="448.58" y="227.10" width="3.00" height="8.90" fill="#c6c6c6"/>
<rect x="452.65" y="227.10" width="3.00" height="8.90" fill="#c6c6c6"/>
<rect x="456.72" y="227.10" width="3.00" height="8.90" fill="#c6c6c6"/>
<rect x="460.80" y="227.10" width="3.00" height="8.90" fill="#c6c6c6"/>
<rect x="464.87" y="227.10" width="3.00" height="8.90" fill="#c6c6c6"/>
<rect x="468.94" y="227.10" width="3.00" height="8.90" fill="#c6c6c6"/>
<rect x="473.01" y="227.10" width="3.00" height="8.90" fill="#c6c6c6"/>
<rect x="477.08" y="227.10" width="3.00" height="8.90" fill="#c6c6c6"/>
<rect x="481.16" y="227.10" width="3.00" height="8.90" fill="#c6c6c6"/>
<rect x="485.23" y="227.10" width="3.00" height="8.90" fill="#c6c6c6"/>
<rect x="489.30" y="227.10" width="3.00" height="8.90" fill="#c6c6c6"/>
<rect x="493.37" y="227.10" width="3.00" height="8.90" fill="#c6c6c6"/>
<rect x="497.44" y="227.10" width="3.00" height="8.90" fill="#c6c6c6"/>
<rect x="501.52" y="227.10" width="3.00" height="8.90" fill="#c6c6c6"/>
<rect x="505.59" y="227.10" width="3.00" height="8.90" fill="#c6c6c6"/>
<rect x="509.66" y="227.10" width="3.00" height="8.90" fill="#c6c6c6"/>
<rect x="57.00" y="237.00" width="3.00" height="9.40" fill="#c6c6c6"/>
<rect x="61.07" y="237.00" width="3.00" height="9.40" fill="#c6c6c6"/>
<rect x="65.14" y="237.00" width="3.00" height="9.40" fill="#c6c6c6"/>
<rect x="69.22" y="237.00" width="3.00" height="9.40" fill="#c6c6c6"/>
<rect x="73.29" y="237.00" width="3.00" height="9.40" fill="#c6c6c6"/>
<rect x="77.36" y="237.00" width="3.00" height="9.40" fill="#c6c6c6"/>
<rect x="81.43" y="237.00" width="3.00" height="9.40" fill="#c6c6c6"/>
<rect x="85.50" y="237.00" width="3.00" height="9.40" fill="#c6c6c6"/>
<rect x="89.58" y="237.00" width="3.00" height="9.40" fill="#c6c6c6"/>
<rect x="93.65" y="237.00" width="3.00" height="9.40" fill="#c6c6c6"/>
<rect x="97.72" y="237.00" width="3.00" height="9.40" fill="#c6c6c6"/>
<rect x="101.79" y="237.00" width="3.00" height="9.40" fill="#c6c6c6"/>
<rect x="105.86" y="237.00" width="3.00" height="9.40" fill="#c6c6c6"/>
<rect x="109.94" y="237.00" width="3.00" height="9.40" fill="#c6c6c6"/>
<rect x="114.01" y="237.00" width="3.00" height="9.40" fill="#c6c6c6"/>
<rect x="118.08" y="237.00" width="3.00" height="9.40" fill="#c6c6c6"/>
<rect x="122.15" y="237.00" width="3.00" height="9.40" fill="#c6c6c6"/>
<rect x="126.22" y="237.00" width="3.00" height="9.40" fill="#c6c6c6"/>
<rect x="130.30" y="237.00" width="3.00" height="9.40" fill="#c6c6c6"/>
<rect x="134.37" y="237.00" width="3.00" height="9.40" fill="#c6c6c6"/>
<rect x="138.44" y="237.00" width="3.00" height="9.40" fill="#c6c6c6"/>
<rect x="142.51" y="237.00" width="3.00" height="9.40" fill="#c6c6c6"/>
<rect x="146.58" y="237.00" width="3.00" height="9.40" fill="#c6c6c6"/>
<rect x="150.66" y="237.00" width="3.00" height="9.40" fill="#c6c6c6"/>
<rect x="154.73" y="237.00" width="3.00" height="9.40" fill="#c6c6c6"/>
<rect x="158.80" y="237.00" width="3.00" height="9.40" fill="#c6c6c6"/>
<rect x="162.87" y="237.00" width="3.00" height="9.40" fill="#c6c6c6"/>
<rect x="166.94" y="237.00" width="3.00" height="9.40" fill="#c6c6c6"/>
<rect x="171.02" y="237.00" width="3.00" height="9.40" fill="#c6c6c6"/>
<rect x="175.09" y="237.00" width="3.00" height="9.40" fill="#c6c6c6"/>
<rect x="179.16" y="237.00" width="3.00" height="9.40" fill="#c6c6c6"/>
<rect x="183.23" y="237.00" width="3.00" height="9.40" fill="#c6c6c6"/>
<rect x="187.30" y="237.00" width="3.00" height="9.40" fill="#c6c6c6"/>
<rect x="191.38" y="237.00" width="3.00" height="9.40" fill="#c6c6c6"/>
<rect x="195.45" y="237.00" width="3.00" height="9.40" fill="#c6c6c6"/>
<rect x="199.52" y="237.00" width="3.00" height="9.40" fill="#c6c6c6"/>
<rect x="203.59" y="237.00" width="3.00" height="9.40" fill="#c6c6c6"/>
<rect x="207.66" y="237.00" width="3.00" height="9.40" fill="#c6c6c6"/>
<rect x="211.74" y="237.00" width="3.00" height="9.40" fill="#c6c6c6"/>
<rect x="215.81" y="237.00" width="3.00" height="9.40" fill="#c6c6c6"/>
<rect x="219.88" y="237.00" width="3.00" height="9.40" fill="#c6c6c6"/>
<rect x="227.10" y="237.00" width="3.00" height="9.40" fill="#c6c6c6"/>
<rect x="231.17" y="237.00" width="3.00" height="9.40" fill="#c6c6c6"/>
<rect x="235.24" y="237.00" width="3.00" height="9.40" fill="#c6c6c6"/>
<rect x="239.32" y="237.00" width="3.00" height="9.40" fill="#d98d1c"/>
<rect x="243.39" y="237.00" width="3.00" height="9.40" fill="#c6c6c6"/>
<rect x="250.50" y="237.00" width="3.00" height="9.40" fill="#c6c6c6"/>
<rect x="254.57" y="237.00" width="3.00" height="9.40" fill="#c6c6c6"/>
<rect x="258.64" y="237.00" width="3.00" height="9.40" fill="#c6c6c6"/>
<rect x="262.72" y="237.00" width="3.00" height="9.40" fill="#c6c6c6"/>
<rect x="266.79" y="237.00" width="3.00" height="9.40" fill="#c6c6c6"/>
<rect x="270.86" y="237.00" width="3.00" height="9.40" fill="#c6c6c6"/>
<rect x="274.93" y="237.00" width="3.00" height="9.40" fill="#c6c6c6"/>
<rect x="279.00" y="237.00" width="3.00" height="9.40" fill="#c6c6c6"/>
<rect x="285.70" y="237.00" width="3.00" height="9.40" fill="#c6c6c6"/>
<rect x="289.77" y="237.00" width="3.00" height="9.40" fill="#c6c6c6"/>
<rect x="293.84" y="237.00" width="3.00" height="9.40" fill="#c6c6c6"/>
<rect x="297.92" y="237.00" width="3.00" height="9.40" fill="#c6c6c6"/>
<rect x="301.99" y="237.00" width="3.00" height="9.40" fill="#c6c6c6"/>
<rect x="306.06" y="237.00" width="3.00" height="9.40" fill="#c6c6c6"/>
<rect x="310.13" y="237.00" width="3.00" height="9.40" fill="#c6c6c6"/>
<rect x="314.20" y="237.00" width="3.00" height="9.40" fill="#c6c6c6"/>
<rect x="318.28" y="237.00" width="3.00" height="9.40" fill="#c6c6c6"/>
<rect x="322.35" y="237.00" width="3.00" height="9.40" fill="#c6c6c6"/>
<rect x="326.42" y="237.00" width="3.00" height="9.40" fill="#c6c6c6"/>
<rect x="330.49" y="237.00" width="3.00" height="9.40" fill="#c6c6c6"/>
<rect x="334.56" y="237.00" width="3.00" height="9.40" fill="#c6c6c6"/>
<rect x="338.64" y="237.00" width="3.00" height="9.40" fill="#c6c6c6"/>
<rect x="342.71" y="237.00" width="3.00" height="9.40" fill="#c6c6c6"/>
<rect x="346.78" y="237.00" width="3.00" height="9.40" fill="#c6c6c6"/>
<rect x="350.85" y="237.00" width="3.00" height="9.40" fill="#c6c6c6"/>
<rect x="354.92" y="237.00" width="3.00" height="9.40" fill="#c6c6c6"/>
<rect x="359.00" y="237.00" width="3.00" height="9.40" fill="#c6c6c6"/>
<rect x="363.07" y="237.00" width="3.00" height="9.40" fill="#c6c6c6"/>
<rect x="367.14" y="237.00" width="3.00" height="9.40" fill="#c6c6c6"/>
<rect x="371.21" y="237.00" width="3.00" height="9.40" fill="#c6c6c6"/>
<rect x="375.28" y="237.00" width="3.00" height="9.40" fill="#c6c6c6"/>
<rect x="379.36" y="237.00" width="3.00" height="9.40" fill="#c6c6c6"/>
<rect x="383.43" y="237.00" width="3.00" height="9.40" fill="#c6c6c6"/>
<rect x="387.50" y="237.00" width="3.00" height="9.40" fill="#c6c6c6"/>
<rect x="391.57" y="237.00" width="3.00" height="9.40" fill="#c6c6c6"/>
<rect x="395.64" y="237.00" width="3.00" height="9.40" fill="#c6c6c6"/>
<rect x="399.72" y="237.00" width="3.00" height="9.40" fill="#c6c6c6"/>
<rect x="403.79" y="237.00" width="3.00" height="9.40" fill="#c6c6c6"/>
<rect x="407.86" y="237.00" width="3.00" height="9.40" fill="#c6c6c6"/>
<rect x="411.93" y="237.00" width="3.00" height="9.40" fill="#c6c6c6"/>
<rect x="416.00" y="237.00" width="3.00" height="9.40" fill="#c6c6c6"/>
<rect x="420.08" y="237.00" width="3.00" height="9.40" fill="#c6c6c6"/>
<rect x="424.15" y="237.00" width="3.00" height="9.40" fill="#c6c6c6"/>
<rect x="428.22" y="237.00" width="3.00" height="9.40" fill="#c6c6c6"/>
<rect x="432.29" y="237.00" width="3.00" height="9.40" fill="#c6c6c6"/>
<rect x="436.36" y="237.00" width="3.00" height="9.40" fill="#c6c6c6"/>
<rect x="440.44" y="237.00" width="3.00" height="9.40" fill="#c6c6c6"/>
<rect x="444.51" y="237.00" width="3.00" height="9.40" fill="#c6c6c6"/>
<rect x="448.58" y="237.00" width="3.00" height="9.40" fill="#c6c6c6"/>
<rect x="452.65" y="237.00" width="3.00" height="9.40" fill="#c6c6c6"/>
<rect x="456.72" y="237.00" width="3.00" height="9.40" fill="#c6c6c6"/>
<rect x="460.80" y="237.00" width="3.00" height="9.40" fill="#c6c6c6"/>
<rect x="464.87" y="237.00" width="3.00" height="9.40" fill="#c6c6c6"/>
<rect x="468.94" y="237.00" width="3.00" height="9.40" fill="#c6c6c6"/>
<rect x="473.01" y="237.00" width="3.00" height="9.40" fill="#c6c6c6"/>
<rect x="477.08" y="237.00" width="3.00" height="9.40" fill="#c6c6c6"/>
<rect x="481.16" y="237.00" width="3.00" height="9.40" fill="#c6c6c6"/>
<rect x="485.23" y="237.00" width="3.00" height="9.40" fill="#c6c6c6"/>
<rect x="489.30" y="237.00" width="3.00" height="9.40" fill="#c6c6c6"/>
<rect x="493.37" y="237.00" width="3.00" height="9.40" fill="#c6c6c6"/>
<rect x="497.44" y="237.00" width="3.00" height="9.40" fill="#c6c6c6"/>
<rect x="501.52" y="237.00" width="3.00" height="9.40" fill="#c6c6c6"/>
<rect x="505.59" y="237.00" width="3.00" height="9.40" fill="#c6c6c6"/>
<rect x="509.66" y="237.00" width="3.00" height="9.40" fill="#c6c6c6"/>
<g fill="none" stroke="#000" stroke-width="1.6">
<rect x="56.6" y="58.7" width="456.75" height="40.00"/>
<rect x="56.6" y="103.4" width="456.75" height="143.60"/>
<line x1="56.6" y1="186.5" x2="513.35" y2="186.5"/>
<line x1="225.3" y1="58.7" x2="225.3" y2="247.0"/>
<line x1="248.6" y1="58.7" x2="248.6" y2="247.0"/>
<line x1="283.8" y1="58.7" x2="283.8" y2="247.0"/>
</g>
<g stroke="#222" stroke-width="1.2">
<line x1="53.1" y1="64.20" x2="56.6" y2="64.20"/>
<line x1="53.1" y1="74.00" x2="56.6" y2="74.00"/>
<line x1="53.1" y1="83.80" x2="56.6" y2="83.80"/>
<line x1="53.1" y1="93.60" x2="56.6" y2="93.60"/>
<line x1="53.1" y1="109.00" x2="56.6" y2="109.00"/>
<line x1="53.1" y1="119.00" x2="56.6" y2="119.00"/>
<line x1="53.1" y1="129.00" x2="56.6" y2="129.00"/>
<line x1="53.1" y1="139.00" x2="56.6" y2="139.00"/>
<line x1="53.1" y1="149.00" x2="56.6" y2="149.00"/>
<line x1="53.1" y1="159.00" x2="56.6" y2="159.00"/>
<line x1="53.1" y1="169.00" x2="56.6" y2="169.00"/>
<line x1="53.1" y1="179.00" x2="56.6" y2="179.00"/>
<line x1="53.1" y1="192.45" x2="56.6" y2="192.45"/>
<line x1="53.1" y1="202.35" x2="56.6" y2="202.35"/>
<line x1="53.1" y1="212.25" x2="56.6" y2="212.25"/>
<line x1="53.1" y1="222.15" x2="56.6" y2="222.15"/>
<line x1="53.1" y1="232.05" x2="56.6" y2="232.05"/>
<line x1="53.1" y1="241.95" x2="56.6" y2="241.95"/>
</g>
<g stroke="#111" stroke-width="1.4">
<line x1="58.50" y1="247.5" x2="58.50" y2="250.4"/>
<line x1="62.57" y1="247.5" x2="62.57" y2="250.4"/>
<line x1="66.64" y1="247.5" x2="66.64" y2="250.4"/>
<line x1="70.72" y1="247.5" x2="70.72" y2="250.4"/>
<line x1="74.79" y1="247.5" x2="74.79" y2="250.4"/>
<line x1="78.86" y1="247.5" x2="78.86" y2="250.4"/>
<line x1="82.93" y1="247.5" x2="82.93" y2="250.4"/>
<line x1="87.00" y1="247.5" x2="87.00" y2="250.4"/>
<line x1="91.08" y1="247.5" x2="91.08" y2="250.4"/>
<line x1="95.15" y1="247.5" x2="95.15" y2="250.4"/>
<line x1="99.22" y1="247.5" x2="99.22" y2="250.4"/>
<line x1="103.29" y1="247.5" x2="103.29" y2="250.4"/>
<line x1="107.36" y1="247.5" x2="107.36" y2="250.4"/>
<line x1="111.44" y1="247.5" x2="111.44" y2="250.4"/>
<line x1="115.51" y1="247.5" x2="115.51" y2="250.4"/>
<line x1="119.58" y1="247.5" x2="119.58" y2="250.4"/>
<line x1="123.65" y1="247.5" x2="123.65" y2="250.4"/>
<line x1="127.72" y1="247.5" x2="127.72" y2="250.4"/>
<line x1="131.80" y1="247.5" x2="131.80" y2="250.4"/>
<line x1="135.87" y1="247.5" x2="135.87" y2="250.4"/>
<line x1="139.94" y1="247.5" x2="139.94" y2="250.4"/>
<line x1="144.01" y1="247.5" x2="144.01" y2="250.4"/>
<line x1="148.08" y1="247.5" x2="148.08" y2="250.4"/>
<line x1="152.16" y1="247.5" x2="152.16" y2="250.4"/>
<line x1="156.23" y1="247.5" x2="156.23" y2="250.4"/>
<line x1="160.30" y1="247.5" x2="160.30" y2="250.4"/>
<line x1="164.37" y1="247.5" x2="164.37" y2="250.4"/>
<line x1="168.44" y1="247.5" x2="168.44" y2="250.4"/>
<line x1="172.52" y1="247.5" x2="172.52" y2="250.4"/>
<line x1="176.59" y1="247.5" x2="176.59" y2="250.4"/>
<line x1="180.66" y1="247.5" x2="180.66" y2="250.4"/>
<line x1="184.73" y1="247.5" x2="184.73" y2="250.4"/>
<line x1="188.80" y1="247.5" x2="188.80" y2="250.4"/>
<line x1="192.88" y1="247.5" x2="192.88" y2="250.4"/>
<line x1="196.95" y1="247.5" x2="196.95" y2="250.4"/>
<line x1="201.02" y1="247.5" x2="201.02" y2="250.4"/>
<line x1="205.09" y1="247.5" x2="205.09" y2="250.4"/>
<line x1="209.16" y1="247.5" x2="209.16" y2="250.4"/>
<line x1="213.24" y1="247.5" x2="213.24" y2="250.4"/>
<line x1="217.31" y1="247.5" x2="217.31" y2="250.4"/>
<line x1="221.38" y1="247.5" x2="221.38" y2="250.4"/>
<line x1="228.60" y1="247.5" x2="228.60" y2="250.4"/>
<line x1="232.67" y1="247.5" x2="232.67" y2="250.4"/>
<line x1="236.74" y1="247.5" x2="236.74" y2="250.4"/>
<line x1="240.82" y1="247.5" x2="240.82" y2="250.4"/>
<line x1="244.89" y1="247.5" x2="244.89" y2="250.4"/>
<line x1="252.00" y1="247.5" x2="252.00" y2="250.4"/>
<line x1="256.07" y1="247.5" x2="256.07" y2="250.4"/>
<line x1="260.14" y1="247.5" x2="260.14" y2="250.4"/>
<line x1="264.22" y1="247.5" x2="264.22" y2="250.4"/>
<line x1="268.29" y1="247.5" x2="268.29" y2="250.4"/>
<line x1="272.36" y1="247.5" x2="272.36" y2="250.4"/>
<line x1="276.43" y1="247.5" x2="276.43" y2="250.4"/>
<line x1="280.50" y1="247.5" x2="280.50" y2="250.4"/>
<line x1="287.20" y1="247.5" x2="287.20" y2="250.4"/>
<line x1="291.27" y1="247.5" x2="291.27" y2="250.4"/>
<line x1="295.34" y1="247.5" x2="295.34" y2="250.4"/>
<line x1="299.42" y1="247.5" x2="299.42" y2="250.4"/>
<line x1="303.49" y1="247.5" x2="303.49" y2="250.4"/>
<line x1="307.56" y1="247.5" x2="307.56" y2="250.4"/>
<line x1="311.63" y1="247.5" x2="311.63" y2="250.4"/>
<line x1="315.70" y1="247.5" x2="315.70" y2="250.4"/>
<line x1="319.78" y1="247.5" x2="319.78" y2="250.4"/>
<line x1="323.85" y1="247.5" x2="323.85" y2="250.4"/>
<line x1="327.92" y1="247.5" x2="327.92" y2="250.4"/>
<line x1="331.99" y1="247.5" x2="331.99" y2="250.4"/>
<line x1="336.06" y1="247.5" x2="336.06" y2="250.4"/>
<line x1="340.14" y1="247.5" x2="340.14" y2="250.4"/>
<line x1="344.21" y1="247.5" x2="344.21" y2="250.4"/>
<line x1="348.28" y1="247.5" x2="348.28" y2="250.4"/>
<line x1="352.35" y1="247.5" x2="352.35" y2="250.4"/>
<line x1="356.42" y1="247.5" x2="356.42" y2="250.4"/>
<line x1="360.50" y1="247.5" x2="360.50" y2="250.4"/>
<line x1="364.57" y1="247.5" x2="364.57" y2="250.4"/>
<line x1="368.64" y1="247.5" x2="368.64" y2="250.4"/>
<line x1="372.71" y1="247.5" x2="372.71" y2="250.4"/>
<line x1="376.78" y1="247.5" x2="376.78" y2="250.4"/>
<line x1="380.86" y1="247.5" x2="380.86" y2="250.4"/>
<line x1="384.93" y1="247.5" x2="384.93" y2="250.4"/>
<line x1="389.00" y1="247.5" x2="389.00" y2="250.4"/>
<line x1="393.07" y1="247.5" x2="393.07" y2="250.4"/>
<line x1="397.14" y1="247.5" x2="397.14" y2="250.4"/>
<line x1="401.22" y1="247.5" x2="401.22" y2="250.4"/>
<line x1="405.29" y1="247.5" x2="405.29" y2="250.4"/>
<line x1="409.36" y1="247.5" x2="409.36" y2="250.4"/>
<line x1="413.43" y1="247.5" x2="413.43" y2="250.4"/>
<line x1="417.50" y1="247.5" x2="417.50" y2="250.4"/>
<line x1="421.58" y1="247.5" x2="421.58" y2="250.4"/>
<line x1="425.65" y1="247.5" x2="425.65" y2="250.4"/>
<line x1="429.72" y1="247.5" x2="429.72" y2="250.4"/>
<line x1="433.79" y1="247.5" x2="433.79" y2="250.4"/>
<line x1="437.86" y1="247.5" x2="437.86" y2="250.4"/>
<line x1="441.94" y1="247.5" x2="441.94" y2="250.4"/>
<line x1="446.01" y1="247.5" x2="446.01" y2="250.4"/>
<line x1="450.08" y1="247.5" x2="450.08" y2="250.4"/>
<line x1="454.15" y1="247.5" x2="454.15" y2="250.4"/>
<line x1="458.22" y1="247.5" x2="458.22" y2="250.4"/>
<line x1="462.30" y1="247.5" x2="462.30" y2="250.4"/>
<line x1="466.37" y1="247.5" x2="466.37" y2="250.4"/>
<line x1="470.44" y1="247.5" x2="470.44" y2="250.4"/>
<line x1="474.51" y1="247.5" x2="474.51" y2="250.4"/>
<line x1="478.58" y1="247.5" x2="478.58" y2="250.4"/>
<line x1="482.66" y1="247.5" x2="482.66" y2="250.4"/>
<line x1="486.73" y1="247.5" x2="486.73" y2="250.4"/>
<line x1="490.80" y1="247.5" x2="490.80" y2="250.4"/>
<line x1="494.87" y1="247.5" x2="494.87" y2="250.4"/>
<line x1="498.94" y1="247.5" x2="498.94" y2="250.4"/>
<line x1="503.02" y1="247.5" x2="503.02" y2="250.4"/>
<line x1="507.09" y1="247.5" x2="507.09" y2="250.4"/>
<line x1="511.16" y1="247.5" x2="511.16" y2="250.4"/>
</g>
<rect x="116.50" y="296.60" width="3.00" height="8.40" fill="#5fa53b"/>
<rect x="116.50" y="309.60" width="3.00" height="8.40" fill="#d98d1c"/>
<rect x="116.50" y="322.40" width="3.00" height="8.40" fill="#6ba3d8"/>
<rect x="190.80" y="296.60" width="3.00" height="8.40" fill="#4d3214"/>
<rect x="227.60" y="296.60" width="3.00" height="8.40" fill="#111111"/>
<rect x="227.60" y="309.60" width="3.00" height="8.40" fill="#4a4a4a"/>
<rect x="227.60" y="322.40" width="3.00" height="8.40" fill="#bcbcbc"/>
<rect x="280.80" y="296.60" width="3.00" height="8.40" fill="#ad1239"/>
<rect x="280.80" y="309.60" width="3.00" height="8.40" fill="#274984"/>
<rect x="327.80" y="296.60" width="3.00" height="8.40" fill="#e9bfb8"/>
<rect x="327.80" y="309.60" width="3.00" height="8.40" fill="#c98a85"/>
<rect x="327.80" y="322.40" width="3.00" height="8.40" fill="#a50b2e"/>
<rect x="405.60" y="296.60" width="3.00" height="8.40" fill="#111111"/>
<rect x="405.60" y="309.60" width="3.00" height="8.40" fill="#4a4a4a"/>
<rect x="405.60" y="322.40" width="3.00" height="8.40" fill="#bcbcbc"/>
<rect x="0" y="0" width="1.3" height="339" fill="#000"/>
<rect x="0" y="0" width="520" height="1.2" fill="#000"/>
<rect x="517.8" y="0" width="1.35" height="339" fill="#000"/>
<rect x="0" y="337.6" width="520" height="1.4" fill="#000"/></g><g filter="url(#bt)"><g font-family="Liberation Sans, sans-serif" font-size="8.4" fill="#141414">
<text x="19.40" y="66.90" textLength="31.60" lengthAdjust="spacingAndGlyphs">Platform</text>
<text x="37.80" y="76.70" textLength="13.20" lengthAdjust="spacingAndGlyphs">Sex</text>
<text x="26.10" y="86.50" textLength="24.90" lengthAdjust="spacingAndGlyphs">Ph-like</text>
<text x="9.20" y="96.30" textLength="41.80" lengthAdjust="spacingAndGlyphs">CRLF2 ΔCT</text>
<text x="9.90" y="112.00" textLength="41.10" lengthAdjust="spacingAndGlyphs">CRLF2 (41)</text>
<text x="18.80" y="122.00" textLength="32.20" lengthAdjust="spacingAndGlyphs">ABL1 (1)</text>
<text x="6.40" y="132.00" textLength="44.60" lengthAdjust="spacingAndGlyphs">PDGFRB (1)</text>
<text x="14.40" y="142.00" textLength="36.60" lengthAdjust="spacingAndGlyphs">JAK2 (16)</text>
<text x="12.80" y="152.00" textLength="38.20" lengthAdjust="spacingAndGlyphs">NTRK3 (1)</text>
<text x="23.40" y="162.00" textLength="27.60" lengthAdjust="spacingAndGlyphs">IL7R (2)</text>
<text x="18.40" y="172.00" textLength="32.60" lengthAdjust="spacingAndGlyphs">KRAS (4)</text>
<text x="17.00" y="182.00" textLength="34.00" lengthAdjust="spacingAndGlyphs">NRAS (2)</text>
<text x="23.80" y="195.45" textLength="27.20" lengthAdjust="spacingAndGlyphs">IGH (5)</text>
<text x="10.40" y="205.35" textLength="40.60" lengthAdjust="spacingAndGlyphs">P2RY8 (36)</text>
<text x="14.80" y="215.25" textLength="36.20" lengthAdjust="spacingAndGlyphs">ZMIZ1 (1)</text>
<text x="19.60" y="225.15" textLength="31.40" lengthAdjust="spacingAndGlyphs">EBF1 (1)</text>
<text x="19.40" y="235.05" textLength="31.60" lengthAdjust="spacingAndGlyphs">ETV6 (2)</text>
<text x="18.40" y="244.95" textLength="32.60" lengthAdjust="spacingAndGlyphs">PAX5 (1)</text>
</g>
<g font-family="Liberation Sans, sans-serif" font-size="4.3" fill="#262626" text-anchor="end">
<text transform="translate(59.90,251.9) rotate(-90)" textLength="14.1" lengthAdjust="spacingAndGlyphs">PAKEMW</text>
<text transform="translate(63.97,251.9) rotate(-90)" textLength="14.1" lengthAdjust="spacingAndGlyphs">PATDLU</text>
<text transform="translate(68.04,251.9) rotate(-90)" textLength="15.1" lengthAdjust="spacingAndGlyphs">PASGBC</text>
<text transform="translate(72.12,251.9) rotate(-90)" textLength="15.1" lengthAdjust="spacingAndGlyphs">PACHCT</text>
<text transform="translate(76.19,251.9) rotate(-90)" textLength="15.6" lengthAdjust="spacingAndGlyphs">PAUDHW</text>
<text transform="translate(80.26,251.9) rotate(-90)" textLength="14.1" lengthAdjust="spacingAndGlyphs">PABUUM</text>
<text transform="translate(84.33,251.9) rotate(-90)" textLength="14.7" lengthAdjust="spacingAndGlyphs">PAHBTE</text>
<text transform="translate(88.40,251.9) rotate(-90)" textLength="14.8" lengthAdjust="spacingAndGlyphs">PAETDU</text>
<text transform="translate(92.48,251.9) rotate(-90)" textLength="15.4" lengthAdjust="spacingAndGlyphs">PAXFDU</text>
<text transform="translate(96.55,251.9) rotate(-90)" textLength="15.8" lengthAdjust="spacingAndGlyphs">PAGLDT</text>
<text transform="translate(100.62,251.9) rotate(-90)" textLength="15.2" lengthAdjust="spacingAndGlyphs">PAUBVG</text>
<text transform="translate(104.69,251.9) rotate(-90)" textLength="15.5" lengthAdjust="spacingAndGlyphs">PATNKP</text>
<text transform="translate(108.76,251.9) rotate(-90)" textLength="16.0" lengthAdjust="spacingAndGlyphs">PAPLJH</text>
<text transform="translate(112.84,251.9) rotate(-90)" textLength="14.8" lengthAdjust="spacingAndGlyphs">PAYHCU</text>
<text transform="translate(116.91,251.9) rotate(-90)" textLength="14.7" lengthAdjust="spacingAndGlyphs">PARKZP</text>
<text transform="translate(120.98,251.9) rotate(-90)" textLength="14.4" lengthAdjust="spacingAndGlyphs">PACDSN</text>
<text transform="translate(125.05,251.9) rotate(-90)" textLength="14.1" lengthAdjust="spacingAndGlyphs">PAKERN</text>
<text transform="translate(129.12,251.9) rotate(-90)" textLength="16.0" lengthAdjust="spacingAndGlyphs">PAXCTU</text>
<text transform="translate(133.20,251.9) rotate(-90)" textLength="15.5" lengthAdjust="spacingAndGlyphs">PAKKYL</text>
<text transform="translate(137.27,251.9) rotate(-90)" textLength="16.4" lengthAdjust="spacingAndGlyphs">PAUPCC</text>
<text transform="translate(141.34,251.9) rotate(-90)" textLength="14.2" lengthAdjust="spacingAndGlyphs">PARYXC</text>
<text transform="translate(145.41,251.9) rotate(-90)" textLength="16.5" lengthAdjust="spacingAndGlyphs">PAYJWU</text>
<text transform="translate(149.48,251.9) rotate(-90)" textLength="16.2" lengthAdjust="spacingAndGlyphs">PAPJYM</text>
<text transform="translate(153.56,251.9) rotate(-90)" textLength="14.4" lengthAdjust="spacingAndGlyphs">PALAPL</text>
<text transform="translate(157.63,251.9) rotate(-90)" textLength="15.9" lengthAdjust="spacingAndGlyphs">PADRBG</text>
<text transform="translate(161.70,251.9) rotate(-90)" textLength="15.0" lengthAdjust="spacingAndGlyphs">PAEZHM</text>
<text transform="translate(165.77,251.9) rotate(-90)" textLength="15.0" lengthAdjust="spacingAndGlyphs">PARCFP</text>
<text transform="translate(169.84,251.9) rotate(-90)" textLength="14.7" lengthAdjust="spacingAndGlyphs">PAIENT</text>
<text transform="translate(173.92,251.9) rotate(-90)" textLength="16.4" lengthAdjust="spacingAndGlyphs">PANLXM</text>
<text transform="translate(177.99,251.9) rotate(-90)" textLength="14.6" lengthAdjust="spacingAndGlyphs">PAECFE</text>
<text transform="translate(182.06,251.9) rotate(-90)" textLength="14.5" lengthAdjust="spacingAndGlyphs">PAHARU</text>
<text transform="translate(186.13,251.9) rotate(-90)" textLength="15.3" lengthAdjust="spacingAndGlyphs">PAJAEN</text>
<text transform="translate(190.20,251.9) rotate(-90)" textLength="15.7" lengthAdjust="spacingAndGlyphs">PAVUKE</text>
<text transform="translate(194.28,251.9) rotate(-90)" textLength="15.8" lengthAdjust="spacingAndGlyphs">PASVWX</text>
<text transform="translate(198.35,251.9) rotate(-90)" textLength="15.0" lengthAdjust="spacingAndGlyphs">PAPXTM</text>
<text transform="translate(202.42,251.9) rotate(-90)" textLength="15.0" lengthAdjust="spacingAndGlyphs">PAMDRW</text>
<text transform="translate(206.49,251.9) rotate(-90)" textLength="14.4" lengthAdjust="spacingAndGlyphs">PAGCGP</text>
<text transform="translate(210.56,251.9) rotate(-90)" textLength="14.0" lengthAdjust="spacingAndGlyphs">PAKVBD</text>
<text transform="translate(214.64,251.9) rotate(-90)" textLength="15.5" lengthAdjust="spacingAndGlyphs">PAETDL</text>
<text transform="translate(218.71,251.9) rotate(-90)" textLength="14.4" lengthAdjust="spacingAndGlyphs">PACGVM</text>
<text transform="translate(222.78,251.9) rotate(-90)" textLength="15.2" lengthAdjust="spacingAndGlyphs">PAILVL</text>
<text transform="translate(230.00,251.9) rotate(-90)" textLength="15.2" lengthAdjust="spacingAndGlyphs">PADRPR</text>
<text transform="translate(234.07,251.9) rotate(-90)" textLength="14.9" lengthAdjust="spacingAndGlyphs">PACEDZ</text>
<text transform="translate(238.14,251.9) rotate(-90)" textLength="15.3" lengthAdjust="spacingAndGlyphs">PAIRYF</text>
<text transform="translate(242.22,251.9) rotate(-90)" textLength="15.7" lengthAdjust="spacingAndGlyphs">PAGSLE</text>
<text transform="translate(246.29,251.9) rotate(-90)" textLength="16.2" lengthAdjust="spacingAndGlyphs">PAASJW</text>
<text transform="translate(253.40,251.9) rotate(-90)" textLength="16.3" lengthAdjust="spacingAndGlyphs">PAYISL</text>
<text transform="translate(257.47,251.9) rotate(-90)" textLength="15.9" lengthAdjust="spacingAndGlyphs">PALHTT</text>
<text transform="translate(261.54,251.9) rotate(-90)" textLength="16.0" lengthAdjust="spacingAndGlyphs">PAKWHV</text>
<text transform="translate(265.62,251.9) rotate(-90)" textLength="16.0" lengthAdjust="spacingAndGlyphs">PAGHMZ</text>
<text transform="translate(269.69,251.9) rotate(-90)" textLength="15.8" lengthAdjust="spacingAndGlyphs">PAGSRL</text>
<text transform="translate(273.76,251.9) rotate(-90)" textLength="14.5" lengthAdjust="spacingAndGlyphs">PAAIRI</text>
<text transform="translate(277.83,251.9) rotate(-90)" textLength="16.5" lengthAdjust="spacingAndGlyphs">PAVLPZ</text>
<text transform="translate(281.90,251.9) rotate(-90)" textLength="14.6" lengthAdjust="spacingAndGlyphs">PALCHD</text>
<text transform="translate(288.60,251.9) rotate(-90)" textLength="15.6" lengthAdjust="spacingAndGlyphs">PAGKGR</text>
<text transform="translate(292.67,251.9) rotate(-90)" textLength="14.9" lengthAdjust="spacingAndGlyphs">PAVARW</text>
<text transform="translate(296.74,251.9) rotate(-90)" textLength="16.3" lengthAdjust="spacingAndGlyphs">PAWCXD</text>
<text transform="translate(300.82,251.9) rotate(-90)" textLength="15.1" lengthAdjust="spacingAndGlyphs">PAYGRF</text>
<text transform="translate(304.89,251.9) rotate(-90)" textLength="15.0" lengthAdjust="spacingAndGlyphs">PAWKCZ</text>
<text transform="translate(308.96,251.9) rotate(-90)" textLength="14.4" lengthAdjust="spacingAndGlyphs">PAMZCZ</text>
<text transform="translate(313.03,251.9) rotate(-90)" textLength="16.3" lengthAdjust="spacingAndGlyphs">PAEAEU</text>
<text transform="translate(317.10,251.9) rotate(-90)" textLength="16.5" lengthAdjust="spacingAndGlyphs">PAWEVV</text>
<text transform="translate(321.18,251.9) rotate(-90)" textLength="15.4" lengthAdjust="spacingAndGlyphs">PAXLET</text>
<text transform="translate(325.25,251.9) rotate(-90)" textLength="14.3" lengthAdjust="spacingAndGlyphs">PAAAZW</text>
<text transform="translate(329.32,251.9) rotate(-90)" textLength="16.1" lengthAdjust="spacingAndGlyphs">PAZENG</text>
<text transform="translate(333.39,251.9) rotate(-90)" textLength="14.7" lengthAdjust="spacingAndGlyphs">PAGAIG</text>
<text transform="translate(337.46,251.9) rotate(-90)" textLength="15.4" lengthAdjust="spacingAndGlyphs">PAHUKI</text>
<text transform="translate(341.54,251.9) rotate(-90)" textLength="16.2" lengthAdjust="spacingAndGlyphs">PAEBZL</text>
<text transform="translate(345.61,251.9) rotate(-90)" textLength="16.1" lengthAdjust="spacingAndGlyphs">PAXUSN</text>
<text transform="translate(349.68,251.9) rotate(-90)" textLength="15.3" lengthAdjust="spacingAndGlyphs">PASETE</text>
<text transform="translate(353.75,251.9) rotate(-90)" textLength="14.0" lengthAdjust="spacingAndGlyphs">PAAPFV</text>
<text transform="translate(357.82,251.9) rotate(-90)" textLength="15.5" lengthAdjust="spacingAndGlyphs">PAEFER</text>
<text transform="translate(361.90,251.9) rotate(-90)" textLength="15.7" lengthAdjust="spacingAndGlyphs">PADTBK</text>
<text transform="translate(365.97,251.9) rotate(-90)" textLength="16.2" lengthAdjust="spacingAndGlyphs">PASTRD</text>
<text transform="translate(370.04,251.9) rotate(-90)" textLength="14.1" lengthAdjust="spacingAndGlyphs">PABHGI</text>
<text transform="translate(374.11,251.9) rotate(-90)" textLength="14.1" lengthAdjust="spacingAndGlyphs">PADSPT</text>
<text transform="translate(378.18,251.9) rotate(-90)" textLength="16.4" lengthAdjust="spacingAndGlyphs">PACPKV</text>
<text transform="translate(382.26,251.9) rotate(-90)" textLength="14.7" lengthAdjust="spacingAndGlyphs">PAVSGY</text>
<text transform="translate(386.33,251.9) rotate(-90)" textLength="16.4" lengthAdjust="spacingAndGlyphs">PASTRS</text>
<text transform="translate(390.40,251.9) rotate(-90)" textLength="16.2" lengthAdjust="spacingAndGlyphs">PAYSIT</text>
<text transform="translate(394.47,251.9) rotate(-90)" textLength="14.3" lengthAdjust="spacingAndGlyphs">PAGPEN</text>
<text transform="translate(398.54,251.9) rotate(-90)" textLength="14.6" lengthAdjust="spacingAndGlyphs">PAPKCX</text>
<text transform="translate(402.62,251.9) rotate(-90)" textLength="16.0" lengthAdjust="spacingAndGlyphs">PACGXJ</text>
<text transform="translate(406.69,251.9) rotate(-90)" textLength="14.9" lengthAdjust="spacingAndGlyphs">PAEYWX</text>
<text transform="translate(410.76,251.9) rotate(-90)" textLength="15.9" lengthAdjust="spacingAndGlyphs">PAIEPH</text>
<text transform="translate(414.83,251.9) rotate(-90)" textLength="16.5" lengthAdjust="spacingAndGlyphs">PADMRF</text>
<text transform="translate(418.90,251.9) rotate(-90)" textLength="16.5" lengthAdjust="spacingAndGlyphs">PAHFYN</text>
<text transform="translate(422.98,251.9) rotate(-90)" textLength="14.9" lengthAdjust="spacingAndGlyphs">PAMKNG</text>
<text transform="translate(427.05,251.9) rotate(-90)" textLength="14.8" lengthAdjust="spacingAndGlyphs">PACZLA</text>
<text transform="translate(431.12,251.9) rotate(-90)" textLength="15.0" lengthAdjust="spacingAndGlyphs">PAPPYA</text>
<text transform="translate(435.19,251.9) rotate(-90)" textLength="16.4" lengthAdjust="spacingAndGlyphs">PASVJS</text>
<text transform="translate(439.26,251.9) rotate(-90)" textLength="14.7" lengthAdjust="spacingAndGlyphs">PADHDC</text>
<text transform="translate(443.34,251.9) rotate(-90)" textLength="16.0" lengthAdjust="spacingAndGlyphs">PABFIE</text>
<text transform="translate(447.41,251.9) rotate(-90)" textLength="15.3" lengthAdjust="spacingAndGlyphs">PAXIME</text>
<text transform="translate(451.48,251.9) rotate(-90)" textLength="14.8" lengthAdjust="spacingAndGlyphs">PASURY</text>
<text transform="translate(455.55,251.9) rotate(-90)" textLength="15.1" lengthAdjust="spacingAndGlyphs">PAIBYF</text>
<text transform="translate(459.62,251.9) rotate(-90)" textLength="14.2" lengthAdjust="spacingAndGlyphs">PACIAW</text>
<text transform="translate(463.70,251.9) rotate(-90)" textLength="14.2" lengthAdjust="spacingAndGlyphs">PAICVH</text>
<text transform="translate(467.77,251.9) rotate(-90)" textLength="16.5" lengthAdjust="spacingAndGlyphs">PADPAK</text>
<text transform="translate(471.84,251.9) rotate(-90)" textLength="14.1" lengthAdjust="spacingAndGlyphs">PANIVE</text>
<text transform="translate(475.91,251.9) rotate(-90)" textLength="14.7" lengthAdjust="spacingAndGlyphs">PAYHDF</text>
<text transform="translate(479.98,251.9) rotate(-90)" textLength="14.8" lengthAdjust="spacingAndGlyphs">PAFGJW</text>
<text transform="translate(484.06,251.9) rotate(-90)" textLength="15.7" lengthAdjust="spacingAndGlyphs">PAGJPS</text>
<text transform="translate(488.13,251.9) rotate(-90)" textLength="14.1" lengthAdjust="spacingAndGlyphs">PAILAI</text>
<text transform="translate(492.20,251.9) rotate(-90)" textLength="16.4" lengthAdjust="spacingAndGlyphs">PAAZST</text>
<text transform="translate(496.27,251.9) rotate(-90)" textLength="14.3" lengthAdjust="spacingAndGlyphs">PASRHP</text>
<text transform="translate(500.34,251.9) rotate(-90)" textLength="15.4" lengthAdjust="spacingAndGlyphs">PAWNXR</text>
<text transform="translate(504.42,251.9) rotate(-90)" textLength="14.5" lengthAdjust="spacingAndGlyphs">PAMSJY</text>
<text transform="translate(508.49,251.9) rotate(-90)" textLength="15.8" lengthAdjust="spacingAndGlyphs">PAHKGY</text>
<text transform="translate(512.56,251.9) rotate(-90)" textLength="16.1" lengthAdjust="spacingAndGlyphs">PAEMLB</text>
</g>
<text x="124.6" y="54.0" font-family="Liberation Sans, sans-serif" font-size="8.4" font-weight="bold" font-style="italic" fill="#111" stroke="#111" stroke-width="0.2" textLength="32.7" lengthAdjust="spacingAndGlyphs">CRLF2-R</text>
<text x="358.8" y="53.6" font-family="Liberation Sans, sans-serif" font-size="8.4" font-weight="bold" fill="#111" stroke="#111" stroke-width="0.35" textLength="80" lengthAdjust="spacingAndGlyphs">No Kinase identified</text>
<text transform="translate(234.5,54.0) rotate(-45)" font-family="Liberation Sans, sans-serif" font-size="9" font-weight="bold" fill="#111" stroke="#111" stroke-width="0.3" textLength="52" lengthAdjust="spacingAndGlyphs">Kinase fusion</text>
<text transform="translate(276.5,54.5) rotate(-45)" font-family="Liberation Sans, sans-serif" font-size="9" font-weight="bold" fill="#111" stroke="#111" stroke-width="0.3" textLength="66" lengthAdjust="spacingAndGlyphs">JAK-STAT &amp; Ras</text>
<text x="116.0" y="291.2" font-family="Liberation Sans, sans-serif" font-size="8.8" fill="#2a2a2a" stroke="#2a2a2a" stroke-width="0.12" textLength="22.9" lengthAdjust="spacingAndGlyphs">Lesion</text>
<text x="123.8" y="303.7" font-family="Liberation Sans, sans-serif" font-size="8.8" fill="#1e1e1e" stroke="#1e1e1e" stroke-width="0.12" textLength="54.2" lengthAdjust="spacingAndGlyphs">Fusion 3' gene</text>
<text x="123.8" y="316.7" font-family="Liberation Sans, sans-serif" font-size="8.8" fill="#1e1e1e" stroke="#1e1e1e" stroke-width="0.12" textLength="54.2" lengthAdjust="spacingAndGlyphs">Fusion 5' gene</text>
<text x="123.8" y="329.5" font-family="Liberation Sans, sans-serif" font-size="8.8" fill="#1e1e1e" stroke="#1e1e1e" stroke-width="0.12" textLength="32.5" lengthAdjust="spacingAndGlyphs">Missense</text>
<text x="196.4" y="303.7" font-family="Liberation Sans, sans-serif" font-size="8.8" fill="#1e1e1e" stroke="#1e1e1e" stroke-width="0.12" textLength="18.8" lengthAdjust="spacingAndGlyphs">Indel</text>
<text x="227.6" y="291.0" font-family="Liberation Sans, sans-serif" font-size="8.8" fill="#2a2a2a" stroke="#2a2a2a" stroke-width="0.12" textLength="30.9" lengthAdjust="spacingAndGlyphs">Platform</text>
<text x="234.8" y="303.7" font-family="Liberation Sans, sans-serif" font-size="8.8" fill="#1e1e1e" stroke="#1e1e1e" stroke-width="0.12" textLength="32.3" lengthAdjust="spacingAndGlyphs">RNA-seq</text>
<text x="234.8" y="316.7" font-family="Liberation Sans, sans-serif" font-size="8.8" fill="#1e1e1e" stroke="#1e1e1e" stroke-width="0.12" textLength="15.5" lengthAdjust="spacingAndGlyphs">FISH</text>
<text x="234.8" y="329.5" font-family="Liberation Sans, sans-serif" font-size="8.8" fill="#1e1e1e" stroke="#1e1e1e" stroke-width="0.12" textLength="27.5" lengthAdjust="spacingAndGlyphs">RT-PCR</text>
<text x="280.4" y="291.0" font-family="Liberation Sans, sans-serif" font-size="8.8" fill="#2a2a2a" stroke="#2a2a2a" stroke-width="0.12" textLength="13.2" lengthAdjust="spacingAndGlyphs">Sex</text>
<text x="287.3" y="303.7" font-family="Liberation Sans, sans-serif" font-size="8.8" fill="#1e1e1e" stroke="#1e1e1e" stroke-width="0.12" textLength="26.7" lengthAdjust="spacingAndGlyphs">Female</text>
<text x="287.3" y="316.7" font-family="Liberation Sans, sans-serif" font-size="8.8" fill="#1e1e1e" stroke="#1e1e1e" stroke-width="0.12" textLength="18.5" lengthAdjust="spacingAndGlyphs">Male</text>
<text x="327.2" y="291.0" font-family="Liberation Sans, sans-serif" font-size="8.8" fill="#2a2a2a" stroke="#2a2a2a" stroke-width="0.12" textLength="64.9" lengthAdjust="spacingAndGlyphs">Ph-like coefficient</text>
<text x="334.4" y="303.7" font-family="Liberation Sans, sans-serif" font-size="8.8" fill="#1e1e1e" stroke="#1e1e1e" stroke-width="0.12" textLength="31.0" lengthAdjust="spacingAndGlyphs">0.5-0.64</text>
<text x="334.4" y="316.7" font-family="Liberation Sans, sans-serif" font-size="8.8" fill="#1e1e1e" stroke="#1e1e1e" stroke-width="0.12" textLength="35.0" lengthAdjust="spacingAndGlyphs">0.65-0.79</text>
<text x="334.4" y="329.5" font-family="Liberation Sans, sans-serif" font-size="8.8" fill="#1e1e1e" stroke="#1e1e1e" stroke-width="0.12" textLength="16.5" lengthAdjust="spacingAndGlyphs">&gt; 0.8</text>
<text x="405.7" y="291.0" font-family="Liberation Sans, sans-serif" font-size="8.8" fill="#2a2a2a" stroke="#2a2a2a" stroke-width="0.12" textLength="41.2" lengthAdjust="spacingAndGlyphs">CRLF2 ΔCT</text>
<text x="411.7" y="303.7" font-family="Liberation Sans, sans-serif" font-size="8.8" fill="#1e1e1e" stroke="#1e1e1e" stroke-width="0.12" textLength="8.5" lengthAdjust="spacingAndGlyphs">≤4</text>
<text x="411.7" y="316.7" font-family="Liberation Sans, sans-serif" font-size="8.8" fill="#1e1e1e" stroke="#1e1e1e" stroke-width="0.12" textLength="12.0" lengthAdjust="spacingAndGlyphs">4-6</text>
<text x="411.7" y="329.5" font-family="Liberation Sans, sans-serif" font-size="8.8" fill="#1e1e1e" stroke="#1e1e1e" stroke-width="0.12" textLength="8.5" lengthAdjust="spacingAndGlyphs">&gt;6</text></g></svg>
</body></html>
